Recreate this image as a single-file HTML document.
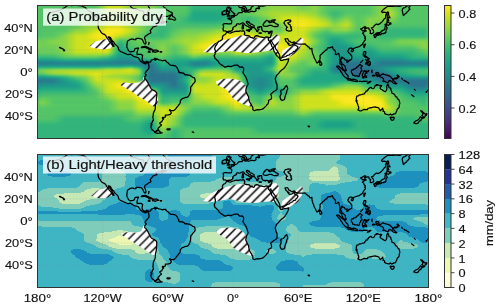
<!DOCTYPE html><html><head><meta charset="utf-8"><style>html,body{margin:0;padding:0;background:#fff;}svg{display:block;}text{font-family:"Liberation Sans",sans-serif;fill:#111;stroke:#111;stroke-width:0.15px;}svg{will-change:transform;}</style></head><body><svg width="500" height="307" viewBox="0 0 500 307"><defs><filter id="fv" filterUnits="userSpaceOnUse" x="20" y="-20" width="430" height="180" color-interpolation-filters="sRGB"><feGaussianBlur stdDeviation="0.8 2.2"/><feComponentTransfer><feFuncR type="table" tableValues="0.27 0.28 0.28 0.28 0.28 0.27 0.26 0.24 0.23 0.21 0.2 0.19 0.17 0.16 0.15 0.14 0.13 0.12 0.12 0.13 0.16 0.2 0.25 0.3 0.37 0.44 0.52 0.6 0.68 0.76 0.85 0.93 0.99"/><feFuncG type="table" tableValues="0 0.05 0.09 0.14 0.18 0.21 0.25 0.29 0.32 0.36 0.39 0.42 0.45 0.48 0.51 0.54 0.57 0.6 0.63 0.66 0.68 0.71 0.74 0.76 0.79 0.81 0.83 0.85 0.86 0.88 0.89 0.9 0.91"/><feFuncB type="table" tableValues="0.33 0.38 0.42 0.45 0.48 0.51 0.52 0.54 0.55 0.55 0.55 0.56 0.56 0.56 0.56 0.55 0.55 0.54 0.53 0.52 0.5 0.48 0.45 0.42 0.38 0.34 0.29 0.24 0.19 0.14 0.1 0.1 0.14"/><feFuncA type="discrete" tableValues="1"/></feComponentTransfer></filter><filter id="fb" filterUnits="userSpaceOnUse" x="20" y="130" width="430" height="180" color-interpolation-filters="sRGB"><feGaussianBlur stdDeviation="1 1.6"/><feComponentTransfer><feFuncR type="discrete" tableValues="1 0.93 0.78 0.5 0.25 0.11 0.13 0.15 0.03"/><feFuncG type="discrete" tableValues="1 0.97 0.91 0.8 0.71 0.57 0.37 0.2 0.11"/><feFuncB type="discrete" tableValues="0.85 0.69 0.71 0.73 0.77 0.75 0.66 0.58 0.35"/><feFuncA type="discrete" tableValues="1"/></feComponentTransfer></filter><pattern id="hp0" patternUnits="userSpaceOnUse" width="8.84" height="8.84"><path d="M-4.11,-2L-2,-4.11M4.73,-2L-2,4.73M13.57,-2L-2,13.57M22.41,-2L-2,22.41" stroke="#000" stroke-width="1.45" fill="none"/></pattern><pattern id="hp1" patternUnits="userSpaceOnUse" width="8.84" height="8.84"><path d="M-4.14,-2L-2,-4.14M4.7,-2L-2,4.7M13.54,-2L-2,13.54M22.38,-2L-2,22.38" stroke="#000" stroke-width="1.45" fill="none"/></pattern><pattern id="hp2" patternUnits="userSpaceOnUse" width="8.84" height="8.84"><path d="M-4.04,-2L-2,-4.04M4.8,-2L-2,4.8M13.64,-2L-2,13.64M22.48,-2L-2,22.48" stroke="#000" stroke-width="1.45" fill="none"/></pattern><pattern id="hp3" patternUnits="userSpaceOnUse" width="8.84" height="8.84"><path d="M-3.38,-2L-2,-3.38M5.46,-2L-2,5.46M14.3,-2L-2,14.3M23.14,-2L-2,23.14" stroke="#000" stroke-width="1.45" fill="none"/></pattern><pattern id="hp4" patternUnits="userSpaceOnUse" width="8.84" height="8.84"><path d="M-3.97,-2L-2,-3.97M4.87,-2L-2,4.87M13.71,-2L-2,13.71M22.55,-2L-2,22.55" stroke="#000" stroke-width="1.45" fill="none"/></pattern><pattern id="hp5" patternUnits="userSpaceOnUse" width="8.84" height="8.84"><path d="M-2.34,-2L-2,-2.34M6.5,-2L-2,6.5M15.34,-2L-2,15.34M24.18,-2L-2,24.18" stroke="#000" stroke-width="1.45" fill="none"/></pattern><pattern id="hp6" patternUnits="userSpaceOnUse" width="8.84" height="8.84"><path d="M-2.77,-2L-2,-2.77M6.07,-2L-2,6.07M14.91,-2L-2,14.91M23.75,-2L-2,23.75" stroke="#000" stroke-width="1.45" fill="none"/></pattern><pattern id="hp7" patternUnits="userSpaceOnUse" width="8.84" height="8.84"><path d="M-2.54,-2L-2,-2.54M6.3,-2L-2,6.3M15.14,-2L-2,15.14M23.98,-2L-2,23.98" stroke="#000" stroke-width="1.45" fill="none"/></pattern><pattern id="hp8" patternUnits="userSpaceOnUse" width="8.84" height="8.84"><path d="M-1.63,-2L-2,-1.63M7.21,-2L-2,7.21M16.05,-2L-2,16.05M24.89,-2L-2,24.89" stroke="#000" stroke-width="1.45" fill="none"/></pattern><clipPath id="c0"><rect x="38" y="6" width="390" height="132"/></clipPath><clipPath id="c1"><rect x="38" y="155" width="390" height="132"/></clipPath><linearGradient id="t0" gradientUnits="userSpaceOnUse" x1="37.5" y1="0" x2="428.5" y2="0"><stop offset="0" stop-color="rgb(187,187,187)"/><stop offset="0.01" stop-color="rgb(187,187,187)"/><stop offset="0.04" stop-color="rgb(187,187,187)"/><stop offset="0.07" stop-color="rgb(187,187,187)"/><stop offset="0.1" stop-color="rgb(187,187,187)"/><stop offset="0.12" stop-color="rgb(187,187,187)"/><stop offset="0.15" stop-color="rgb(187,187,187)"/><stop offset="0.18" stop-color="rgb(235,235,235)"/><stop offset="0.21" stop-color="rgb(235,235,235)"/><stop offset="0.24" stop-color="rgb(210,210,210)"/><stop offset="0.26" stop-color="rgb(210,210,210)"/><stop offset="0.29" stop-color="rgb(210,210,210)"/><stop offset="0.32" stop-color="rgb(187,187,187)"/><stop offset="0.35" stop-color="rgb(187,187,187)"/><stop offset="0.38" stop-color="rgb(187,187,187)"/><stop offset="0.4" stop-color="rgb(167,167,167)"/><stop offset="0.43" stop-color="rgb(167,167,167)"/><stop offset="0.46" stop-color="rgb(167,167,167)"/><stop offset="0.49" stop-color="rgb(167,167,167)"/><stop offset="0.51" stop-color="rgb(177,177,177)"/><stop offset="0.54" stop-color="rgb(187,187,187)"/><stop offset="0.57" stop-color="rgb(198,198,198)"/><stop offset="0.6" stop-color="rgb(210,210,210)"/><stop offset="0.62" stop-color="rgb(210,210,210)"/><stop offset="0.65" stop-color="rgb(210,210,210)"/><stop offset="0.68" stop-color="rgb(198,198,198)"/><stop offset="0.71" stop-color="rgb(210,210,210)"/><stop offset="0.74" stop-color="rgb(187,187,187)"/><stop offset="0.76" stop-color="rgb(187,187,187)"/><stop offset="0.79" stop-color="rgb(187,187,187)"/><stop offset="0.82" stop-color="rgb(187,187,187)"/><stop offset="0.85" stop-color="rgb(187,187,187)"/><stop offset="0.88" stop-color="rgb(210,210,210)"/><stop offset="0.9" stop-color="rgb(210,210,210)"/><stop offset="0.93" stop-color="rgb(187,187,187)"/><stop offset="0.96" stop-color="rgb(187,187,187)"/><stop offset="0.99" stop-color="rgb(187,187,187)"/><stop offset="1" stop-color="rgb(187,187,187)"/></linearGradient><linearGradient id="t1" gradientUnits="userSpaceOnUse" x1="37.5" y1="0" x2="428.5" y2="0"><stop offset="0" stop-color="rgb(187,187,187)"/><stop offset="0.01" stop-color="rgb(187,187,187)"/><stop offset="0.04" stop-color="rgb(187,187,187)"/><stop offset="0.07" stop-color="rgb(187,187,187)"/><stop offset="0.1" stop-color="rgb(187,187,187)"/><stop offset="0.12" stop-color="rgb(187,187,187)"/><stop offset="0.15" stop-color="rgb(187,187,187)"/><stop offset="0.18" stop-color="rgb(210,210,210)"/><stop offset="0.21" stop-color="rgb(210,210,210)"/><stop offset="0.24" stop-color="rgb(210,210,210)"/><stop offset="0.26" stop-color="rgb(210,210,210)"/><stop offset="0.29" stop-color="rgb(187,187,187)"/><stop offset="0.32" stop-color="rgb(187,187,187)"/><stop offset="0.35" stop-color="rgb(187,187,187)"/><stop offset="0.38" stop-color="rgb(187,187,187)"/><stop offset="0.4" stop-color="rgb(152,152,152)"/><stop offset="0.43" stop-color="rgb(152,152,152)"/><stop offset="0.46" stop-color="rgb(152,152,152)"/><stop offset="0.49" stop-color="rgb(167,167,167)"/><stop offset="0.51" stop-color="rgb(187,187,187)"/><stop offset="0.54" stop-color="rgb(198,198,198)"/><stop offset="0.57" stop-color="rgb(210,210,210)"/><stop offset="0.6" stop-color="rgb(222,222,222)"/><stop offset="0.62" stop-color="rgb(222,222,222)"/><stop offset="0.65" stop-color="rgb(222,222,222)"/><stop offset="0.68" stop-color="rgb(222,222,222)"/><stop offset="0.71" stop-color="rgb(210,210,210)"/><stop offset="0.74" stop-color="rgb(187,187,187)"/><stop offset="0.76" stop-color="rgb(167,167,167)"/><stop offset="0.79" stop-color="rgb(187,187,187)"/><stop offset="0.82" stop-color="rgb(187,187,187)"/><stop offset="0.85" stop-color="rgb(187,187,187)"/><stop offset="0.88" stop-color="rgb(210,210,210)"/><stop offset="0.9" stop-color="rgb(235,235,235)"/><stop offset="0.93" stop-color="rgb(187,187,187)"/><stop offset="0.96" stop-color="rgb(187,187,187)"/><stop offset="0.99" stop-color="rgb(187,187,187)"/><stop offset="1" stop-color="rgb(187,187,187)"/></linearGradient><linearGradient id="t2" gradientUnits="userSpaceOnUse" x1="37.5" y1="0" x2="428.5" y2="0"><stop offset="0" stop-color="rgb(187,187,187)"/><stop offset="0.01" stop-color="rgb(187,187,187)"/><stop offset="0.04" stop-color="rgb(187,187,187)"/><stop offset="0.07" stop-color="rgb(187,187,187)"/><stop offset="0.1" stop-color="rgb(187,187,187)"/><stop offset="0.12" stop-color="rgb(187,187,187)"/><stop offset="0.15" stop-color="rgb(187,187,187)"/><stop offset="0.18" stop-color="rgb(210,210,210)"/><stop offset="0.21" stop-color="rgb(210,210,210)"/><stop offset="0.24" stop-color="rgb(210,210,210)"/><stop offset="0.26" stop-color="rgb(210,210,210)"/><stop offset="0.29" stop-color="rgb(187,187,187)"/><stop offset="0.32" stop-color="rgb(187,187,187)"/><stop offset="0.35" stop-color="rgb(187,187,187)"/><stop offset="0.38" stop-color="rgb(167,167,167)"/><stop offset="0.4" stop-color="rgb(152,152,152)"/><stop offset="0.43" stop-color="rgb(152,152,152)"/><stop offset="0.46" stop-color="rgb(152,152,152)"/><stop offset="0.49" stop-color="rgb(167,167,167)"/><stop offset="0.51" stop-color="rgb(187,187,187)"/><stop offset="0.54" stop-color="rgb(167,167,167)"/><stop offset="0.57" stop-color="rgb(187,187,187)"/><stop offset="0.6" stop-color="rgb(210,210,210)"/><stop offset="0.62" stop-color="rgb(235,235,235)"/><stop offset="0.65" stop-color="rgb(245,245,245)"/><stop offset="0.68" stop-color="rgb(245,245,245)"/><stop offset="0.71" stop-color="rgb(235,235,235)"/><stop offset="0.74" stop-color="rgb(210,210,210)"/><stop offset="0.76" stop-color="rgb(187,187,187)"/><stop offset="0.79" stop-color="rgb(210,210,210)"/><stop offset="0.82" stop-color="rgb(187,187,187)"/><stop offset="0.85" stop-color="rgb(210,210,210)"/><stop offset="0.88" stop-color="rgb(210,210,210)"/><stop offset="0.9" stop-color="rgb(210,210,210)"/><stop offset="0.93" stop-color="rgb(187,187,187)"/><stop offset="0.96" stop-color="rgb(187,187,187)"/><stop offset="0.99" stop-color="rgb(187,187,187)"/><stop offset="1" stop-color="rgb(187,187,187)"/></linearGradient><linearGradient id="t3" gradientUnits="userSpaceOnUse" x1="37.5" y1="0" x2="428.5" y2="0"><stop offset="0" stop-color="rgb(187,187,187)"/><stop offset="0.01" stop-color="rgb(187,187,187)"/><stop offset="0.04" stop-color="rgb(187,187,187)"/><stop offset="0.07" stop-color="rgb(187,187,187)"/><stop offset="0.1" stop-color="rgb(187,187,187)"/><stop offset="0.12" stop-color="rgb(210,210,210)"/><stop offset="0.15" stop-color="rgb(210,210,210)"/><stop offset="0.18" stop-color="rgb(235,235,235)"/><stop offset="0.21" stop-color="rgb(235,235,235)"/><stop offset="0.24" stop-color="rgb(210,210,210)"/><stop offset="0.26" stop-color="rgb(210,210,210)"/><stop offset="0.29" stop-color="rgb(187,187,187)"/><stop offset="0.32" stop-color="rgb(167,167,167)"/><stop offset="0.35" stop-color="rgb(177,177,177)"/><stop offset="0.38" stop-color="rgb(177,177,177)"/><stop offset="0.4" stop-color="rgb(177,177,177)"/><stop offset="0.43" stop-color="rgb(177,177,177)"/><stop offset="0.46" stop-color="rgb(177,177,177)"/><stop offset="0.49" stop-color="rgb(187,187,187)"/><stop offset="0.51" stop-color="rgb(198,198,198)"/><stop offset="0.54" stop-color="rgb(187,187,187)"/><stop offset="0.57" stop-color="rgb(187,187,187)"/><stop offset="0.6" stop-color="rgb(198,198,198)"/><stop offset="0.62" stop-color="rgb(198,198,198)"/><stop offset="0.65" stop-color="rgb(245,245,245)"/><stop offset="0.68" stop-color="rgb(255,255,255)"/><stop offset="0.71" stop-color="rgb(245,245,245)"/><stop offset="0.74" stop-color="rgb(235,235,235)"/><stop offset="0.76" stop-color="rgb(210,210,210)"/><stop offset="0.79" stop-color="rgb(235,235,235)"/><stop offset="0.82" stop-color="rgb(187,187,187)"/><stop offset="0.85" stop-color="rgb(210,210,210)"/><stop offset="0.88" stop-color="rgb(187,187,187)"/><stop offset="0.9" stop-color="rgb(187,187,187)"/><stop offset="0.93" stop-color="rgb(187,187,187)"/><stop offset="0.96" stop-color="rgb(187,187,187)"/><stop offset="0.99" stop-color="rgb(187,187,187)"/><stop offset="1" stop-color="rgb(187,187,187)"/></linearGradient><linearGradient id="t4" gradientUnits="userSpaceOnUse" x1="37.5" y1="0" x2="428.5" y2="0"><stop offset="0" stop-color="rgb(177,177,177)"/><stop offset="0.01" stop-color="rgb(187,187,187)"/><stop offset="0.04" stop-color="rgb(187,187,187)"/><stop offset="0.07" stop-color="rgb(187,187,187)"/><stop offset="0.1" stop-color="rgb(210,210,210)"/><stop offset="0.12" stop-color="rgb(210,210,210)"/><stop offset="0.15" stop-color="rgb(235,235,235)"/><stop offset="0.18" stop-color="rgb(255,255,255)"/><stop offset="0.21" stop-color="rgb(255,255,255)"/><stop offset="0.24" stop-color="rgb(235,235,235)"/><stop offset="0.26" stop-color="rgb(210,210,210)"/><stop offset="0.29" stop-color="rgb(187,187,187)"/><stop offset="0.32" stop-color="rgb(167,167,167)"/><stop offset="0.35" stop-color="rgb(187,187,187)"/><stop offset="0.38" stop-color="rgb(198,198,198)"/><stop offset="0.4" stop-color="rgb(198,198,198)"/><stop offset="0.43" stop-color="rgb(198,198,198)"/><stop offset="0.46" stop-color="rgb(210,210,210)"/><stop offset="0.49" stop-color="rgb(222,222,222)"/><stop offset="0.51" stop-color="rgb(222,222,222)"/><stop offset="0.54" stop-color="rgb(210,210,210)"/><stop offset="0.57" stop-color="rgb(198,198,198)"/><stop offset="0.6" stop-color="rgb(198,198,198)"/><stop offset="0.62" stop-color="rgb(187,187,187)"/><stop offset="0.65" stop-color="rgb(235,235,235)"/><stop offset="0.68" stop-color="rgb(235,235,235)"/><stop offset="0.71" stop-color="rgb(210,210,210)"/><stop offset="0.74" stop-color="rgb(187,187,187)"/><stop offset="0.76" stop-color="rgb(210,210,210)"/><stop offset="0.79" stop-color="rgb(210,210,210)"/><stop offset="0.82" stop-color="rgb(187,187,187)"/><stop offset="0.85" stop-color="rgb(210,210,210)"/><stop offset="0.88" stop-color="rgb(187,187,187)"/><stop offset="0.9" stop-color="rgb(167,167,167)"/><stop offset="0.93" stop-color="rgb(167,167,167)"/><stop offset="0.96" stop-color="rgb(167,167,167)"/><stop offset="0.99" stop-color="rgb(167,167,167)"/><stop offset="1" stop-color="rgb(177,177,177)"/></linearGradient><linearGradient id="t5" gradientUnits="userSpaceOnUse" x1="37.5" y1="0" x2="428.5" y2="0"><stop offset="0" stop-color="rgb(177,177,177)"/><stop offset="0.01" stop-color="rgb(187,187,187)"/><stop offset="0.04" stop-color="rgb(187,187,187)"/><stop offset="0.07" stop-color="rgb(210,210,210)"/><stop offset="0.1" stop-color="rgb(235,235,235)"/><stop offset="0.12" stop-color="rgb(235,235,235)"/><stop offset="0.15" stop-color="rgb(255,255,255)"/><stop offset="0.18" stop-color="rgb(255,255,255)"/><stop offset="0.21" stop-color="rgb(235,235,235)"/><stop offset="0.24" stop-color="rgb(210,210,210)"/><stop offset="0.26" stop-color="rgb(198,198,198)"/><stop offset="0.29" stop-color="rgb(167,167,167)"/><stop offset="0.32" stop-color="rgb(167,167,167)"/><stop offset="0.35" stop-color="rgb(198,198,198)"/><stop offset="0.38" stop-color="rgb(210,210,210)"/><stop offset="0.4" stop-color="rgb(210,210,210)"/><stop offset="0.43" stop-color="rgb(222,222,222)"/><stop offset="0.46" stop-color="rgb(235,235,235)"/><stop offset="0.49" stop-color="rgb(255,255,255)"/><stop offset="0.51" stop-color="rgb(255,255,255)"/><stop offset="0.54" stop-color="rgb(255,255,255)"/><stop offset="0.57" stop-color="rgb(235,235,235)"/><stop offset="0.6" stop-color="rgb(210,210,210)"/><stop offset="0.62" stop-color="rgb(235,235,235)"/><stop offset="0.65" stop-color="rgb(235,235,235)"/><stop offset="0.68" stop-color="rgb(235,235,235)"/><stop offset="0.71" stop-color="rgb(187,187,187)"/><stop offset="0.74" stop-color="rgb(167,167,167)"/><stop offset="0.76" stop-color="rgb(167,167,167)"/><stop offset="0.79" stop-color="rgb(167,167,167)"/><stop offset="0.82" stop-color="rgb(167,167,167)"/><stop offset="0.85" stop-color="rgb(187,187,187)"/><stop offset="0.88" stop-color="rgb(167,167,167)"/><stop offset="0.9" stop-color="rgb(167,167,167)"/><stop offset="0.93" stop-color="rgb(167,167,167)"/><stop offset="0.96" stop-color="rgb(167,167,167)"/><stop offset="0.99" stop-color="rgb(167,167,167)"/><stop offset="1" stop-color="rgb(177,177,177)"/></linearGradient><linearGradient id="t6" gradientUnits="userSpaceOnUse" x1="37.5" y1="0" x2="428.5" y2="0"><stop offset="0" stop-color="rgb(204,204,204)"/><stop offset="0.01" stop-color="rgb(198,198,198)"/><stop offset="0.04" stop-color="rgb(210,210,210)"/><stop offset="0.07" stop-color="rgb(210,210,210)"/><stop offset="0.1" stop-color="rgb(235,235,235)"/><stop offset="0.12" stop-color="rgb(235,235,235)"/><stop offset="0.15" stop-color="rgb(235,235,235)"/><stop offset="0.18" stop-color="rgb(255,255,255)"/><stop offset="0.21" stop-color="rgb(167,167,167)"/><stop offset="0.24" stop-color="rgb(187,187,187)"/><stop offset="0.26" stop-color="rgb(198,198,198)"/><stop offset="0.29" stop-color="rgb(198,198,198)"/><stop offset="0.32" stop-color="rgb(198,198,198)"/><stop offset="0.35" stop-color="rgb(210,210,210)"/><stop offset="0.38" stop-color="rgb(222,222,222)"/><stop offset="0.4" stop-color="rgb(222,222,222)"/><stop offset="0.43" stop-color="rgb(235,235,235)"/><stop offset="0.46" stop-color="rgb(255,255,255)"/><stop offset="0.49" stop-color="rgb(255,255,255)"/><stop offset="0.51" stop-color="rgb(255,255,255)"/><stop offset="0.54" stop-color="rgb(255,255,255)"/><stop offset="0.57" stop-color="rgb(255,255,255)"/><stop offset="0.6" stop-color="rgb(235,235,235)"/><stop offset="0.62" stop-color="rgb(235,235,235)"/><stop offset="0.65" stop-color="rgb(235,235,235)"/><stop offset="0.68" stop-color="rgb(255,255,255)"/><stop offset="0.71" stop-color="rgb(210,210,210)"/><stop offset="0.74" stop-color="rgb(167,167,167)"/><stop offset="0.76" stop-color="rgb(136,136,136)"/><stop offset="0.79" stop-color="rgb(167,167,167)"/><stop offset="0.82" stop-color="rgb(187,187,187)"/><stop offset="0.85" stop-color="rgb(187,187,187)"/><stop offset="0.88" stop-color="rgb(187,187,187)"/><stop offset="0.9" stop-color="rgb(187,187,187)"/><stop offset="0.93" stop-color="rgb(210,210,210)"/><stop offset="0.96" stop-color="rgb(210,210,210)"/><stop offset="0.99" stop-color="rgb(210,210,210)"/><stop offset="1" stop-color="rgb(204,204,204)"/></linearGradient><linearGradient id="t7" gradientUnits="userSpaceOnUse" x1="37.5" y1="0" x2="428.5" y2="0"><stop offset="0" stop-color="rgb(204,204,204)"/><stop offset="0.01" stop-color="rgb(198,198,198)"/><stop offset="0.04" stop-color="rgb(198,198,198)"/><stop offset="0.07" stop-color="rgb(210,210,210)"/><stop offset="0.1" stop-color="rgb(235,235,235)"/><stop offset="0.12" stop-color="rgb(235,235,235)"/><stop offset="0.15" stop-color="rgb(255,255,255)"/><stop offset="0.18" stop-color="rgb(255,255,255)"/><stop offset="0.21" stop-color="rgb(152,152,152)"/><stop offset="0.24" stop-color="rgb(187,187,187)"/><stop offset="0.26" stop-color="rgb(187,187,187)"/><stop offset="0.29" stop-color="rgb(187,187,187)"/><stop offset="0.32" stop-color="rgb(210,210,210)"/><stop offset="0.35" stop-color="rgb(187,187,187)"/><stop offset="0.38" stop-color="rgb(210,210,210)"/><stop offset="0.4" stop-color="rgb(235,235,235)"/><stop offset="0.43" stop-color="rgb(255,255,255)"/><stop offset="0.46" stop-color="rgb(255,255,255)"/><stop offset="0.49" stop-color="rgb(255,255,255)"/><stop offset="0.51" stop-color="rgb(255,255,255)"/><stop offset="0.54" stop-color="rgb(255,255,255)"/><stop offset="0.57" stop-color="rgb(255,255,255)"/><stop offset="0.6" stop-color="rgb(255,255,255)"/><stop offset="0.62" stop-color="rgb(255,255,255)"/><stop offset="0.65" stop-color="rgb(235,235,235)"/><stop offset="0.68" stop-color="rgb(235,235,235)"/><stop offset="0.71" stop-color="rgb(187,187,187)"/><stop offset="0.74" stop-color="rgb(167,167,167)"/><stop offset="0.76" stop-color="rgb(136,136,136)"/><stop offset="0.79" stop-color="rgb(136,136,136)"/><stop offset="0.82" stop-color="rgb(167,167,167)"/><stop offset="0.85" stop-color="rgb(167,167,167)"/><stop offset="0.88" stop-color="rgb(187,187,187)"/><stop offset="0.9" stop-color="rgb(187,187,187)"/><stop offset="0.93" stop-color="rgb(187,187,187)"/><stop offset="0.96" stop-color="rgb(187,187,187)"/><stop offset="0.99" stop-color="rgb(210,210,210)"/><stop offset="1" stop-color="rgb(204,204,204)"/></linearGradient><linearGradient id="t8" gradientUnits="userSpaceOnUse" x1="37.5" y1="0" x2="428.5" y2="0"><stop offset="0" stop-color="rgb(193,193,193)"/><stop offset="0.01" stop-color="rgb(198,198,198)"/><stop offset="0.04" stop-color="rgb(198,198,198)"/><stop offset="0.07" stop-color="rgb(210,210,210)"/><stop offset="0.1" stop-color="rgb(235,235,235)"/><stop offset="0.12" stop-color="rgb(235,235,235)"/><stop offset="0.15" stop-color="rgb(235,235,235)"/><stop offset="0.18" stop-color="rgb(235,235,235)"/><stop offset="0.21" stop-color="rgb(152,152,152)"/><stop offset="0.24" stop-color="rgb(152,152,152)"/><stop offset="0.26" stop-color="rgb(187,187,187)"/><stop offset="0.29" stop-color="rgb(187,187,187)"/><stop offset="0.32" stop-color="rgb(210,210,210)"/><stop offset="0.35" stop-color="rgb(187,187,187)"/><stop offset="0.38" stop-color="rgb(210,210,210)"/><stop offset="0.4" stop-color="rgb(235,235,235)"/><stop offset="0.43" stop-color="rgb(235,235,235)"/><stop offset="0.46" stop-color="rgb(210,210,210)"/><stop offset="0.49" stop-color="rgb(210,210,210)"/><stop offset="0.51" stop-color="rgb(235,235,235)"/><stop offset="0.54" stop-color="rgb(235,235,235)"/><stop offset="0.57" stop-color="rgb(210,210,210)"/><stop offset="0.6" stop-color="rgb(187,187,187)"/><stop offset="0.62" stop-color="rgb(255,255,255)"/><stop offset="0.65" stop-color="rgb(255,255,255)"/><stop offset="0.68" stop-color="rgb(222,222,222)"/><stop offset="0.71" stop-color="rgb(198,198,198)"/><stop offset="0.74" stop-color="rgb(167,167,167)"/><stop offset="0.76" stop-color="rgb(136,136,136)"/><stop offset="0.79" stop-color="rgb(136,136,136)"/><stop offset="0.82" stop-color="rgb(167,167,167)"/><stop offset="0.85" stop-color="rgb(136,136,136)"/><stop offset="0.88" stop-color="rgb(167,167,167)"/><stop offset="0.9" stop-color="rgb(167,167,167)"/><stop offset="0.93" stop-color="rgb(167,167,167)"/><stop offset="0.96" stop-color="rgb(167,167,167)"/><stop offset="0.99" stop-color="rgb(187,187,187)"/><stop offset="1" stop-color="rgb(193,193,193)"/></linearGradient><linearGradient id="t9" gradientUnits="userSpaceOnUse" x1="37.5" y1="0" x2="428.5" y2="0"><stop offset="0" stop-color="rgb(167,167,167)"/><stop offset="0.01" stop-color="rgb(167,167,167)"/><stop offset="0.04" stop-color="rgb(167,167,167)"/><stop offset="0.07" stop-color="rgb(187,187,187)"/><stop offset="0.1" stop-color="rgb(187,187,187)"/><stop offset="0.12" stop-color="rgb(187,187,187)"/><stop offset="0.15" stop-color="rgb(187,187,187)"/><stop offset="0.18" stop-color="rgb(167,167,167)"/><stop offset="0.21" stop-color="rgb(136,136,136)"/><stop offset="0.24" stop-color="rgb(136,136,136)"/><stop offset="0.26" stop-color="rgb(167,167,167)"/><stop offset="0.29" stop-color="rgb(187,187,187)"/><stop offset="0.32" stop-color="rgb(187,187,187)"/><stop offset="0.35" stop-color="rgb(167,167,167)"/><stop offset="0.38" stop-color="rgb(167,167,167)"/><stop offset="0.4" stop-color="rgb(187,187,187)"/><stop offset="0.43" stop-color="rgb(167,167,167)"/><stop offset="0.46" stop-color="rgb(167,167,167)"/><stop offset="0.49" stop-color="rgb(167,167,167)"/><stop offset="0.51" stop-color="rgb(167,167,167)"/><stop offset="0.54" stop-color="rgb(167,167,167)"/><stop offset="0.57" stop-color="rgb(167,167,167)"/><stop offset="0.6" stop-color="rgb(136,136,136)"/><stop offset="0.62" stop-color="rgb(235,235,235)"/><stop offset="0.65" stop-color="rgb(235,235,235)"/><stop offset="0.68" stop-color="rgb(210,210,210)"/><stop offset="0.71" stop-color="rgb(198,198,198)"/><stop offset="0.74" stop-color="rgb(167,167,167)"/><stop offset="0.76" stop-color="rgb(136,136,136)"/><stop offset="0.79" stop-color="rgb(136,136,136)"/><stop offset="0.82" stop-color="rgb(136,136,136)"/><stop offset="0.85" stop-color="rgb(136,136,136)"/><stop offset="0.88" stop-color="rgb(136,136,136)"/><stop offset="0.9" stop-color="rgb(136,136,136)"/><stop offset="0.93" stop-color="rgb(136,136,136)"/><stop offset="0.96" stop-color="rgb(167,167,167)"/><stop offset="0.99" stop-color="rgb(167,167,167)"/><stop offset="1" stop-color="rgb(167,167,167)"/></linearGradient><linearGradient id="t10" gradientUnits="userSpaceOnUse" x1="37.5" y1="0" x2="428.5" y2="0"><stop offset="0" stop-color="rgb(96,96,96)"/><stop offset="0.01" stop-color="rgb(96,96,96)"/><stop offset="0.04" stop-color="rgb(96,96,96)"/><stop offset="0.07" stop-color="rgb(96,96,96)"/><stop offset="0.1" stop-color="rgb(96,96,96)"/><stop offset="0.12" stop-color="rgb(96,96,96)"/><stop offset="0.15" stop-color="rgb(96,96,96)"/><stop offset="0.18" stop-color="rgb(96,96,96)"/><stop offset="0.21" stop-color="rgb(96,96,96)"/><stop offset="0.24" stop-color="rgb(96,96,96)"/><stop offset="0.26" stop-color="rgb(96,96,96)"/><stop offset="0.29" stop-color="rgb(96,96,96)"/><stop offset="0.32" stop-color="rgb(167,167,167)"/><stop offset="0.35" stop-color="rgb(136,136,136)"/><stop offset="0.38" stop-color="rgb(136,136,136)"/><stop offset="0.4" stop-color="rgb(96,96,96)"/><stop offset="0.43" stop-color="rgb(96,96,96)"/><stop offset="0.46" stop-color="rgb(136,136,136)"/><stop offset="0.49" stop-color="rgb(136,136,136)"/><stop offset="0.51" stop-color="rgb(136,136,136)"/><stop offset="0.54" stop-color="rgb(136,136,136)"/><stop offset="0.57" stop-color="rgb(136,136,136)"/><stop offset="0.6" stop-color="rgb(136,136,136)"/><stop offset="0.62" stop-color="rgb(235,235,235)"/><stop offset="0.65" stop-color="rgb(210,210,210)"/><stop offset="0.68" stop-color="rgb(187,187,187)"/><stop offset="0.71" stop-color="rgb(210,210,210)"/><stop offset="0.74" stop-color="rgb(167,167,167)"/><stop offset="0.76" stop-color="rgb(136,136,136)"/><stop offset="0.79" stop-color="rgb(96,96,96)"/><stop offset="0.82" stop-color="rgb(96,96,96)"/><stop offset="0.85" stop-color="rgb(136,136,136)"/><stop offset="0.88" stop-color="rgb(96,96,96)"/><stop offset="0.9" stop-color="rgb(96,96,96)"/><stop offset="0.93" stop-color="rgb(96,96,96)"/><stop offset="0.96" stop-color="rgb(96,96,96)"/><stop offset="0.99" stop-color="rgb(96,96,96)"/><stop offset="1" stop-color="rgb(96,96,96)"/></linearGradient><linearGradient id="t11" gradientUnits="userSpaceOnUse" x1="37.5" y1="0" x2="428.5" y2="0"><stop offset="0" stop-color="rgb(182,182,182)"/><stop offset="0.01" stop-color="rgb(187,187,187)"/><stop offset="0.04" stop-color="rgb(187,187,187)"/><stop offset="0.07" stop-color="rgb(187,187,187)"/><stop offset="0.1" stop-color="rgb(187,187,187)"/><stop offset="0.12" stop-color="rgb(187,187,187)"/><stop offset="0.15" stop-color="rgb(187,187,187)"/><stop offset="0.18" stop-color="rgb(210,210,210)"/><stop offset="0.21" stop-color="rgb(210,210,210)"/><stop offset="0.24" stop-color="rgb(235,235,235)"/><stop offset="0.26" stop-color="rgb(187,187,187)"/><stop offset="0.29" stop-color="rgb(96,96,96)"/><stop offset="0.32" stop-color="rgb(136,136,136)"/><stop offset="0.35" stop-color="rgb(136,136,136)"/><stop offset="0.38" stop-color="rgb(167,167,167)"/><stop offset="0.4" stop-color="rgb(167,167,167)"/><stop offset="0.43" stop-color="rgb(187,187,187)"/><stop offset="0.46" stop-color="rgb(187,187,187)"/><stop offset="0.49" stop-color="rgb(187,187,187)"/><stop offset="0.51" stop-color="rgb(136,136,136)"/><stop offset="0.54" stop-color="rgb(136,136,136)"/><stop offset="0.57" stop-color="rgb(136,136,136)"/><stop offset="0.6" stop-color="rgb(187,187,187)"/><stop offset="0.62" stop-color="rgb(235,235,235)"/><stop offset="0.65" stop-color="rgb(187,187,187)"/><stop offset="0.68" stop-color="rgb(187,187,187)"/><stop offset="0.71" stop-color="rgb(167,167,167)"/><stop offset="0.74" stop-color="rgb(167,167,167)"/><stop offset="0.76" stop-color="rgb(96,96,96)"/><stop offset="0.79" stop-color="rgb(96,96,96)"/><stop offset="0.82" stop-color="rgb(96,96,96)"/><stop offset="0.85" stop-color="rgb(96,96,96)"/><stop offset="0.88" stop-color="rgb(136,136,136)"/><stop offset="0.9" stop-color="rgb(152,152,152)"/><stop offset="0.93" stop-color="rgb(167,167,167)"/><stop offset="0.96" stop-color="rgb(177,177,177)"/><stop offset="0.99" stop-color="rgb(177,177,177)"/><stop offset="1" stop-color="rgb(182,182,182)"/></linearGradient><linearGradient id="t12" gradientUnits="userSpaceOnUse" x1="37.5" y1="0" x2="428.5" y2="0"><stop offset="0" stop-color="rgb(172,172,172)"/><stop offset="0.01" stop-color="rgb(167,167,167)"/><stop offset="0.04" stop-color="rgb(187,187,187)"/><stop offset="0.07" stop-color="rgb(187,187,187)"/><stop offset="0.1" stop-color="rgb(210,210,210)"/><stop offset="0.12" stop-color="rgb(210,210,210)"/><stop offset="0.15" stop-color="rgb(235,235,235)"/><stop offset="0.18" stop-color="rgb(210,210,210)"/><stop offset="0.21" stop-color="rgb(198,198,198)"/><stop offset="0.24" stop-color="rgb(198,198,198)"/><stop offset="0.26" stop-color="rgb(187,187,187)"/><stop offset="0.29" stop-color="rgb(96,96,96)"/><stop offset="0.32" stop-color="rgb(96,96,96)"/><stop offset="0.35" stop-color="rgb(96,96,96)"/><stop offset="0.38" stop-color="rgb(136,136,136)"/><stop offset="0.4" stop-color="rgb(187,187,187)"/><stop offset="0.43" stop-color="rgb(187,187,187)"/><stop offset="0.46" stop-color="rgb(187,187,187)"/><stop offset="0.49" stop-color="rgb(210,210,210)"/><stop offset="0.51" stop-color="rgb(210,210,210)"/><stop offset="0.54" stop-color="rgb(136,136,136)"/><stop offset="0.57" stop-color="rgb(136,136,136)"/><stop offset="0.6" stop-color="rgb(136,136,136)"/><stop offset="0.62" stop-color="rgb(210,210,210)"/><stop offset="0.65" stop-color="rgb(210,210,210)"/><stop offset="0.68" stop-color="rgb(177,177,177)"/><stop offset="0.71" stop-color="rgb(152,152,152)"/><stop offset="0.74" stop-color="rgb(152,152,152)"/><stop offset="0.76" stop-color="rgb(152,152,152)"/><stop offset="0.79" stop-color="rgb(136,136,136)"/><stop offset="0.82" stop-color="rgb(96,96,96)"/><stop offset="0.85" stop-color="rgb(96,96,96)"/><stop offset="0.88" stop-color="rgb(84,84,84)"/><stop offset="0.9" stop-color="rgb(116,116,116)"/><stop offset="0.93" stop-color="rgb(152,152,152)"/><stop offset="0.96" stop-color="rgb(167,167,167)"/><stop offset="0.99" stop-color="rgb(177,177,177)"/><stop offset="1" stop-color="rgb(172,172,172)"/></linearGradient><linearGradient id="t13" gradientUnits="userSpaceOnUse" x1="37.5" y1="0" x2="428.5" y2="0"><stop offset="0" stop-color="rgb(96,96,96)"/><stop offset="0.01" stop-color="rgb(96,96,96)"/><stop offset="0.04" stop-color="rgb(96,96,96)"/><stop offset="0.07" stop-color="rgb(136,136,136)"/><stop offset="0.1" stop-color="rgb(167,167,167)"/><stop offset="0.12" stop-color="rgb(187,187,187)"/><stop offset="0.15" stop-color="rgb(235,235,235)"/><stop offset="0.18" stop-color="rgb(235,235,235)"/><stop offset="0.21" stop-color="rgb(235,235,235)"/><stop offset="0.24" stop-color="rgb(210,210,210)"/><stop offset="0.26" stop-color="rgb(187,187,187)"/><stop offset="0.29" stop-color="rgb(96,96,96)"/><stop offset="0.32" stop-color="rgb(96,96,96)"/><stop offset="0.35" stop-color="rgb(96,96,96)"/><stop offset="0.38" stop-color="rgb(167,167,167)"/><stop offset="0.4" stop-color="rgb(210,210,210)"/><stop offset="0.43" stop-color="rgb(210,210,210)"/><stop offset="0.46" stop-color="rgb(235,235,235)"/><stop offset="0.49" stop-color="rgb(235,235,235)"/><stop offset="0.51" stop-color="rgb(235,235,235)"/><stop offset="0.54" stop-color="rgb(136,136,136)"/><stop offset="0.57" stop-color="rgb(116,116,116)"/><stop offset="0.6" stop-color="rgb(136,136,136)"/><stop offset="0.62" stop-color="rgb(187,187,187)"/><stop offset="0.65" stop-color="rgb(187,187,187)"/><stop offset="0.68" stop-color="rgb(152,152,152)"/><stop offset="0.71" stop-color="rgb(152,152,152)"/><stop offset="0.74" stop-color="rgb(152,152,152)"/><stop offset="0.76" stop-color="rgb(152,152,152)"/><stop offset="0.79" stop-color="rgb(152,152,152)"/><stop offset="0.82" stop-color="rgb(136,136,136)"/><stop offset="0.85" stop-color="rgb(136,136,136)"/><stop offset="0.88" stop-color="rgb(96,96,96)"/><stop offset="0.9" stop-color="rgb(96,96,96)"/><stop offset="0.93" stop-color="rgb(96,96,96)"/><stop offset="0.96" stop-color="rgb(96,96,96)"/><stop offset="0.99" stop-color="rgb(96,96,96)"/><stop offset="1" stop-color="rgb(96,96,96)"/></linearGradient><linearGradient id="t14" gradientUnits="userSpaceOnUse" x1="37.5" y1="0" x2="428.5" y2="0"><stop offset="0" stop-color="rgb(116,116,116)"/><stop offset="0.01" stop-color="rgb(136,136,136)"/><stop offset="0.04" stop-color="rgb(136,136,136)"/><stop offset="0.07" stop-color="rgb(136,136,136)"/><stop offset="0.1" stop-color="rgb(136,136,136)"/><stop offset="0.12" stop-color="rgb(167,167,167)"/><stop offset="0.15" stop-color="rgb(210,210,210)"/><stop offset="0.18" stop-color="rgb(235,235,235)"/><stop offset="0.21" stop-color="rgb(255,255,255)"/><stop offset="0.24" stop-color="rgb(255,255,255)"/><stop offset="0.26" stop-color="rgb(255,255,255)"/><stop offset="0.29" stop-color="rgb(136,136,136)"/><stop offset="0.32" stop-color="rgb(136,136,136)"/><stop offset="0.35" stop-color="rgb(96,96,96)"/><stop offset="0.38" stop-color="rgb(136,136,136)"/><stop offset="0.4" stop-color="rgb(235,235,235)"/><stop offset="0.43" stop-color="rgb(235,235,235)"/><stop offset="0.46" stop-color="rgb(235,235,235)"/><stop offset="0.49" stop-color="rgb(255,255,255)"/><stop offset="0.51" stop-color="rgb(255,255,255)"/><stop offset="0.54" stop-color="rgb(136,136,136)"/><stop offset="0.57" stop-color="rgb(116,116,116)"/><stop offset="0.6" stop-color="rgb(136,136,136)"/><stop offset="0.62" stop-color="rgb(187,187,187)"/><stop offset="0.65" stop-color="rgb(187,187,187)"/><stop offset="0.68" stop-color="rgb(167,167,167)"/><stop offset="0.71" stop-color="rgb(167,167,167)"/><stop offset="0.74" stop-color="rgb(167,167,167)"/><stop offset="0.76" stop-color="rgb(187,187,187)"/><stop offset="0.79" stop-color="rgb(210,210,210)"/><stop offset="0.82" stop-color="rgb(210,210,210)"/><stop offset="0.85" stop-color="rgb(167,167,167)"/><stop offset="0.88" stop-color="rgb(167,167,167)"/><stop offset="0.9" stop-color="rgb(136,136,136)"/><stop offset="0.93" stop-color="rgb(136,136,136)"/><stop offset="0.96" stop-color="rgb(96,96,96)"/><stop offset="0.99" stop-color="rgb(96,96,96)"/><stop offset="1" stop-color="rgb(116,116,116)"/></linearGradient><linearGradient id="t15" gradientUnits="userSpaceOnUse" x1="37.5" y1="0" x2="428.5" y2="0"><stop offset="0" stop-color="rgb(152,152,152)"/><stop offset="0.01" stop-color="rgb(167,167,167)"/><stop offset="0.04" stop-color="rgb(167,167,167)"/><stop offset="0.07" stop-color="rgb(167,167,167)"/><stop offset="0.1" stop-color="rgb(167,167,167)"/><stop offset="0.12" stop-color="rgb(167,167,167)"/><stop offset="0.15" stop-color="rgb(187,187,187)"/><stop offset="0.18" stop-color="rgb(235,235,235)"/><stop offset="0.21" stop-color="rgb(235,235,235)"/><stop offset="0.24" stop-color="rgb(255,255,255)"/><stop offset="0.26" stop-color="rgb(255,255,255)"/><stop offset="0.29" stop-color="rgb(255,255,255)"/><stop offset="0.32" stop-color="rgb(136,136,136)"/><stop offset="0.35" stop-color="rgb(136,136,136)"/><stop offset="0.38" stop-color="rgb(136,136,136)"/><stop offset="0.4" stop-color="rgb(235,235,235)"/><stop offset="0.43" stop-color="rgb(235,235,235)"/><stop offset="0.46" stop-color="rgb(235,235,235)"/><stop offset="0.49" stop-color="rgb(255,255,255)"/><stop offset="0.51" stop-color="rgb(255,255,255)"/><stop offset="0.54" stop-color="rgb(167,167,167)"/><stop offset="0.57" stop-color="rgb(136,136,136)"/><stop offset="0.6" stop-color="rgb(167,167,167)"/><stop offset="0.62" stop-color="rgb(136,136,136)"/><stop offset="0.65" stop-color="rgb(187,187,187)"/><stop offset="0.68" stop-color="rgb(210,210,210)"/><stop offset="0.71" stop-color="rgb(210,210,210)"/><stop offset="0.74" stop-color="rgb(235,235,235)"/><stop offset="0.76" stop-color="rgb(235,235,235)"/><stop offset="0.79" stop-color="rgb(235,235,235)"/><stop offset="0.82" stop-color="rgb(235,235,235)"/><stop offset="0.85" stop-color="rgb(210,210,210)"/><stop offset="0.88" stop-color="rgb(210,210,210)"/><stop offset="0.9" stop-color="rgb(187,187,187)"/><stop offset="0.93" stop-color="rgb(167,167,167)"/><stop offset="0.96" stop-color="rgb(136,136,136)"/><stop offset="0.99" stop-color="rgb(136,136,136)"/><stop offset="1" stop-color="rgb(152,152,152)"/></linearGradient><linearGradient id="t16" gradientUnits="userSpaceOnUse" x1="37.5" y1="0" x2="428.5" y2="0"><stop offset="0" stop-color="rgb(177,177,177)"/><stop offset="0.01" stop-color="rgb(187,187,187)"/><stop offset="0.04" stop-color="rgb(187,187,187)"/><stop offset="0.07" stop-color="rgb(187,187,187)"/><stop offset="0.1" stop-color="rgb(187,187,187)"/><stop offset="0.12" stop-color="rgb(187,187,187)"/><stop offset="0.15" stop-color="rgb(187,187,187)"/><stop offset="0.18" stop-color="rgb(210,210,210)"/><stop offset="0.21" stop-color="rgb(235,235,235)"/><stop offset="0.24" stop-color="rgb(235,235,235)"/><stop offset="0.26" stop-color="rgb(255,255,255)"/><stop offset="0.29" stop-color="rgb(255,255,255)"/><stop offset="0.32" stop-color="rgb(167,167,167)"/><stop offset="0.35" stop-color="rgb(167,167,167)"/><stop offset="0.38" stop-color="rgb(167,167,167)"/><stop offset="0.4" stop-color="rgb(210,210,210)"/><stop offset="0.43" stop-color="rgb(235,235,235)"/><stop offset="0.46" stop-color="rgb(235,235,235)"/><stop offset="0.49" stop-color="rgb(255,255,255)"/><stop offset="0.51" stop-color="rgb(255,255,255)"/><stop offset="0.54" stop-color="rgb(187,187,187)"/><stop offset="0.57" stop-color="rgb(177,177,177)"/><stop offset="0.6" stop-color="rgb(210,210,210)"/><stop offset="0.62" stop-color="rgb(187,187,187)"/><stop offset="0.65" stop-color="rgb(210,210,210)"/><stop offset="0.68" stop-color="rgb(235,235,235)"/><stop offset="0.71" stop-color="rgb(235,235,235)"/><stop offset="0.74" stop-color="rgb(235,235,235)"/><stop offset="0.76" stop-color="rgb(255,255,255)"/><stop offset="0.79" stop-color="rgb(255,255,255)"/><stop offset="0.82" stop-color="rgb(255,255,255)"/><stop offset="0.85" stop-color="rgb(255,255,255)"/><stop offset="0.88" stop-color="rgb(235,235,235)"/><stop offset="0.9" stop-color="rgb(210,210,210)"/><stop offset="0.93" stop-color="rgb(187,187,187)"/><stop offset="0.96" stop-color="rgb(167,167,167)"/><stop offset="0.99" stop-color="rgb(167,167,167)"/><stop offset="1" stop-color="rgb(177,177,177)"/></linearGradient><linearGradient id="t17" gradientUnits="userSpaceOnUse" x1="37.5" y1="0" x2="428.5" y2="0"><stop offset="0" stop-color="rgb(188,188,188)"/><stop offset="0.01" stop-color="rgb(210,210,210)"/><stop offset="0.04" stop-color="rgb(187,187,187)"/><stop offset="0.07" stop-color="rgb(187,187,187)"/><stop offset="0.1" stop-color="rgb(187,187,187)"/><stop offset="0.12" stop-color="rgb(187,187,187)"/><stop offset="0.15" stop-color="rgb(187,187,187)"/><stop offset="0.18" stop-color="rgb(187,187,187)"/><stop offset="0.21" stop-color="rgb(210,210,210)"/><stop offset="0.24" stop-color="rgb(210,210,210)"/><stop offset="0.26" stop-color="rgb(235,235,235)"/><stop offset="0.29" stop-color="rgb(255,255,255)"/><stop offset="0.32" stop-color="rgb(167,167,167)"/><stop offset="0.35" stop-color="rgb(187,187,187)"/><stop offset="0.38" stop-color="rgb(187,187,187)"/><stop offset="0.4" stop-color="rgb(210,210,210)"/><stop offset="0.43" stop-color="rgb(210,210,210)"/><stop offset="0.46" stop-color="rgb(235,235,235)"/><stop offset="0.49" stop-color="rgb(235,235,235)"/><stop offset="0.51" stop-color="rgb(255,255,255)"/><stop offset="0.54" stop-color="rgb(198,198,198)"/><stop offset="0.57" stop-color="rgb(177,177,177)"/><stop offset="0.6" stop-color="rgb(235,235,235)"/><stop offset="0.62" stop-color="rgb(210,210,210)"/><stop offset="0.65" stop-color="rgb(210,210,210)"/><stop offset="0.68" stop-color="rgb(235,235,235)"/><stop offset="0.71" stop-color="rgb(235,235,235)"/><stop offset="0.74" stop-color="rgb(235,235,235)"/><stop offset="0.76" stop-color="rgb(235,235,235)"/><stop offset="0.79" stop-color="rgb(255,255,255)"/><stop offset="0.82" stop-color="rgb(255,255,255)"/><stop offset="0.85" stop-color="rgb(255,255,255)"/><stop offset="0.88" stop-color="rgb(255,255,255)"/><stop offset="0.9" stop-color="rgb(210,210,210)"/><stop offset="0.93" stop-color="rgb(187,187,187)"/><stop offset="0.96" stop-color="rgb(187,187,187)"/><stop offset="0.99" stop-color="rgb(167,167,167)"/><stop offset="1" stop-color="rgb(188,188,188)"/></linearGradient><linearGradient id="t18" gradientUnits="userSpaceOnUse" x1="37.5" y1="0" x2="428.5" y2="0"><stop offset="0" stop-color="rgb(187,187,187)"/><stop offset="0.01" stop-color="rgb(187,187,187)"/><stop offset="0.04" stop-color="rgb(187,187,187)"/><stop offset="0.07" stop-color="rgb(187,187,187)"/><stop offset="0.1" stop-color="rgb(187,187,187)"/><stop offset="0.12" stop-color="rgb(187,187,187)"/><stop offset="0.15" stop-color="rgb(187,187,187)"/><stop offset="0.18" stop-color="rgb(187,187,187)"/><stop offset="0.21" stop-color="rgb(210,210,210)"/><stop offset="0.24" stop-color="rgb(210,210,210)"/><stop offset="0.26" stop-color="rgb(235,235,235)"/><stop offset="0.29" stop-color="rgb(235,235,235)"/><stop offset="0.32" stop-color="rgb(235,235,235)"/><stop offset="0.35" stop-color="rgb(235,235,235)"/><stop offset="0.38" stop-color="rgb(210,210,210)"/><stop offset="0.4" stop-color="rgb(187,187,187)"/><stop offset="0.43" stop-color="rgb(187,187,187)"/><stop offset="0.46" stop-color="rgb(187,187,187)"/><stop offset="0.49" stop-color="rgb(210,210,210)"/><stop offset="0.51" stop-color="rgb(235,235,235)"/><stop offset="0.54" stop-color="rgb(235,235,235)"/><stop offset="0.57" stop-color="rgb(210,210,210)"/><stop offset="0.6" stop-color="rgb(210,210,210)"/><stop offset="0.62" stop-color="rgb(210,210,210)"/><stop offset="0.65" stop-color="rgb(210,210,210)"/><stop offset="0.68" stop-color="rgb(235,235,235)"/><stop offset="0.71" stop-color="rgb(235,235,235)"/><stop offset="0.74" stop-color="rgb(235,235,235)"/><stop offset="0.76" stop-color="rgb(235,235,235)"/><stop offset="0.79" stop-color="rgb(235,235,235)"/><stop offset="0.82" stop-color="rgb(235,235,235)"/><stop offset="0.85" stop-color="rgb(255,255,255)"/><stop offset="0.88" stop-color="rgb(255,255,255)"/><stop offset="0.9" stop-color="rgb(235,235,235)"/><stop offset="0.93" stop-color="rgb(187,187,187)"/><stop offset="0.96" stop-color="rgb(187,187,187)"/><stop offset="0.99" stop-color="rgb(187,187,187)"/><stop offset="1" stop-color="rgb(187,187,187)"/></linearGradient><linearGradient id="t19" gradientUnits="userSpaceOnUse" x1="37.5" y1="0" x2="428.5" y2="0"><stop offset="0" stop-color="rgb(187,187,187)"/><stop offset="0.01" stop-color="rgb(187,187,187)"/><stop offset="0.04" stop-color="rgb(187,187,187)"/><stop offset="0.07" stop-color="rgb(187,187,187)"/><stop offset="0.1" stop-color="rgb(187,187,187)"/><stop offset="0.12" stop-color="rgb(187,187,187)"/><stop offset="0.15" stop-color="rgb(187,187,187)"/><stop offset="0.18" stop-color="rgb(187,187,187)"/><stop offset="0.21" stop-color="rgb(187,187,187)"/><stop offset="0.24" stop-color="rgb(187,187,187)"/><stop offset="0.26" stop-color="rgb(210,210,210)"/><stop offset="0.29" stop-color="rgb(210,210,210)"/><stop offset="0.32" stop-color="rgb(235,235,235)"/><stop offset="0.35" stop-color="rgb(235,235,235)"/><stop offset="0.38" stop-color="rgb(187,187,187)"/><stop offset="0.4" stop-color="rgb(167,167,167)"/><stop offset="0.43" stop-color="rgb(167,167,167)"/><stop offset="0.46" stop-color="rgb(167,167,167)"/><stop offset="0.49" stop-color="rgb(187,187,187)"/><stop offset="0.51" stop-color="rgb(187,187,187)"/><stop offset="0.54" stop-color="rgb(187,187,187)"/><stop offset="0.57" stop-color="rgb(187,187,187)"/><stop offset="0.6" stop-color="rgb(187,187,187)"/><stop offset="0.62" stop-color="rgb(187,187,187)"/><stop offset="0.65" stop-color="rgb(187,187,187)"/><stop offset="0.68" stop-color="rgb(210,210,210)"/><stop offset="0.71" stop-color="rgb(187,187,187)"/><stop offset="0.74" stop-color="rgb(187,187,187)"/><stop offset="0.76" stop-color="rgb(187,187,187)"/><stop offset="0.79" stop-color="rgb(187,187,187)"/><stop offset="0.82" stop-color="rgb(187,187,187)"/><stop offset="0.85" stop-color="rgb(187,187,187)"/><stop offset="0.88" stop-color="rgb(187,187,187)"/><stop offset="0.9" stop-color="rgb(210,210,210)"/><stop offset="0.93" stop-color="rgb(187,187,187)"/><stop offset="0.96" stop-color="rgb(187,187,187)"/><stop offset="0.99" stop-color="rgb(187,187,187)"/><stop offset="1" stop-color="rgb(187,187,187)"/></linearGradient><linearGradient id="t20" gradientUnits="userSpaceOnUse" x1="37.5" y1="0" x2="428.5" y2="0"><stop offset="0" stop-color="rgb(187,187,187)"/><stop offset="0.01" stop-color="rgb(187,187,187)"/><stop offset="0.04" stop-color="rgb(187,187,187)"/><stop offset="0.07" stop-color="rgb(167,167,167)"/><stop offset="0.1" stop-color="rgb(167,167,167)"/><stop offset="0.12" stop-color="rgb(167,167,167)"/><stop offset="0.15" stop-color="rgb(167,167,167)"/><stop offset="0.18" stop-color="rgb(167,167,167)"/><stop offset="0.21" stop-color="rgb(167,167,167)"/><stop offset="0.24" stop-color="rgb(187,187,187)"/><stop offset="0.26" stop-color="rgb(187,187,187)"/><stop offset="0.29" stop-color="rgb(167,167,167)"/><stop offset="0.32" stop-color="rgb(235,235,235)"/><stop offset="0.35" stop-color="rgb(210,210,210)"/><stop offset="0.38" stop-color="rgb(167,167,167)"/><stop offset="0.4" stop-color="rgb(167,167,167)"/><stop offset="0.43" stop-color="rgb(167,167,167)"/><stop offset="0.46" stop-color="rgb(167,167,167)"/><stop offset="0.49" stop-color="rgb(167,167,167)"/><stop offset="0.51" stop-color="rgb(167,167,167)"/><stop offset="0.54" stop-color="rgb(167,167,167)"/><stop offset="0.57" stop-color="rgb(167,167,167)"/><stop offset="0.6" stop-color="rgb(167,167,167)"/><stop offset="0.62" stop-color="rgb(167,167,167)"/><stop offset="0.65" stop-color="rgb(167,167,167)"/><stop offset="0.68" stop-color="rgb(167,167,167)"/><stop offset="0.71" stop-color="rgb(167,167,167)"/><stop offset="0.74" stop-color="rgb(167,167,167)"/><stop offset="0.76" stop-color="rgb(167,167,167)"/><stop offset="0.79" stop-color="rgb(167,167,167)"/><stop offset="0.82" stop-color="rgb(167,167,167)"/><stop offset="0.85" stop-color="rgb(167,167,167)"/><stop offset="0.88" stop-color="rgb(167,167,167)"/><stop offset="0.9" stop-color="rgb(167,167,167)"/><stop offset="0.93" stop-color="rgb(167,167,167)"/><stop offset="0.96" stop-color="rgb(167,167,167)"/><stop offset="0.99" stop-color="rgb(187,187,187)"/><stop offset="1" stop-color="rgb(187,187,187)"/></linearGradient><linearGradient id="t21" gradientUnits="userSpaceOnUse" x1="37.5" y1="0" x2="428.5" y2="0"><stop offset="0" stop-color="rgb(167,167,167)"/><stop offset="0.01" stop-color="rgb(167,167,167)"/><stop offset="0.04" stop-color="rgb(167,167,167)"/><stop offset="0.07" stop-color="rgb(167,167,167)"/><stop offset="0.1" stop-color="rgb(167,167,167)"/><stop offset="0.12" stop-color="rgb(167,167,167)"/><stop offset="0.15" stop-color="rgb(167,167,167)"/><stop offset="0.18" stop-color="rgb(167,167,167)"/><stop offset="0.21" stop-color="rgb(167,167,167)"/><stop offset="0.24" stop-color="rgb(167,167,167)"/><stop offset="0.26" stop-color="rgb(167,167,167)"/><stop offset="0.29" stop-color="rgb(136,136,136)"/><stop offset="0.32" stop-color="rgb(235,235,235)"/><stop offset="0.35" stop-color="rgb(210,210,210)"/><stop offset="0.38" stop-color="rgb(167,167,167)"/><stop offset="0.4" stop-color="rgb(167,167,167)"/><stop offset="0.43" stop-color="rgb(167,167,167)"/><stop offset="0.46" stop-color="rgb(167,167,167)"/><stop offset="0.49" stop-color="rgb(167,167,167)"/><stop offset="0.51" stop-color="rgb(167,167,167)"/><stop offset="0.54" stop-color="rgb(167,167,167)"/><stop offset="0.57" stop-color="rgb(167,167,167)"/><stop offset="0.6" stop-color="rgb(167,167,167)"/><stop offset="0.62" stop-color="rgb(167,167,167)"/><stop offset="0.65" stop-color="rgb(167,167,167)"/><stop offset="0.68" stop-color="rgb(167,167,167)"/><stop offset="0.71" stop-color="rgb(167,167,167)"/><stop offset="0.74" stop-color="rgb(136,136,136)"/><stop offset="0.76" stop-color="rgb(136,136,136)"/><stop offset="0.79" stop-color="rgb(136,136,136)"/><stop offset="0.82" stop-color="rgb(167,167,167)"/><stop offset="0.85" stop-color="rgb(167,167,167)"/><stop offset="0.88" stop-color="rgb(167,167,167)"/><stop offset="0.9" stop-color="rgb(167,167,167)"/><stop offset="0.93" stop-color="rgb(167,167,167)"/><stop offset="0.96" stop-color="rgb(167,167,167)"/><stop offset="0.99" stop-color="rgb(167,167,167)"/><stop offset="1" stop-color="rgb(167,167,167)"/></linearGradient><linearGradient id="t22" gradientUnits="userSpaceOnUse" x1="37.5" y1="0" x2="428.5" y2="0"><stop offset="0" stop-color="rgb(167,167,167)"/><stop offset="0.01" stop-color="rgb(167,167,167)"/><stop offset="0.04" stop-color="rgb(167,167,167)"/><stop offset="0.07" stop-color="rgb(167,167,167)"/><stop offset="0.1" stop-color="rgb(167,167,167)"/><stop offset="0.12" stop-color="rgb(167,167,167)"/><stop offset="0.15" stop-color="rgb(167,167,167)"/><stop offset="0.18" stop-color="rgb(167,167,167)"/><stop offset="0.21" stop-color="rgb(167,167,167)"/><stop offset="0.24" stop-color="rgb(167,167,167)"/><stop offset="0.26" stop-color="rgb(167,167,167)"/><stop offset="0.29" stop-color="rgb(136,136,136)"/><stop offset="0.32" stop-color="rgb(210,210,210)"/><stop offset="0.35" stop-color="rgb(167,167,167)"/><stop offset="0.38" stop-color="rgb(187,187,187)"/><stop offset="0.4" stop-color="rgb(187,187,187)"/><stop offset="0.43" stop-color="rgb(187,187,187)"/><stop offset="0.46" stop-color="rgb(187,187,187)"/><stop offset="0.49" stop-color="rgb(187,187,187)"/><stop offset="0.51" stop-color="rgb(187,187,187)"/><stop offset="0.54" stop-color="rgb(187,187,187)"/><stop offset="0.57" stop-color="rgb(167,167,167)"/><stop offset="0.6" stop-color="rgb(167,167,167)"/><stop offset="0.62" stop-color="rgb(167,167,167)"/><stop offset="0.65" stop-color="rgb(167,167,167)"/><stop offset="0.68" stop-color="rgb(167,167,167)"/><stop offset="0.71" stop-color="rgb(167,167,167)"/><stop offset="0.74" stop-color="rgb(167,167,167)"/><stop offset="0.76" stop-color="rgb(167,167,167)"/><stop offset="0.79" stop-color="rgb(167,167,167)"/><stop offset="0.82" stop-color="rgb(167,167,167)"/><stop offset="0.85" stop-color="rgb(167,167,167)"/><stop offset="0.88" stop-color="rgb(167,167,167)"/><stop offset="0.9" stop-color="rgb(167,167,167)"/><stop offset="0.93" stop-color="rgb(167,167,167)"/><stop offset="0.96" stop-color="rgb(167,167,167)"/><stop offset="0.99" stop-color="rgb(167,167,167)"/><stop offset="1" stop-color="rgb(167,167,167)"/></linearGradient><linearGradient id="t23" gradientUnits="userSpaceOnUse" x1="37.5" y1="0" x2="428.5" y2="0"><stop offset="0" stop-color="rgb(167,167,167)"/><stop offset="0.01" stop-color="rgb(167,167,167)"/><stop offset="0.04" stop-color="rgb(167,167,167)"/><stop offset="0.07" stop-color="rgb(167,167,167)"/><stop offset="0.1" stop-color="rgb(167,167,167)"/><stop offset="0.12" stop-color="rgb(167,167,167)"/><stop offset="0.15" stop-color="rgb(167,167,167)"/><stop offset="0.18" stop-color="rgb(167,167,167)"/><stop offset="0.21" stop-color="rgb(167,167,167)"/><stop offset="0.24" stop-color="rgb(167,167,167)"/><stop offset="0.26" stop-color="rgb(167,167,167)"/><stop offset="0.29" stop-color="rgb(167,167,167)"/><stop offset="0.32" stop-color="rgb(187,187,187)"/><stop offset="0.35" stop-color="rgb(167,167,167)"/><stop offset="0.38" stop-color="rgb(187,187,187)"/><stop offset="0.4" stop-color="rgb(187,187,187)"/><stop offset="0.43" stop-color="rgb(187,187,187)"/><stop offset="0.46" stop-color="rgb(187,187,187)"/><stop offset="0.49" stop-color="rgb(187,187,187)"/><stop offset="0.51" stop-color="rgb(187,187,187)"/><stop offset="0.54" stop-color="rgb(187,187,187)"/><stop offset="0.57" stop-color="rgb(187,187,187)"/><stop offset="0.6" stop-color="rgb(187,187,187)"/><stop offset="0.62" stop-color="rgb(187,187,187)"/><stop offset="0.65" stop-color="rgb(187,187,187)"/><stop offset="0.68" stop-color="rgb(187,187,187)"/><stop offset="0.71" stop-color="rgb(187,187,187)"/><stop offset="0.74" stop-color="rgb(187,187,187)"/><stop offset="0.76" stop-color="rgb(187,187,187)"/><stop offset="0.79" stop-color="rgb(187,187,187)"/><stop offset="0.82" stop-color="rgb(187,187,187)"/><stop offset="0.85" stop-color="rgb(167,167,167)"/><stop offset="0.88" stop-color="rgb(167,167,167)"/><stop offset="0.9" stop-color="rgb(167,167,167)"/><stop offset="0.93" stop-color="rgb(167,167,167)"/><stop offset="0.96" stop-color="rgb(167,167,167)"/><stop offset="0.99" stop-color="rgb(167,167,167)"/><stop offset="1" stop-color="rgb(167,167,167)"/></linearGradient><linearGradient id="b0" gradientUnits="userSpaceOnUse" x1="37.5" y1="0" x2="428.5" y2="0"><stop offset="0" stop-color="rgb(128,128,128)"/><stop offset="0.01" stop-color="rgb(128,128,128)"/><stop offset="0.04" stop-color="rgb(128,128,128)"/><stop offset="0.07" stop-color="rgb(128,128,128)"/><stop offset="0.1" stop-color="rgb(128,128,128)"/><stop offset="0.12" stop-color="rgb(128,128,128)"/><stop offset="0.15" stop-color="rgb(128,128,128)"/><stop offset="0.18" stop-color="rgb(128,128,128)"/><stop offset="0.21" stop-color="rgb(128,128,128)"/><stop offset="0.24" stop-color="rgb(128,128,128)"/><stop offset="0.26" stop-color="rgb(128,128,128)"/><stop offset="0.29" stop-color="rgb(128,128,128)"/><stop offset="0.32" stop-color="rgb(128,128,128)"/><stop offset="0.35" stop-color="rgb(156,156,156)"/><stop offset="0.38" stop-color="rgb(156,156,156)"/><stop offset="0.4" stop-color="rgb(156,156,156)"/><stop offset="0.43" stop-color="rgb(156,156,156)"/><stop offset="0.46" stop-color="rgb(128,128,128)"/><stop offset="0.49" stop-color="rgb(128,128,128)"/><stop offset="0.51" stop-color="rgb(128,128,128)"/><stop offset="0.54" stop-color="rgb(128,128,128)"/><stop offset="0.57" stop-color="rgb(128,128,128)"/><stop offset="0.6" stop-color="rgb(128,128,128)"/><stop offset="0.62" stop-color="rgb(113,113,113)"/><stop offset="0.65" stop-color="rgb(99,99,99)"/><stop offset="0.68" stop-color="rgb(99,99,99)"/><stop offset="0.71" stop-color="rgb(99,99,99)"/><stop offset="0.74" stop-color="rgb(99,99,99)"/><stop offset="0.76" stop-color="rgb(99,99,99)"/><stop offset="0.79" stop-color="rgb(128,128,128)"/><stop offset="0.82" stop-color="rgb(128,128,128)"/><stop offset="0.85" stop-color="rgb(113,113,113)"/><stop offset="0.88" stop-color="rgb(128,128,128)"/><stop offset="0.9" stop-color="rgb(128,128,128)"/><stop offset="0.93" stop-color="rgb(128,128,128)"/><stop offset="0.96" stop-color="rgb(128,128,128)"/><stop offset="0.99" stop-color="rgb(128,128,128)"/><stop offset="1" stop-color="rgb(128,128,128)"/></linearGradient><linearGradient id="b1" gradientUnits="userSpaceOnUse" x1="37.5" y1="0" x2="428.5" y2="0"><stop offset="0" stop-color="rgb(142,142,142)"/><stop offset="0.01" stop-color="rgb(156,156,156)"/><stop offset="0.04" stop-color="rgb(128,128,128)"/><stop offset="0.07" stop-color="rgb(128,128,128)"/><stop offset="0.1" stop-color="rgb(128,128,128)"/><stop offset="0.12" stop-color="rgb(128,128,128)"/><stop offset="0.15" stop-color="rgb(128,128,128)"/><stop offset="0.18" stop-color="rgb(128,128,128)"/><stop offset="0.21" stop-color="rgb(128,128,128)"/><stop offset="0.24" stop-color="rgb(128,128,128)"/><stop offset="0.26" stop-color="rgb(128,128,128)"/><stop offset="0.29" stop-color="rgb(128,128,128)"/><stop offset="0.32" stop-color="rgb(128,128,128)"/><stop offset="0.35" stop-color="rgb(156,156,156)"/><stop offset="0.38" stop-color="rgb(156,156,156)"/><stop offset="0.4" stop-color="rgb(128,128,128)"/><stop offset="0.43" stop-color="rgb(128,128,128)"/><stop offset="0.46" stop-color="rgb(128,128,128)"/><stop offset="0.49" stop-color="rgb(128,128,128)"/><stop offset="0.51" stop-color="rgb(128,128,128)"/><stop offset="0.54" stop-color="rgb(128,128,128)"/><stop offset="0.57" stop-color="rgb(128,128,128)"/><stop offset="0.6" stop-color="rgb(128,128,128)"/><stop offset="0.62" stop-color="rgb(99,99,99)"/><stop offset="0.65" stop-color="rgb(99,99,99)"/><stop offset="0.68" stop-color="rgb(99,99,99)"/><stop offset="0.71" stop-color="rgb(99,99,99)"/><stop offset="0.74" stop-color="rgb(99,99,99)"/><stop offset="0.76" stop-color="rgb(113,113,113)"/><stop offset="0.79" stop-color="rgb(128,128,128)"/><stop offset="0.82" stop-color="rgb(128,128,128)"/><stop offset="0.85" stop-color="rgb(128,128,128)"/><stop offset="0.88" stop-color="rgb(128,128,128)"/><stop offset="0.9" stop-color="rgb(128,128,128)"/><stop offset="0.93" stop-color="rgb(128,128,128)"/><stop offset="0.96" stop-color="rgb(128,128,128)"/><stop offset="0.99" stop-color="rgb(128,128,128)"/><stop offset="1" stop-color="rgb(142,142,142)"/></linearGradient><linearGradient id="b2" gradientUnits="userSpaceOnUse" x1="37.5" y1="0" x2="428.5" y2="0"><stop offset="0" stop-color="rgb(128,128,128)"/><stop offset="0.01" stop-color="rgb(128,128,128)"/><stop offset="0.04" stop-color="rgb(128,128,128)"/><stop offset="0.07" stop-color="rgb(128,128,128)"/><stop offset="0.1" stop-color="rgb(128,128,128)"/><stop offset="0.12" stop-color="rgb(128,128,128)"/><stop offset="0.15" stop-color="rgb(128,128,128)"/><stop offset="0.18" stop-color="rgb(113,113,113)"/><stop offset="0.21" stop-color="rgb(113,113,113)"/><stop offset="0.24" stop-color="rgb(128,128,128)"/><stop offset="0.26" stop-color="rgb(128,128,128)"/><stop offset="0.29" stop-color="rgb(128,128,128)"/><stop offset="0.32" stop-color="rgb(128,128,128)"/><stop offset="0.35" stop-color="rgb(156,156,156)"/><stop offset="0.38" stop-color="rgb(156,156,156)"/><stop offset="0.4" stop-color="rgb(128,128,128)"/><stop offset="0.43" stop-color="rgb(128,128,128)"/><stop offset="0.46" stop-color="rgb(128,128,128)"/><stop offset="0.49" stop-color="rgb(128,128,128)"/><stop offset="0.51" stop-color="rgb(128,128,128)"/><stop offset="0.54" stop-color="rgb(128,128,128)"/><stop offset="0.57" stop-color="rgb(128,128,128)"/><stop offset="0.6" stop-color="rgb(128,128,128)"/><stop offset="0.62" stop-color="rgb(99,99,99)"/><stop offset="0.65" stop-color="rgb(99,99,99)"/><stop offset="0.68" stop-color="rgb(99,99,99)"/><stop offset="0.71" stop-color="rgb(99,99,99)"/><stop offset="0.74" stop-color="rgb(99,99,99)"/><stop offset="0.76" stop-color="rgb(71,71,71)"/><stop offset="0.79" stop-color="rgb(113,113,113)"/><stop offset="0.82" stop-color="rgb(128,128,128)"/><stop offset="0.85" stop-color="rgb(128,128,128)"/><stop offset="0.88" stop-color="rgb(128,128,128)"/><stop offset="0.9" stop-color="rgb(128,128,128)"/><stop offset="0.93" stop-color="rgb(128,128,128)"/><stop offset="0.96" stop-color="rgb(128,128,128)"/><stop offset="0.99" stop-color="rgb(128,128,128)"/><stop offset="1" stop-color="rgb(128,128,128)"/></linearGradient><linearGradient id="b3" gradientUnits="userSpaceOnUse" x1="37.5" y1="0" x2="428.5" y2="0"><stop offset="0" stop-color="rgb(142,142,142)"/><stop offset="0.01" stop-color="rgb(128,128,128)"/><stop offset="0.04" stop-color="rgb(156,156,156)"/><stop offset="0.07" stop-color="rgb(156,156,156)"/><stop offset="0.1" stop-color="rgb(128,128,128)"/><stop offset="0.12" stop-color="rgb(128,128,128)"/><stop offset="0.15" stop-color="rgb(128,128,128)"/><stop offset="0.18" stop-color="rgb(99,99,99)"/><stop offset="0.21" stop-color="rgb(99,99,99)"/><stop offset="0.24" stop-color="rgb(128,128,128)"/><stop offset="0.26" stop-color="rgb(128,128,128)"/><stop offset="0.29" stop-color="rgb(156,156,156)"/><stop offset="0.32" stop-color="rgb(156,156,156)"/><stop offset="0.35" stop-color="rgb(156,156,156)"/><stop offset="0.38" stop-color="rgb(156,156,156)"/><stop offset="0.4" stop-color="rgb(128,128,128)"/><stop offset="0.43" stop-color="rgb(128,128,128)"/><stop offset="0.46" stop-color="rgb(128,128,128)"/><stop offset="0.49" stop-color="rgb(128,128,128)"/><stop offset="0.51" stop-color="rgb(128,128,128)"/><stop offset="0.54" stop-color="rgb(128,128,128)"/><stop offset="0.57" stop-color="rgb(128,128,128)"/><stop offset="0.6" stop-color="rgb(128,128,128)"/><stop offset="0.62" stop-color="rgb(128,128,128)"/><stop offset="0.65" stop-color="rgb(99,99,99)"/><stop offset="0.68" stop-color="rgb(99,99,99)"/><stop offset="0.71" stop-color="rgb(71,71,71)"/><stop offset="0.74" stop-color="rgb(71,71,71)"/><stop offset="0.76" stop-color="rgb(71,71,71)"/><stop offset="0.79" stop-color="rgb(113,113,113)"/><stop offset="0.82" stop-color="rgb(128,128,128)"/><stop offset="0.85" stop-color="rgb(128,128,128)"/><stop offset="0.88" stop-color="rgb(128,128,128)"/><stop offset="0.9" stop-color="rgb(128,128,128)"/><stop offset="0.93" stop-color="rgb(156,156,156)"/><stop offset="0.96" stop-color="rgb(156,156,156)"/><stop offset="0.99" stop-color="rgb(156,156,156)"/><stop offset="1" stop-color="rgb(142,142,142)"/></linearGradient><linearGradient id="b4" gradientUnits="userSpaceOnUse" x1="37.5" y1="0" x2="428.5" y2="0"><stop offset="0" stop-color="rgb(142,142,142)"/><stop offset="0.01" stop-color="rgb(128,128,128)"/><stop offset="0.04" stop-color="rgb(128,128,128)"/><stop offset="0.07" stop-color="rgb(128,128,128)"/><stop offset="0.1" stop-color="rgb(128,128,128)"/><stop offset="0.12" stop-color="rgb(128,128,128)"/><stop offset="0.15" stop-color="rgb(128,128,128)"/><stop offset="0.18" stop-color="rgb(99,99,99)"/><stop offset="0.21" stop-color="rgb(99,99,99)"/><stop offset="0.24" stop-color="rgb(128,128,128)"/><stop offset="0.26" stop-color="rgb(156,156,156)"/><stop offset="0.29" stop-color="rgb(156,156,156)"/><stop offset="0.32" stop-color="rgb(156,156,156)"/><stop offset="0.35" stop-color="rgb(128,128,128)"/><stop offset="0.38" stop-color="rgb(128,128,128)"/><stop offset="0.4" stop-color="rgb(128,128,128)"/><stop offset="0.43" stop-color="rgb(128,128,128)"/><stop offset="0.46" stop-color="rgb(113,113,113)"/><stop offset="0.49" stop-color="rgb(99,99,99)"/><stop offset="0.51" stop-color="rgb(128,128,128)"/><stop offset="0.54" stop-color="rgb(128,128,128)"/><stop offset="0.57" stop-color="rgb(128,128,128)"/><stop offset="0.6" stop-color="rgb(128,128,128)"/><stop offset="0.62" stop-color="rgb(99,99,99)"/><stop offset="0.65" stop-color="rgb(99,99,99)"/><stop offset="0.68" stop-color="rgb(99,99,99)"/><stop offset="0.71" stop-color="rgb(71,71,71)"/><stop offset="0.74" stop-color="rgb(71,71,71)"/><stop offset="0.76" stop-color="rgb(71,71,71)"/><stop offset="0.79" stop-color="rgb(99,99,99)"/><stop offset="0.82" stop-color="rgb(113,113,113)"/><stop offset="0.85" stop-color="rgb(128,128,128)"/><stop offset="0.88" stop-color="rgb(128,128,128)"/><stop offset="0.9" stop-color="rgb(156,156,156)"/><stop offset="0.93" stop-color="rgb(156,156,156)"/><stop offset="0.96" stop-color="rgb(156,156,156)"/><stop offset="0.99" stop-color="rgb(156,156,156)"/><stop offset="1" stop-color="rgb(142,142,142)"/></linearGradient><linearGradient id="b5" gradientUnits="userSpaceOnUse" x1="37.5" y1="0" x2="428.5" y2="0"><stop offset="0" stop-color="rgb(128,128,128)"/><stop offset="0.01" stop-color="rgb(128,128,128)"/><stop offset="0.04" stop-color="rgb(128,128,128)"/><stop offset="0.07" stop-color="rgb(128,128,128)"/><stop offset="0.1" stop-color="rgb(128,128,128)"/><stop offset="0.12" stop-color="rgb(99,99,99)"/><stop offset="0.15" stop-color="rgb(99,99,99)"/><stop offset="0.18" stop-color="rgb(99,99,99)"/><stop offset="0.21" stop-color="rgb(99,99,99)"/><stop offset="0.24" stop-color="rgb(128,128,128)"/><stop offset="0.26" stop-color="rgb(156,156,156)"/><stop offset="0.29" stop-color="rgb(156,156,156)"/><stop offset="0.32" stop-color="rgb(156,156,156)"/><stop offset="0.35" stop-color="rgb(128,128,128)"/><stop offset="0.38" stop-color="rgb(128,128,128)"/><stop offset="0.4" stop-color="rgb(99,99,99)"/><stop offset="0.43" stop-color="rgb(99,99,99)"/><stop offset="0.46" stop-color="rgb(99,99,99)"/><stop offset="0.49" stop-color="rgb(99,99,99)"/><stop offset="0.51" stop-color="rgb(85,85,85)"/><stop offset="0.54" stop-color="rgb(99,99,99)"/><stop offset="0.57" stop-color="rgb(99,99,99)"/><stop offset="0.6" stop-color="rgb(99,99,99)"/><stop offset="0.62" stop-color="rgb(99,99,99)"/><stop offset="0.65" stop-color="rgb(99,99,99)"/><stop offset="0.68" stop-color="rgb(99,99,99)"/><stop offset="0.71" stop-color="rgb(128,128,128)"/><stop offset="0.74" stop-color="rgb(113,113,113)"/><stop offset="0.76" stop-color="rgb(113,113,113)"/><stop offset="0.79" stop-color="rgb(128,128,128)"/><stop offset="0.82" stop-color="rgb(128,128,128)"/><stop offset="0.85" stop-color="rgb(128,128,128)"/><stop offset="0.88" stop-color="rgb(156,156,156)"/><stop offset="0.9" stop-color="rgb(156,156,156)"/><stop offset="0.93" stop-color="rgb(156,156,156)"/><stop offset="0.96" stop-color="rgb(156,156,156)"/><stop offset="0.99" stop-color="rgb(128,128,128)"/><stop offset="1" stop-color="rgb(128,128,128)"/></linearGradient><linearGradient id="b6" gradientUnits="userSpaceOnUse" x1="37.5" y1="0" x2="428.5" y2="0"><stop offset="0" stop-color="rgb(120,120,120)"/><stop offset="0.01" stop-color="rgb(113,113,113)"/><stop offset="0.04" stop-color="rgb(99,99,99)"/><stop offset="0.07" stop-color="rgb(99,99,99)"/><stop offset="0.1" stop-color="rgb(99,99,99)"/><stop offset="0.12" stop-color="rgb(85,85,85)"/><stop offset="0.15" stop-color="rgb(71,71,71)"/><stop offset="0.18" stop-color="rgb(99,99,99)"/><stop offset="0.21" stop-color="rgb(128,128,128)"/><stop offset="0.24" stop-color="rgb(128,128,128)"/><stop offset="0.26" stop-color="rgb(128,128,128)"/><stop offset="0.29" stop-color="rgb(128,128,128)"/><stop offset="0.32" stop-color="rgb(128,128,128)"/><stop offset="0.35" stop-color="rgb(128,128,128)"/><stop offset="0.38" stop-color="rgb(99,99,99)"/><stop offset="0.4" stop-color="rgb(99,99,99)"/><stop offset="0.43" stop-color="rgb(99,99,99)"/><stop offset="0.46" stop-color="rgb(85,85,85)"/><stop offset="0.49" stop-color="rgb(71,71,71)"/><stop offset="0.51" stop-color="rgb(71,71,71)"/><stop offset="0.54" stop-color="rgb(71,71,71)"/><stop offset="0.57" stop-color="rgb(71,71,71)"/><stop offset="0.6" stop-color="rgb(71,71,71)"/><stop offset="0.62" stop-color="rgb(99,99,99)"/><stop offset="0.65" stop-color="rgb(99,99,99)"/><stop offset="0.68" stop-color="rgb(99,99,99)"/><stop offset="0.71" stop-color="rgb(128,128,128)"/><stop offset="0.74" stop-color="rgb(128,128,128)"/><stop offset="0.76" stop-color="rgb(142,142,142)"/><stop offset="0.79" stop-color="rgb(128,128,128)"/><stop offset="0.82" stop-color="rgb(128,128,128)"/><stop offset="0.85" stop-color="rgb(142,142,142)"/><stop offset="0.88" stop-color="rgb(128,128,128)"/><stop offset="0.9" stop-color="rgb(128,128,128)"/><stop offset="0.93" stop-color="rgb(128,128,128)"/><stop offset="0.96" stop-color="rgb(128,128,128)"/><stop offset="0.99" stop-color="rgb(128,128,128)"/><stop offset="1" stop-color="rgb(120,120,120)"/></linearGradient><linearGradient id="b7" gradientUnits="userSpaceOnUse" x1="37.5" y1="0" x2="428.5" y2="0"><stop offset="0" stop-color="rgb(99,99,99)"/><stop offset="0.01" stop-color="rgb(99,99,99)"/><stop offset="0.04" stop-color="rgb(85,85,85)"/><stop offset="0.07" stop-color="rgb(71,71,71)"/><stop offset="0.1" stop-color="rgb(71,71,71)"/><stop offset="0.12" stop-color="rgb(71,71,71)"/><stop offset="0.15" stop-color="rgb(71,71,71)"/><stop offset="0.18" stop-color="rgb(113,113,113)"/><stop offset="0.21" stop-color="rgb(128,128,128)"/><stop offset="0.24" stop-color="rgb(128,128,128)"/><stop offset="0.26" stop-color="rgb(128,128,128)"/><stop offset="0.29" stop-color="rgb(128,128,128)"/><stop offset="0.32" stop-color="rgb(113,113,113)"/><stop offset="0.35" stop-color="rgb(128,128,128)"/><stop offset="0.38" stop-color="rgb(99,99,99)"/><stop offset="0.4" stop-color="rgb(99,99,99)"/><stop offset="0.43" stop-color="rgb(71,71,71)"/><stop offset="0.46" stop-color="rgb(71,71,71)"/><stop offset="0.49" stop-color="rgb(71,71,71)"/><stop offset="0.51" stop-color="rgb(71,71,71)"/><stop offset="0.54" stop-color="rgb(71,71,71)"/><stop offset="0.57" stop-color="rgb(71,71,71)"/><stop offset="0.6" stop-color="rgb(71,71,71)"/><stop offset="0.62" stop-color="rgb(85,85,85)"/><stop offset="0.65" stop-color="rgb(85,85,85)"/><stop offset="0.68" stop-color="rgb(128,128,128)"/><stop offset="0.71" stop-color="rgb(128,128,128)"/><stop offset="0.74" stop-color="rgb(156,156,156)"/><stop offset="0.76" stop-color="rgb(156,156,156)"/><stop offset="0.79" stop-color="rgb(128,128,128)"/><stop offset="0.82" stop-color="rgb(128,128,128)"/><stop offset="0.85" stop-color="rgb(128,128,128)"/><stop offset="0.88" stop-color="rgb(128,128,128)"/><stop offset="0.9" stop-color="rgb(128,128,128)"/><stop offset="0.93" stop-color="rgb(99,99,99)"/><stop offset="0.96" stop-color="rgb(99,99,99)"/><stop offset="0.99" stop-color="rgb(99,99,99)"/><stop offset="1" stop-color="rgb(99,99,99)"/></linearGradient><linearGradient id="b8" gradientUnits="userSpaceOnUse" x1="37.5" y1="0" x2="428.5" y2="0"><stop offset="0" stop-color="rgb(99,99,99)"/><stop offset="0.01" stop-color="rgb(99,99,99)"/><stop offset="0.04" stop-color="rgb(99,99,99)"/><stop offset="0.07" stop-color="rgb(71,71,71)"/><stop offset="0.1" stop-color="rgb(71,71,71)"/><stop offset="0.12" stop-color="rgb(85,85,85)"/><stop offset="0.15" stop-color="rgb(99,99,99)"/><stop offset="0.18" stop-color="rgb(128,128,128)"/><stop offset="0.21" stop-color="rgb(142,142,142)"/><stop offset="0.24" stop-color="rgb(128,128,128)"/><stop offset="0.26" stop-color="rgb(128,128,128)"/><stop offset="0.29" stop-color="rgb(113,113,113)"/><stop offset="0.32" stop-color="rgb(113,113,113)"/><stop offset="0.35" stop-color="rgb(128,128,128)"/><stop offset="0.38" stop-color="rgb(99,99,99)"/><stop offset="0.4" stop-color="rgb(99,99,99)"/><stop offset="0.43" stop-color="rgb(99,99,99)"/><stop offset="0.46" stop-color="rgb(128,128,128)"/><stop offset="0.49" stop-color="rgb(156,156,156)"/><stop offset="0.51" stop-color="rgb(99,99,99)"/><stop offset="0.54" stop-color="rgb(99,99,99)"/><stop offset="0.57" stop-color="rgb(113,113,113)"/><stop offset="0.6" stop-color="rgb(128,128,128)"/><stop offset="0.62" stop-color="rgb(99,99,99)"/><stop offset="0.65" stop-color="rgb(99,99,99)"/><stop offset="0.68" stop-color="rgb(128,128,128)"/><stop offset="0.71" stop-color="rgb(128,128,128)"/><stop offset="0.74" stop-color="rgb(156,156,156)"/><stop offset="0.76" stop-color="rgb(170,170,170)"/><stop offset="0.79" stop-color="rgb(128,128,128)"/><stop offset="0.82" stop-color="rgb(128,128,128)"/><stop offset="0.85" stop-color="rgb(128,128,128)"/><stop offset="0.88" stop-color="rgb(128,128,128)"/><stop offset="0.9" stop-color="rgb(113,113,113)"/><stop offset="0.93" stop-color="rgb(99,99,99)"/><stop offset="0.96" stop-color="rgb(99,99,99)"/><stop offset="0.99" stop-color="rgb(99,99,99)"/><stop offset="1" stop-color="rgb(99,99,99)"/></linearGradient><linearGradient id="b9" gradientUnits="userSpaceOnUse" x1="37.5" y1="0" x2="428.5" y2="0"><stop offset="0" stop-color="rgb(120,120,120)"/><stop offset="0.01" stop-color="rgb(113,113,113)"/><stop offset="0.04" stop-color="rgb(113,113,113)"/><stop offset="0.07" stop-color="rgb(99,99,99)"/><stop offset="0.1" stop-color="rgb(99,99,99)"/><stop offset="0.12" stop-color="rgb(113,113,113)"/><stop offset="0.15" stop-color="rgb(128,128,128)"/><stop offset="0.18" stop-color="rgb(142,142,142)"/><stop offset="0.21" stop-color="rgb(156,156,156)"/><stop offset="0.24" stop-color="rgb(156,156,156)"/><stop offset="0.26" stop-color="rgb(128,128,128)"/><stop offset="0.29" stop-color="rgb(128,128,128)"/><stop offset="0.32" stop-color="rgb(128,128,128)"/><stop offset="0.35" stop-color="rgb(128,128,128)"/><stop offset="0.38" stop-color="rgb(128,128,128)"/><stop offset="0.4" stop-color="rgb(128,128,128)"/><stop offset="0.43" stop-color="rgb(128,128,128)"/><stop offset="0.46" stop-color="rgb(128,128,128)"/><stop offset="0.49" stop-color="rgb(156,156,156)"/><stop offset="0.51" stop-color="rgb(156,156,156)"/><stop offset="0.54" stop-color="rgb(156,156,156)"/><stop offset="0.57" stop-color="rgb(142,142,142)"/><stop offset="0.6" stop-color="rgb(156,156,156)"/><stop offset="0.62" stop-color="rgb(99,99,99)"/><stop offset="0.65" stop-color="rgb(128,128,128)"/><stop offset="0.68" stop-color="rgb(128,128,128)"/><stop offset="0.71" stop-color="rgb(113,113,113)"/><stop offset="0.74" stop-color="rgb(156,156,156)"/><stop offset="0.76" stop-color="rgb(156,156,156)"/><stop offset="0.79" stop-color="rgb(156,156,156)"/><stop offset="0.82" stop-color="rgb(128,128,128)"/><stop offset="0.85" stop-color="rgb(156,156,156)"/><stop offset="0.88" stop-color="rgb(128,128,128)"/><stop offset="0.9" stop-color="rgb(128,128,128)"/><stop offset="0.93" stop-color="rgb(128,128,128)"/><stop offset="0.96" stop-color="rgb(128,128,128)"/><stop offset="0.99" stop-color="rgb(128,128,128)"/><stop offset="1" stop-color="rgb(120,120,120)"/></linearGradient><linearGradient id="b10" gradientUnits="userSpaceOnUse" x1="37.5" y1="0" x2="428.5" y2="0"><stop offset="0" stop-color="rgb(152,152,152)"/><stop offset="0.01" stop-color="rgb(147,147,147)"/><stop offset="0.04" stop-color="rgb(147,147,147)"/><stop offset="0.07" stop-color="rgb(147,147,147)"/><stop offset="0.1" stop-color="rgb(147,147,147)"/><stop offset="0.12" stop-color="rgb(147,147,147)"/><stop offset="0.15" stop-color="rgb(147,147,147)"/><stop offset="0.18" stop-color="rgb(150,150,150)"/><stop offset="0.21" stop-color="rgb(150,150,150)"/><stop offset="0.24" stop-color="rgb(150,150,150)"/><stop offset="0.26" stop-color="rgb(150,150,150)"/><stop offset="0.29" stop-color="rgb(170,170,170)"/><stop offset="0.32" stop-color="rgb(128,128,128)"/><stop offset="0.35" stop-color="rgb(156,156,156)"/><stop offset="0.38" stop-color="rgb(128,128,128)"/><stop offset="0.4" stop-color="rgb(156,156,156)"/><stop offset="0.43" stop-color="rgb(156,156,156)"/><stop offset="0.46" stop-color="rgb(156,156,156)"/><stop offset="0.49" stop-color="rgb(156,156,156)"/><stop offset="0.51" stop-color="rgb(156,156,156)"/><stop offset="0.54" stop-color="rgb(156,156,156)"/><stop offset="0.57" stop-color="rgb(156,156,156)"/><stop offset="0.6" stop-color="rgb(142,142,142)"/><stop offset="0.62" stop-color="rgb(113,113,113)"/><stop offset="0.65" stop-color="rgb(128,128,128)"/><stop offset="0.68" stop-color="rgb(128,128,128)"/><stop offset="0.71" stop-color="rgb(128,128,128)"/><stop offset="0.74" stop-color="rgb(156,156,156)"/><stop offset="0.76" stop-color="rgb(156,156,156)"/><stop offset="0.79" stop-color="rgb(156,156,156)"/><stop offset="0.82" stop-color="rgb(156,156,156)"/><stop offset="0.85" stop-color="rgb(156,156,156)"/><stop offset="0.88" stop-color="rgb(156,156,156)"/><stop offset="0.9" stop-color="rgb(156,156,156)"/><stop offset="0.93" stop-color="rgb(156,156,156)"/><stop offset="0.96" stop-color="rgb(156,156,156)"/><stop offset="0.99" stop-color="rgb(156,156,156)"/><stop offset="1" stop-color="rgb(152,152,152)"/></linearGradient><linearGradient id="b11" gradientUnits="userSpaceOnUse" x1="37.5" y1="0" x2="428.5" y2="0"><stop offset="0" stop-color="rgb(113,113,113)"/><stop offset="0.01" stop-color="rgb(128,128,128)"/><stop offset="0.04" stop-color="rgb(128,128,128)"/><stop offset="0.07" stop-color="rgb(128,128,128)"/><stop offset="0.1" stop-color="rgb(128,128,128)"/><stop offset="0.12" stop-color="rgb(128,128,128)"/><stop offset="0.15" stop-color="rgb(128,128,128)"/><stop offset="0.18" stop-color="rgb(128,128,128)"/><stop offset="0.21" stop-color="rgb(128,128,128)"/><stop offset="0.24" stop-color="rgb(113,113,113)"/><stop offset="0.26" stop-color="rgb(128,128,128)"/><stop offset="0.29" stop-color="rgb(170,170,170)"/><stop offset="0.32" stop-color="rgb(128,128,128)"/><stop offset="0.35" stop-color="rgb(156,156,156)"/><stop offset="0.38" stop-color="rgb(144,144,144)"/><stop offset="0.4" stop-color="rgb(144,144,144)"/><stop offset="0.43" stop-color="rgb(144,144,144)"/><stop offset="0.46" stop-color="rgb(144,144,144)"/><stop offset="0.49" stop-color="rgb(136,136,136)"/><stop offset="0.51" stop-color="rgb(156,156,156)"/><stop offset="0.54" stop-color="rgb(156,156,156)"/><stop offset="0.57" stop-color="rgb(156,156,156)"/><stop offset="0.6" stop-color="rgb(142,142,142)"/><stop offset="0.62" stop-color="rgb(99,99,99)"/><stop offset="0.65" stop-color="rgb(128,128,128)"/><stop offset="0.68" stop-color="rgb(128,128,128)"/><stop offset="0.71" stop-color="rgb(128,128,128)"/><stop offset="0.74" stop-color="rgb(156,156,156)"/><stop offset="0.76" stop-color="rgb(156,156,156)"/><stop offset="0.79" stop-color="rgb(156,156,156)"/><stop offset="0.82" stop-color="rgb(156,156,156)"/><stop offset="0.85" stop-color="rgb(156,156,156)"/><stop offset="0.88" stop-color="rgb(128,128,128)"/><stop offset="0.9" stop-color="rgb(128,128,128)"/><stop offset="0.93" stop-color="rgb(128,128,128)"/><stop offset="0.96" stop-color="rgb(113,113,113)"/><stop offset="0.99" stop-color="rgb(99,99,99)"/><stop offset="1" stop-color="rgb(113,113,113)"/></linearGradient><linearGradient id="b12" gradientUnits="userSpaceOnUse" x1="37.5" y1="0" x2="428.5" y2="0"><stop offset="0" stop-color="rgb(106,106,106)"/><stop offset="0.01" stop-color="rgb(99,99,99)"/><stop offset="0.04" stop-color="rgb(99,99,99)"/><stop offset="0.07" stop-color="rgb(99,99,99)"/><stop offset="0.1" stop-color="rgb(99,99,99)"/><stop offset="0.12" stop-color="rgb(99,99,99)"/><stop offset="0.15" stop-color="rgb(99,99,99)"/><stop offset="0.18" stop-color="rgb(99,99,99)"/><stop offset="0.21" stop-color="rgb(99,99,99)"/><stop offset="0.24" stop-color="rgb(113,113,113)"/><stop offset="0.26" stop-color="rgb(128,128,128)"/><stop offset="0.29" stop-color="rgb(156,156,156)"/><stop offset="0.32" stop-color="rgb(156,156,156)"/><stop offset="0.35" stop-color="rgb(156,156,156)"/><stop offset="0.38" stop-color="rgb(156,156,156)"/><stop offset="0.4" stop-color="rgb(128,128,128)"/><stop offset="0.43" stop-color="rgb(128,128,128)"/><stop offset="0.46" stop-color="rgb(128,128,128)"/><stop offset="0.49" stop-color="rgb(128,128,128)"/><stop offset="0.51" stop-color="rgb(142,142,142)"/><stop offset="0.54" stop-color="rgb(156,156,156)"/><stop offset="0.57" stop-color="rgb(156,156,156)"/><stop offset="0.6" stop-color="rgb(156,156,156)"/><stop offset="0.62" stop-color="rgb(128,128,128)"/><stop offset="0.65" stop-color="rgb(113,113,113)"/><stop offset="0.68" stop-color="rgb(128,128,128)"/><stop offset="0.71" stop-color="rgb(156,156,156)"/><stop offset="0.74" stop-color="rgb(156,156,156)"/><stop offset="0.76" stop-color="rgb(156,156,156)"/><stop offset="0.79" stop-color="rgb(156,156,156)"/><stop offset="0.82" stop-color="rgb(156,156,156)"/><stop offset="0.85" stop-color="rgb(156,156,156)"/><stop offset="0.88" stop-color="rgb(156,156,156)"/><stop offset="0.9" stop-color="rgb(156,156,156)"/><stop offset="0.93" stop-color="rgb(156,156,156)"/><stop offset="0.96" stop-color="rgb(128,128,128)"/><stop offset="0.99" stop-color="rgb(113,113,113)"/><stop offset="1" stop-color="rgb(106,106,106)"/></linearGradient><linearGradient id="b13" gradientUnits="userSpaceOnUse" x1="37.5" y1="0" x2="428.5" y2="0"><stop offset="0" stop-color="rgb(142,142,142)"/><stop offset="0.01" stop-color="rgb(128,128,128)"/><stop offset="0.04" stop-color="rgb(128,128,128)"/><stop offset="0.07" stop-color="rgb(128,128,128)"/><stop offset="0.1" stop-color="rgb(113,113,113)"/><stop offset="0.12" stop-color="rgb(99,99,99)"/><stop offset="0.15" stop-color="rgb(99,99,99)"/><stop offset="0.18" stop-color="rgb(99,99,99)"/><stop offset="0.21" stop-color="rgb(85,85,85)"/><stop offset="0.24" stop-color="rgb(99,99,99)"/><stop offset="0.26" stop-color="rgb(99,99,99)"/><stop offset="0.29" stop-color="rgb(128,128,128)"/><stop offset="0.32" stop-color="rgb(156,156,156)"/><stop offset="0.35" stop-color="rgb(156,156,156)"/><stop offset="0.38" stop-color="rgb(156,156,156)"/><stop offset="0.4" stop-color="rgb(113,113,113)"/><stop offset="0.43" stop-color="rgb(99,99,99)"/><stop offset="0.46" stop-color="rgb(99,99,99)"/><stop offset="0.49" stop-color="rgb(99,99,99)"/><stop offset="0.51" stop-color="rgb(99,99,99)"/><stop offset="0.54" stop-color="rgb(156,156,156)"/><stop offset="0.57" stop-color="rgb(156,156,156)"/><stop offset="0.6" stop-color="rgb(156,156,156)"/><stop offset="0.62" stop-color="rgb(128,128,128)"/><stop offset="0.65" stop-color="rgb(99,99,99)"/><stop offset="0.68" stop-color="rgb(128,128,128)"/><stop offset="0.71" stop-color="rgb(128,128,128)"/><stop offset="0.74" stop-color="rgb(128,128,128)"/><stop offset="0.76" stop-color="rgb(128,128,128)"/><stop offset="0.79" stop-color="rgb(142,142,142)"/><stop offset="0.82" stop-color="rgb(156,156,156)"/><stop offset="0.85" stop-color="rgb(128,128,128)"/><stop offset="0.88" stop-color="rgb(156,156,156)"/><stop offset="0.9" stop-color="rgb(156,156,156)"/><stop offset="0.93" stop-color="rgb(156,156,156)"/><stop offset="0.96" stop-color="rgb(156,156,156)"/><stop offset="0.99" stop-color="rgb(156,156,156)"/><stop offset="1" stop-color="rgb(142,142,142)"/></linearGradient><linearGradient id="b14" gradientUnits="userSpaceOnUse" x1="37.5" y1="0" x2="428.5" y2="0"><stop offset="0" stop-color="rgb(142,142,142)"/><stop offset="0.01" stop-color="rgb(128,128,128)"/><stop offset="0.04" stop-color="rgb(128,128,128)"/><stop offset="0.07" stop-color="rgb(128,128,128)"/><stop offset="0.1" stop-color="rgb(128,128,128)"/><stop offset="0.12" stop-color="rgb(113,113,113)"/><stop offset="0.15" stop-color="rgb(85,85,85)"/><stop offset="0.18" stop-color="rgb(71,71,71)"/><stop offset="0.21" stop-color="rgb(57,57,57)"/><stop offset="0.24" stop-color="rgb(71,71,71)"/><stop offset="0.26" stop-color="rgb(71,71,71)"/><stop offset="0.29" stop-color="rgb(142,142,142)"/><stop offset="0.32" stop-color="rgb(156,156,156)"/><stop offset="0.35" stop-color="rgb(156,156,156)"/><stop offset="0.38" stop-color="rgb(156,156,156)"/><stop offset="0.4" stop-color="rgb(99,99,99)"/><stop offset="0.43" stop-color="rgb(71,71,71)"/><stop offset="0.46" stop-color="rgb(71,71,71)"/><stop offset="0.49" stop-color="rgb(71,71,71)"/><stop offset="0.51" stop-color="rgb(71,71,71)"/><stop offset="0.54" stop-color="rgb(142,142,142)"/><stop offset="0.57" stop-color="rgb(156,156,156)"/><stop offset="0.6" stop-color="rgb(156,156,156)"/><stop offset="0.62" stop-color="rgb(128,128,128)"/><stop offset="0.65" stop-color="rgb(113,113,113)"/><stop offset="0.68" stop-color="rgb(99,99,99)"/><stop offset="0.71" stop-color="rgb(99,99,99)"/><stop offset="0.74" stop-color="rgb(99,99,99)"/><stop offset="0.76" stop-color="rgb(113,113,113)"/><stop offset="0.79" stop-color="rgb(128,128,128)"/><stop offset="0.82" stop-color="rgb(128,128,128)"/><stop offset="0.85" stop-color="rgb(142,142,142)"/><stop offset="0.88" stop-color="rgb(128,128,128)"/><stop offset="0.9" stop-color="rgb(128,128,128)"/><stop offset="0.93" stop-color="rgb(128,128,128)"/><stop offset="0.96" stop-color="rgb(156,156,156)"/><stop offset="0.99" stop-color="rgb(156,156,156)"/><stop offset="1" stop-color="rgb(142,142,142)"/></linearGradient><linearGradient id="b15" gradientUnits="userSpaceOnUse" x1="37.5" y1="0" x2="428.5" y2="0"><stop offset="0" stop-color="rgb(142,142,142)"/><stop offset="0.01" stop-color="rgb(128,128,128)"/><stop offset="0.04" stop-color="rgb(128,128,128)"/><stop offset="0.07" stop-color="rgb(128,128,128)"/><stop offset="0.1" stop-color="rgb(128,128,128)"/><stop offset="0.12" stop-color="rgb(113,113,113)"/><stop offset="0.15" stop-color="rgb(85,85,85)"/><stop offset="0.18" stop-color="rgb(57,57,57)"/><stop offset="0.21" stop-color="rgb(42,42,42)"/><stop offset="0.24" stop-color="rgb(42,42,42)"/><stop offset="0.26" stop-color="rgb(71,71,71)"/><stop offset="0.29" stop-color="rgb(99,99,99)"/><stop offset="0.32" stop-color="rgb(156,156,156)"/><stop offset="0.35" stop-color="rgb(156,156,156)"/><stop offset="0.38" stop-color="rgb(142,142,142)"/><stop offset="0.4" stop-color="rgb(99,99,99)"/><stop offset="0.43" stop-color="rgb(71,71,71)"/><stop offset="0.46" stop-color="rgb(71,71,71)"/><stop offset="0.49" stop-color="rgb(71,71,71)"/><stop offset="0.51" stop-color="rgb(71,71,71)"/><stop offset="0.54" stop-color="rgb(128,128,128)"/><stop offset="0.57" stop-color="rgb(142,142,142)"/><stop offset="0.6" stop-color="rgb(156,156,156)"/><stop offset="0.62" stop-color="rgb(156,156,156)"/><stop offset="0.65" stop-color="rgb(99,99,99)"/><stop offset="0.68" stop-color="rgb(99,99,99)"/><stop offset="0.71" stop-color="rgb(99,99,99)"/><stop offset="0.74" stop-color="rgb(99,99,99)"/><stop offset="0.76" stop-color="rgb(99,99,99)"/><stop offset="0.79" stop-color="rgb(128,128,128)"/><stop offset="0.82" stop-color="rgb(128,128,128)"/><stop offset="0.85" stop-color="rgb(128,128,128)"/><stop offset="0.88" stop-color="rgb(128,128,128)"/><stop offset="0.9" stop-color="rgb(128,128,128)"/><stop offset="0.93" stop-color="rgb(113,113,113)"/><stop offset="0.96" stop-color="rgb(128,128,128)"/><stop offset="0.99" stop-color="rgb(156,156,156)"/><stop offset="1" stop-color="rgb(142,142,142)"/></linearGradient><linearGradient id="b16" gradientUnits="userSpaceOnUse" x1="37.5" y1="0" x2="428.5" y2="0"><stop offset="0" stop-color="rgb(128,128,128)"/><stop offset="0.01" stop-color="rgb(128,128,128)"/><stop offset="0.04" stop-color="rgb(128,128,128)"/><stop offset="0.07" stop-color="rgb(128,128,128)"/><stop offset="0.1" stop-color="rgb(128,128,128)"/><stop offset="0.12" stop-color="rgb(128,128,128)"/><stop offset="0.15" stop-color="rgb(113,113,113)"/><stop offset="0.18" stop-color="rgb(85,85,85)"/><stop offset="0.21" stop-color="rgb(57,57,57)"/><stop offset="0.24" stop-color="rgb(57,57,57)"/><stop offset="0.26" stop-color="rgb(71,71,71)"/><stop offset="0.29" stop-color="rgb(99,99,99)"/><stop offset="0.32" stop-color="rgb(142,142,142)"/><stop offset="0.35" stop-color="rgb(156,156,156)"/><stop offset="0.38" stop-color="rgb(128,128,128)"/><stop offset="0.4" stop-color="rgb(128,128,128)"/><stop offset="0.43" stop-color="rgb(99,99,99)"/><stop offset="0.46" stop-color="rgb(71,71,71)"/><stop offset="0.49" stop-color="rgb(71,71,71)"/><stop offset="0.51" stop-color="rgb(71,71,71)"/><stop offset="0.54" stop-color="rgb(128,128,128)"/><stop offset="0.57" stop-color="rgb(128,128,128)"/><stop offset="0.6" stop-color="rgb(128,128,128)"/><stop offset="0.62" stop-color="rgb(128,128,128)"/><stop offset="0.65" stop-color="rgb(99,99,99)"/><stop offset="0.68" stop-color="rgb(99,99,99)"/><stop offset="0.71" stop-color="rgb(71,71,71)"/><stop offset="0.74" stop-color="rgb(71,71,71)"/><stop offset="0.76" stop-color="rgb(71,71,71)"/><stop offset="0.79" stop-color="rgb(99,99,99)"/><stop offset="0.82" stop-color="rgb(128,128,128)"/><stop offset="0.85" stop-color="rgb(128,128,128)"/><stop offset="0.88" stop-color="rgb(128,128,128)"/><stop offset="0.9" stop-color="rgb(128,128,128)"/><stop offset="0.93" stop-color="rgb(99,99,99)"/><stop offset="0.96" stop-color="rgb(99,99,99)"/><stop offset="0.99" stop-color="rgb(128,128,128)"/><stop offset="1" stop-color="rgb(128,128,128)"/></linearGradient><linearGradient id="b17" gradientUnits="userSpaceOnUse" x1="37.5" y1="0" x2="428.5" y2="0"><stop offset="0" stop-color="rgb(128,128,128)"/><stop offset="0.01" stop-color="rgb(128,128,128)"/><stop offset="0.04" stop-color="rgb(128,128,128)"/><stop offset="0.07" stop-color="rgb(128,128,128)"/><stop offset="0.1" stop-color="rgb(156,156,156)"/><stop offset="0.12" stop-color="rgb(142,142,142)"/><stop offset="0.15" stop-color="rgb(128,128,128)"/><stop offset="0.18" stop-color="rgb(128,128,128)"/><stop offset="0.21" stop-color="rgb(99,99,99)"/><stop offset="0.24" stop-color="rgb(99,99,99)"/><stop offset="0.26" stop-color="rgb(71,71,71)"/><stop offset="0.29" stop-color="rgb(85,85,85)"/><stop offset="0.32" stop-color="rgb(128,128,128)"/><stop offset="0.35" stop-color="rgb(156,156,156)"/><stop offset="0.38" stop-color="rgb(128,128,128)"/><stop offset="0.4" stop-color="rgb(128,128,128)"/><stop offset="0.43" stop-color="rgb(128,128,128)"/><stop offset="0.46" stop-color="rgb(99,99,99)"/><stop offset="0.49" stop-color="rgb(99,99,99)"/><stop offset="0.51" stop-color="rgb(99,99,99)"/><stop offset="0.54" stop-color="rgb(99,99,99)"/><stop offset="0.57" stop-color="rgb(128,128,128)"/><stop offset="0.6" stop-color="rgb(99,99,99)"/><stop offset="0.62" stop-color="rgb(128,128,128)"/><stop offset="0.65" stop-color="rgb(99,99,99)"/><stop offset="0.68" stop-color="rgb(99,99,99)"/><stop offset="0.71" stop-color="rgb(99,99,99)"/><stop offset="0.74" stop-color="rgb(99,99,99)"/><stop offset="0.76" stop-color="rgb(99,99,99)"/><stop offset="0.79" stop-color="rgb(99,99,99)"/><stop offset="0.82" stop-color="rgb(128,128,128)"/><stop offset="0.85" stop-color="rgb(99,99,99)"/><stop offset="0.88" stop-color="rgb(113,113,113)"/><stop offset="0.9" stop-color="rgb(128,128,128)"/><stop offset="0.93" stop-color="rgb(128,128,128)"/><stop offset="0.96" stop-color="rgb(128,128,128)"/><stop offset="0.99" stop-color="rgb(128,128,128)"/><stop offset="1" stop-color="rgb(128,128,128)"/></linearGradient><linearGradient id="b18" gradientUnits="userSpaceOnUse" x1="37.5" y1="0" x2="428.5" y2="0"><stop offset="0" stop-color="rgb(128,128,128)"/><stop offset="0.01" stop-color="rgb(128,128,128)"/><stop offset="0.04" stop-color="rgb(128,128,128)"/><stop offset="0.07" stop-color="rgb(128,128,128)"/><stop offset="0.1" stop-color="rgb(142,142,142)"/><stop offset="0.12" stop-color="rgb(156,156,156)"/><stop offset="0.15" stop-color="rgb(156,156,156)"/><stop offset="0.18" stop-color="rgb(156,156,156)"/><stop offset="0.21" stop-color="rgb(128,128,128)"/><stop offset="0.24" stop-color="rgb(113,113,113)"/><stop offset="0.26" stop-color="rgb(99,99,99)"/><stop offset="0.29" stop-color="rgb(99,99,99)"/><stop offset="0.32" stop-color="rgb(113,113,113)"/><stop offset="0.35" stop-color="rgb(156,156,156)"/><stop offset="0.38" stop-color="rgb(156,156,156)"/><stop offset="0.4" stop-color="rgb(156,156,156)"/><stop offset="0.43" stop-color="rgb(128,128,128)"/><stop offset="0.46" stop-color="rgb(128,128,128)"/><stop offset="0.49" stop-color="rgb(113,113,113)"/><stop offset="0.51" stop-color="rgb(99,99,99)"/><stop offset="0.54" stop-color="rgb(99,99,99)"/><stop offset="0.57" stop-color="rgb(128,128,128)"/><stop offset="0.6" stop-color="rgb(128,128,128)"/><stop offset="0.62" stop-color="rgb(128,128,128)"/><stop offset="0.65" stop-color="rgb(128,128,128)"/><stop offset="0.68" stop-color="rgb(113,113,113)"/><stop offset="0.71" stop-color="rgb(128,128,128)"/><stop offset="0.74" stop-color="rgb(128,128,128)"/><stop offset="0.76" stop-color="rgb(128,128,128)"/><stop offset="0.79" stop-color="rgb(113,113,113)"/><stop offset="0.82" stop-color="rgb(99,99,99)"/><stop offset="0.85" stop-color="rgb(113,113,113)"/><stop offset="0.88" stop-color="rgb(99,99,99)"/><stop offset="0.9" stop-color="rgb(128,128,128)"/><stop offset="0.93" stop-color="rgb(128,128,128)"/><stop offset="0.96" stop-color="rgb(128,128,128)"/><stop offset="0.99" stop-color="rgb(128,128,128)"/><stop offset="1" stop-color="rgb(128,128,128)"/></linearGradient><linearGradient id="b19" gradientUnits="userSpaceOnUse" x1="37.5" y1="0" x2="428.5" y2="0"><stop offset="0" stop-color="rgb(128,128,128)"/><stop offset="0.01" stop-color="rgb(128,128,128)"/><stop offset="0.04" stop-color="rgb(128,128,128)"/><stop offset="0.07" stop-color="rgb(128,128,128)"/><stop offset="0.1" stop-color="rgb(128,128,128)"/><stop offset="0.12" stop-color="rgb(142,142,142)"/><stop offset="0.15" stop-color="rgb(156,156,156)"/><stop offset="0.18" stop-color="rgb(142,142,142)"/><stop offset="0.21" stop-color="rgb(128,128,128)"/><stop offset="0.24" stop-color="rgb(128,128,128)"/><stop offset="0.26" stop-color="rgb(128,128,128)"/><stop offset="0.29" stop-color="rgb(128,128,128)"/><stop offset="0.32" stop-color="rgb(99,99,99)"/><stop offset="0.35" stop-color="rgb(142,142,142)"/><stop offset="0.38" stop-color="rgb(156,156,156)"/><stop offset="0.4" stop-color="rgb(156,156,156)"/><stop offset="0.43" stop-color="rgb(156,156,156)"/><stop offset="0.46" stop-color="rgb(156,156,156)"/><stop offset="0.49" stop-color="rgb(128,128,128)"/><stop offset="0.51" stop-color="rgb(128,128,128)"/><stop offset="0.54" stop-color="rgb(128,128,128)"/><stop offset="0.57" stop-color="rgb(128,128,128)"/><stop offset="0.6" stop-color="rgb(128,128,128)"/><stop offset="0.62" stop-color="rgb(142,142,142)"/><stop offset="0.65" stop-color="rgb(156,156,156)"/><stop offset="0.68" stop-color="rgb(128,128,128)"/><stop offset="0.71" stop-color="rgb(128,128,128)"/><stop offset="0.74" stop-color="rgb(128,128,128)"/><stop offset="0.76" stop-color="rgb(128,128,128)"/><stop offset="0.79" stop-color="rgb(128,128,128)"/><stop offset="0.82" stop-color="rgb(128,128,128)"/><stop offset="0.85" stop-color="rgb(128,128,128)"/><stop offset="0.88" stop-color="rgb(128,128,128)"/><stop offset="0.9" stop-color="rgb(128,128,128)"/><stop offset="0.93" stop-color="rgb(128,128,128)"/><stop offset="0.96" stop-color="rgb(128,128,128)"/><stop offset="0.99" stop-color="rgb(128,128,128)"/><stop offset="1" stop-color="rgb(128,128,128)"/></linearGradient><linearGradient id="b20" gradientUnits="userSpaceOnUse" x1="37.5" y1="0" x2="428.5" y2="0"><stop offset="0" stop-color="rgb(128,128,128)"/><stop offset="0.01" stop-color="rgb(128,128,128)"/><stop offset="0.04" stop-color="rgb(128,128,128)"/><stop offset="0.07" stop-color="rgb(128,128,128)"/><stop offset="0.1" stop-color="rgb(128,128,128)"/><stop offset="0.12" stop-color="rgb(128,128,128)"/><stop offset="0.15" stop-color="rgb(128,128,128)"/><stop offset="0.18" stop-color="rgb(128,128,128)"/><stop offset="0.21" stop-color="rgb(128,128,128)"/><stop offset="0.24" stop-color="rgb(128,128,128)"/><stop offset="0.26" stop-color="rgb(128,128,128)"/><stop offset="0.29" stop-color="rgb(142,142,142)"/><stop offset="0.32" stop-color="rgb(99,99,99)"/><stop offset="0.35" stop-color="rgb(128,128,128)"/><stop offset="0.38" stop-color="rgb(128,128,128)"/><stop offset="0.4" stop-color="rgb(128,128,128)"/><stop offset="0.43" stop-color="rgb(156,156,156)"/><stop offset="0.46" stop-color="rgb(156,156,156)"/><stop offset="0.49" stop-color="rgb(156,156,156)"/><stop offset="0.51" stop-color="rgb(128,128,128)"/><stop offset="0.54" stop-color="rgb(128,128,128)"/><stop offset="0.57" stop-color="rgb(128,128,128)"/><stop offset="0.6" stop-color="rgb(128,128,128)"/><stop offset="0.62" stop-color="rgb(156,156,156)"/><stop offset="0.65" stop-color="rgb(156,156,156)"/><stop offset="0.68" stop-color="rgb(142,142,142)"/><stop offset="0.71" stop-color="rgb(128,128,128)"/><stop offset="0.74" stop-color="rgb(128,128,128)"/><stop offset="0.76" stop-color="rgb(128,128,128)"/><stop offset="0.79" stop-color="rgb(128,128,128)"/><stop offset="0.82" stop-color="rgb(128,128,128)"/><stop offset="0.85" stop-color="rgb(128,128,128)"/><stop offset="0.88" stop-color="rgb(128,128,128)"/><stop offset="0.9" stop-color="rgb(128,128,128)"/><stop offset="0.93" stop-color="rgb(128,128,128)"/><stop offset="0.96" stop-color="rgb(128,128,128)"/><stop offset="0.99" stop-color="rgb(128,128,128)"/><stop offset="1" stop-color="rgb(128,128,128)"/></linearGradient><linearGradient id="b21" gradientUnits="userSpaceOnUse" x1="37.5" y1="0" x2="428.5" y2="0"><stop offset="0" stop-color="rgb(128,128,128)"/><stop offset="0.01" stop-color="rgb(128,128,128)"/><stop offset="0.04" stop-color="rgb(128,128,128)"/><stop offset="0.07" stop-color="rgb(128,128,128)"/><stop offset="0.1" stop-color="rgb(128,128,128)"/><stop offset="0.12" stop-color="rgb(128,128,128)"/><stop offset="0.15" stop-color="rgb(128,128,128)"/><stop offset="0.18" stop-color="rgb(128,128,128)"/><stop offset="0.21" stop-color="rgb(128,128,128)"/><stop offset="0.24" stop-color="rgb(128,128,128)"/><stop offset="0.26" stop-color="rgb(128,128,128)"/><stop offset="0.29" stop-color="rgb(156,156,156)"/><stop offset="0.32" stop-color="rgb(99,99,99)"/><stop offset="0.35" stop-color="rgb(99,99,99)"/><stop offset="0.38" stop-color="rgb(128,128,128)"/><stop offset="0.4" stop-color="rgb(128,128,128)"/><stop offset="0.43" stop-color="rgb(128,128,128)"/><stop offset="0.46" stop-color="rgb(128,128,128)"/><stop offset="0.49" stop-color="rgb(128,128,128)"/><stop offset="0.51" stop-color="rgb(128,128,128)"/><stop offset="0.54" stop-color="rgb(128,128,128)"/><stop offset="0.57" stop-color="rgb(128,128,128)"/><stop offset="0.6" stop-color="rgb(128,128,128)"/><stop offset="0.62" stop-color="rgb(128,128,128)"/><stop offset="0.65" stop-color="rgb(128,128,128)"/><stop offset="0.68" stop-color="rgb(142,142,142)"/><stop offset="0.71" stop-color="rgb(128,128,128)"/><stop offset="0.74" stop-color="rgb(128,128,128)"/><stop offset="0.76" stop-color="rgb(128,128,128)"/><stop offset="0.79" stop-color="rgb(128,128,128)"/><stop offset="0.82" stop-color="rgb(128,128,128)"/><stop offset="0.85" stop-color="rgb(128,128,128)"/><stop offset="0.88" stop-color="rgb(128,128,128)"/><stop offset="0.9" stop-color="rgb(128,128,128)"/><stop offset="0.93" stop-color="rgb(128,128,128)"/><stop offset="0.96" stop-color="rgb(128,128,128)"/><stop offset="0.99" stop-color="rgb(128,128,128)"/><stop offset="1" stop-color="rgb(128,128,128)"/></linearGradient><linearGradient id="b22" gradientUnits="userSpaceOnUse" x1="37.5" y1="0" x2="428.5" y2="0"><stop offset="0" stop-color="rgb(128,128,128)"/><stop offset="0.01" stop-color="rgb(128,128,128)"/><stop offset="0.04" stop-color="rgb(128,128,128)"/><stop offset="0.07" stop-color="rgb(128,128,128)"/><stop offset="0.1" stop-color="rgb(128,128,128)"/><stop offset="0.12" stop-color="rgb(128,128,128)"/><stop offset="0.15" stop-color="rgb(128,128,128)"/><stop offset="0.18" stop-color="rgb(128,128,128)"/><stop offset="0.21" stop-color="rgb(128,128,128)"/><stop offset="0.24" stop-color="rgb(128,128,128)"/><stop offset="0.26" stop-color="rgb(128,128,128)"/><stop offset="0.29" stop-color="rgb(156,156,156)"/><stop offset="0.32" stop-color="rgb(99,99,99)"/><stop offset="0.35" stop-color="rgb(99,99,99)"/><stop offset="0.38" stop-color="rgb(128,128,128)"/><stop offset="0.4" stop-color="rgb(128,128,128)"/><stop offset="0.43" stop-color="rgb(128,128,128)"/><stop offset="0.46" stop-color="rgb(128,128,128)"/><stop offset="0.49" stop-color="rgb(128,128,128)"/><stop offset="0.51" stop-color="rgb(128,128,128)"/><stop offset="0.54" stop-color="rgb(128,128,128)"/><stop offset="0.57" stop-color="rgb(128,128,128)"/><stop offset="0.6" stop-color="rgb(128,128,128)"/><stop offset="0.62" stop-color="rgb(128,128,128)"/><stop offset="0.65" stop-color="rgb(128,128,128)"/><stop offset="0.68" stop-color="rgb(128,128,128)"/><stop offset="0.71" stop-color="rgb(128,128,128)"/><stop offset="0.74" stop-color="rgb(128,128,128)"/><stop offset="0.76" stop-color="rgb(128,128,128)"/><stop offset="0.79" stop-color="rgb(128,128,128)"/><stop offset="0.82" stop-color="rgb(128,128,128)"/><stop offset="0.85" stop-color="rgb(128,128,128)"/><stop offset="0.88" stop-color="rgb(128,128,128)"/><stop offset="0.9" stop-color="rgb(128,128,128)"/><stop offset="0.93" stop-color="rgb(128,128,128)"/><stop offset="0.96" stop-color="rgb(128,128,128)"/><stop offset="0.99" stop-color="rgb(128,128,128)"/><stop offset="1" stop-color="rgb(128,128,128)"/></linearGradient><linearGradient id="b23" gradientUnits="userSpaceOnUse" x1="37.5" y1="0" x2="428.5" y2="0"><stop offset="0" stop-color="rgb(128,128,128)"/><stop offset="0.01" stop-color="rgb(128,128,128)"/><stop offset="0.04" stop-color="rgb(128,128,128)"/><stop offset="0.07" stop-color="rgb(128,128,128)"/><stop offset="0.1" stop-color="rgb(128,128,128)"/><stop offset="0.12" stop-color="rgb(128,128,128)"/><stop offset="0.15" stop-color="rgb(128,128,128)"/><stop offset="0.18" stop-color="rgb(128,128,128)"/><stop offset="0.21" stop-color="rgb(128,128,128)"/><stop offset="0.24" stop-color="rgb(128,128,128)"/><stop offset="0.26" stop-color="rgb(128,128,128)"/><stop offset="0.29" stop-color="rgb(128,128,128)"/><stop offset="0.32" stop-color="rgb(128,128,128)"/><stop offset="0.35" stop-color="rgb(113,113,113)"/><stop offset="0.38" stop-color="rgb(128,128,128)"/><stop offset="0.4" stop-color="rgb(128,128,128)"/><stop offset="0.43" stop-color="rgb(128,128,128)"/><stop offset="0.46" stop-color="rgb(99,99,99)"/><stop offset="0.49" stop-color="rgb(99,99,99)"/><stop offset="0.51" stop-color="rgb(99,99,99)"/><stop offset="0.54" stop-color="rgb(99,99,99)"/><stop offset="0.57" stop-color="rgb(99,99,99)"/><stop offset="0.6" stop-color="rgb(99,99,99)"/><stop offset="0.62" stop-color="rgb(113,113,113)"/><stop offset="0.65" stop-color="rgb(128,128,128)"/><stop offset="0.68" stop-color="rgb(113,113,113)"/><stop offset="0.71" stop-color="rgb(113,113,113)"/><stop offset="0.74" stop-color="rgb(113,113,113)"/><stop offset="0.76" stop-color="rgb(99,99,99)"/><stop offset="0.79" stop-color="rgb(99,99,99)"/><stop offset="0.82" stop-color="rgb(99,99,99)"/><stop offset="0.85" stop-color="rgb(128,128,128)"/><stop offset="0.88" stop-color="rgb(128,128,128)"/><stop offset="0.9" stop-color="rgb(128,128,128)"/><stop offset="0.93" stop-color="rgb(128,128,128)"/><stop offset="0.96" stop-color="rgb(128,128,128)"/><stop offset="0.99" stop-color="rgb(128,128,128)"/><stop offset="1" stop-color="rgb(128,128,128)"/></linearGradient><linearGradient id="to0" gradientUnits="userSpaceOnUse" x1="37.5" y1="0" x2="143.94" y2="0"><stop offset="0" stop-color="rgb(235,235,235)" stop-opacity="0.6"/><stop offset="0.15" stop-color="rgb(245,245,245)" stop-opacity="1"/><stop offset="0.31" stop-color="rgb(255,255,255)" stop-opacity="1"/><stop offset="0.87" stop-color="rgb(255,255,255)" stop-opacity="1"/><stop offset="0.96" stop-color="rgb(235,235,235)" stop-opacity="1"/><stop offset="1" stop-color="rgb(210,210,210)" stop-opacity="0"/></linearGradient><linearGradient id="to1" gradientUnits="userSpaceOnUse" x1="191.73" y1="0" x2="238.43" y2="0"><stop offset="0" stop-color="rgb(210,210,210)" stop-opacity="0"/><stop offset="0.19" stop-color="rgb(245,245,245)" stop-opacity="1"/><stop offset="0.65" stop-color="rgb(245,245,245)" stop-opacity="1"/><stop offset="1" stop-color="rgb(235,235,235)" stop-opacity="0"/></linearGradient></defs><g clip-path="url(#c0)"><g filter="url(#fv)"><rect x="25" y="-6.5" width="416" height="17.84" fill="url(#t0)"/><rect x="25" y="11.04" width="416" height="5.84" fill="url(#t1)"/><rect x="25" y="16.58" width="416" height="5.84" fill="url(#t2)"/><rect x="25" y="22.12" width="416" height="5.84" fill="url(#t3)"/><rect x="25" y="27.67" width="416" height="5.84" fill="url(#t4)"/><rect x="25" y="33.21" width="416" height="5.84" fill="url(#t5)"/><rect x="25" y="38.75" width="416" height="5.84" fill="url(#t6)"/><rect x="25" y="44.29" width="416" height="5.84" fill="url(#t7)"/><rect x="25" y="49.83" width="416" height="5.84" fill="url(#t8)"/><rect x="25" y="55.38" width="416" height="5.84" fill="url(#t9)"/><rect x="25" y="60.92" width="416" height="5.84" fill="url(#t10)"/><rect x="25" y="66.46" width="416" height="5.84" fill="url(#t11)"/><rect x="25" y="72" width="416" height="5.84" fill="url(#t12)"/><rect x="25" y="77.54" width="416" height="5.84" fill="url(#t13)"/><rect x="25" y="83.08" width="416" height="5.84" fill="url(#t14)"/><rect x="25" y="88.62" width="416" height="5.84" fill="url(#t15)"/><rect x="25" y="94.17" width="416" height="5.84" fill="url(#t16)"/><rect x="25" y="99.71" width="416" height="5.84" fill="url(#t17)"/><rect x="25" y="105.25" width="416" height="5.84" fill="url(#t18)"/><rect x="25" y="110.79" width="416" height="5.84" fill="url(#t19)"/><rect x="25" y="116.33" width="416" height="5.84" fill="url(#t20)"/><rect x="25" y="121.88" width="416" height="5.84" fill="url(#t21)"/><rect x="25" y="127.42" width="416" height="5.84" fill="url(#t22)"/><rect x="25" y="132.96" width="416" height="17.84" fill="url(#t23)"/><rect x="37.5" y="70.01" width="106.44" height="3.77" fill="url(#to0)"/><rect x="191.73" y="71.45" width="46.7" height="4.99" fill="url(#to1)"/><path d="M351.39,70.34L352.15,69.78L352.91,70.12L353.78,69.01L355.73,68.56L356.6,67.23L357.9,66.57L358.45,66.02L359.21,65.24L359.75,64.35L360.73,64.91L361.81,65.68L362.46,66.02L361.6,66.57L361.16,67.23L361.05,68.56L361.38,69.45L362.14,70.89L361.16,71.11L360.62,72L360.62,72.89L359.64,73.66L359.53,74.77L359.1,76.32L357.9,76.43L357.36,75.88L356.6,75.77L354.75,75.88L353.78,75.33L352.69,75.21L352.58,73.77L352.04,73.44L351.49,72.55L351.39,71.56L351.39,70.34Z" fill="rgb(78,78,78)" fill-opacity="0.85"/><path d="M375.28,73.33L376.26,72.78L376.8,72.44L378.43,72.78L378.86,73.55L378.97,74.88L380.17,75.77L381.8,74.44L383.21,73.88L384.19,74.33L385.92,74.88L387.12,75.21L388.42,75.66L389.94,76.21L391.35,77.43L391.46,78.1L393.2,78.76L393.64,79.31L392.55,79.43L392.98,80.76L393.96,80.98L395.16,82.09L395.81,83.08L396.89,83.42L395.92,83.86L394.72,83.42L393.31,83.19L392.12,81.86L390.16,80.42L388.64,81.09L388.75,81.98L387.88,82.31L386.14,82.09L384.08,80.98L382.88,81.31L383.64,80.09L383.32,78.87L382.77,77.99L380.6,76.99L378.21,75.88L377.45,76.54L376.37,75.1L377.56,74.77L376.69,74.44L375.71,73.66L375.28,73.33Z" fill="rgb(78,78,78)" fill-opacity="0.85"/><path d="M336.51,65.9L337.59,66.13L338.9,66.24L339.87,67.23L341.29,68.45L342.26,69.67L343.13,70.12L344.33,70.89L344.98,71.89L345.74,73.11L346.93,74.55L347.91,75.44L348.13,76.43L347.91,78.43L346.72,78.54L345.85,77.54L344.44,76.66L343.13,75.1L342.59,74.22L341.72,72.67L340.85,71.78L340.09,70.01L339.11,69.23L338.14,67.9L337.16,67.12L336.51,65.9Z" fill="rgb(96,96,96)" fill-opacity="0.7"/><path d="M362.68,78.1L363.77,78.1L363.77,76.77L364.31,75.99L365.07,77.1L366.27,77.54L366.81,77.21L365.94,75.77L365.4,75.21L364.85,74.11L366.05,73L366.92,73.11L366.48,72.33L364.96,71.45L364.2,70.56L365.07,70.89L366.81,71L368.11,71.56L368.98,70.45L368.11,71.45L366.27,71.56L364.31,71.45L363.55,71.78L363.33,72.55L363.12,73.44L362.57,74.33L362.25,75.77L362.79,76.43L362.68,78.1Z" fill="rgb(91,91,91)" fill-opacity="0.7"/></g></g><g clip-path="url(#c0)"><path d="M89.5,46L95,41.5L106,39L109,38L111,41L113,45L110,48.5L103,49.5L91,47.5ZM203,52L212,44L224,40L236,37L240,35.2L254,37.4L270,38.5L276.6,34.1L280,36.9L278.8,41.3L277,49L279,54.6L276,54L273,50.2L262,51.8L251,53L244,53L240,52L230,51L214,53ZM281.4,55.2L282.5,50.6L287.1,47.8L292.8,44.4L297.3,40.4L300.8,37.5L303.6,38.7L302.5,42.7L299.6,48.4L295.1,53.5L289.4,56.9L283.7,59.5L281.4,59.2ZM120.9,83.7L124.4,82.6L132.6,83.2L138.5,82.6L142.6,80.2L143.8,76.7L144.9,76.7L146.7,80.2L150.2,87.3L154.9,92L157.3,95.5L158.4,100.2L156.7,104.9L155.5,107.2L152.6,106L146.7,101.3L138.5,96.6L130.3,90.8L124.4,87.3L120.9,85.5ZM215.9,81.4L221.7,79L231.1,78.5L239.3,80.2L244,83.7L245.8,86.7L246.4,92L248.7,97.8L251.1,103.7L252.3,107.2L248.7,106L241.7,103.7L233.5,99L230,94.3L226.4,89.6L221.7,87.3L217,84.9Z" fill="#fff"/><path d="M89.5,46L95,41.5L106,39L109,38L111,41L113,45L110,48.5L103,49.5L91,47.5Z" fill="url(#hp0)"/><path d="M203,52L212,44L224,40L236,37L240,35.2L254,37.4L270,38.5L276.6,34.1L280,36.9L278.8,41.3L277,49L279,54.6L276,54L273,50.2L262,51.8L251,53L244,53L240,52L230,51L214,53Z" fill="url(#hp1)"/><path d="M281.4,55.2L282.5,50.6L287.1,47.8L292.8,44.4L297.3,40.4L300.8,37.5L303.6,38.7L302.5,42.7L299.6,48.4L295.1,53.5L289.4,56.9L283.7,59.5L281.4,59.2Z" fill="url(#hp2)"/><path d="M120.9,83.7L124.4,82.6L132.6,83.2L138.5,82.6L142.6,80.2L143.8,76.7L144.9,76.7L146.7,80.2L150.2,87.3L154.9,92L157.3,95.5L158.4,100.2L156.7,104.9L155.5,107.2L152.6,106L146.7,101.3L138.5,96.6L130.3,90.8L124.4,87.3L120.9,85.5Z" fill="url(#hp3)"/><path d="M215.9,81.4L221.7,79L231.1,78.5L239.3,80.2L244,83.7L245.8,86.7L246.4,92L248.7,97.8L251.1,103.7L252.3,107.2L248.7,106L241.7,103.7L233.5,99L230,94.3L226.4,89.6L221.7,87.3L217,84.9Z" fill="url(#hp4)"/><path d="M102.67,5.5V138.5M167.83,5.5V138.5M233,5.5V138.5M298.17,5.5V138.5M363.33,5.5V138.5M37.5,116.33H428.5M37.5,94.17H428.5M37.5,72H428.5M37.5,49.83H428.5M37.5,27.67H428.5" stroke="#888" stroke-opacity="0.45" stroke-width="0.5" stroke-dasharray="1.6,1.6" fill="none"/><path d="M50.53,12.93L53.79,11.93L56.51,11.04L59.22,10.38L61.94,9.27L63.57,8.27L65.2,7.38L66.28,6.39L67.91,5.28M70.08,5.28L71.71,5.61L73.88,5.06L76.6,5.5L79.86,5.61L81.49,5.94L83.66,6.83L85.29,7.49L86.38,8.82L87.46,9.71L88.55,10.71L90.18,11.6L91.26,12.37L91.81,13.81L93.43,15.25L94.52,16.03L96.69,17.36L97.56,18.36L98,19.91L98.32,21.57L98.1,23.79L98,25.45L98.32,27.11L98.54,28.44L99.41,29.88L99.95,30.44L100.49,31.21L101.04,32.1L101.91,33.21L103.21,33.87L104.3,34.32L105.38,35.2L105.92,35.98L106.47,37.09L107.23,38.2L108.1,39.3L108.97,40.41L109.18,41.19L110.49,42.3L111.36,43.74L111.9,44.73L113.2,46.51L114.07,46.29L113.53,45.07L112.77,43.74L112.12,42.52L111.14,40.75L110.05,39.3L108.64,37.31L108.31,36.76L109.4,37.09L110.49,37.64L111.36,39.3L112.44,40.97L113.74,42.08L114.61,43.74L115.7,44.73L116.79,45.62L117.87,46.95L118.42,48.17L118.63,49.61L119.5,50.61L120.59,51.5L122.22,52.16L123.85,52.94L125.47,53.6L127.1,54.27L128.73,54.6L130.15,54.05L131.45,54.71L132.86,55.82L134.16,56.59L135.25,56.82L136.34,57.15L137.42,57.48L138.07,57.7L138.83,58.59L139.59,59.59L139.92,60.14L140.14,60.92L140.9,61.36L141.77,62.03L142.42,62.58L143.18,62.91L144.48,63.36L145.46,63.91L146.11,63.58L146.65,62.36L147.41,62.58L147.85,63.13L148.28,63.69L148.83,64.24M149.04,62.47L148.07,61.8L146.65,61.36L145.57,62.14L144.48,62.03L143.72,61.8L142.85,60.92L142.2,60.03L142.09,58.7L142.31,57.59L142.53,55.93L142.64,55.38L141.22,54.49L139.81,54.38L138.51,54.49L137.2,54.6L136.99,53.16L137.2,51.61L137.64,50.39L137.97,49.28L138.51,48.17L137.42,48.17L135.79,48.39L134.82,48.73L134.71,49.83L134.16,50.94L133.08,51.38L131.45,51.61L130.36,51.83L129.28,51.27L128.41,50.61L127.86,49.28L127.32,48.17L126.78,46.84L126.89,45.4L127.1,43.74L127.32,42.63L127.32,41.41L128.19,40.63L129.28,40.08L130.36,39.3L131.45,39.08L133.08,39.19L134.16,39.64L135.25,39.75L136.01,39.53L135.9,38.64L136.88,38.31L137.97,38.42L139.05,38.31L140.14,38.75L141.22,38.86L141.98,39.3L142.85,40.3L143.18,41.52L143.72,42.63L144.26,43.41L145.02,44.07L145.68,43.96L146,42.74L145.57,40.97L145.02,39.3L144.59,38.2L144.7,37.09L145.35,36.2L146.65,35.42L147.74,34.54L149.04,33.76L150.13,33.32L150.89,32.77L150.67,31.55L150.13,30.66L150.56,30.11L151.22,29.55L151.54,28.89L152.08,28.33L152.63,27.56L152.84,27L154.26,26.67L155.02,26.23L156.43,25.89L156.97,25.67L156.32,24.79L156.21,24.23L156.97,23.57L158.06,23.01L159.14,22.79L160.23,22.46L161.32,21.9L162.62,21.79L162.95,21.13L164.03,21.57L165.66,21.35L166.53,21.79L166.2,22.12L164.57,22.57L162.95,23.23L161.53,23.68L161.1,23.01L162.4,22.35L163.27,21.9M162.95,20.79L162.62,19.91L161.86,19.24L162.84,18.36L161.86,17.58L160.23,17.47L158.6,17.8L157.19,18.58L156.43,19.58L157.52,19.02L159.14,17.69L160.77,16.81L162.95,16.36L165.66,16.25L167.83,16.25L169.46,15.48L170.77,14.81L172.18,14.03L172.39,13.04L171.31,12.15L170.01,11.82L168.38,10.82L167.29,10.16L166.2,9.49L165.66,8.6L165.12,7.94L164.03,7.16L163.49,6.39L162.95,5.5M168.59,19.24L170.01,19.24L172.18,19.24L173.26,19.8L174.78,20.24L175.76,19.35L175.22,18.47L174.68,17.47L173.81,17.03L172.72,16.58L172.39,15.14L171.31,14.92L170.55,15.92L169.46,17.47L168.59,18.36L168.59,19.24M130.04,5.5L130.69,6.83L132.53,8.27L134.71,8.71L137.42,9.49L140.14,10.71L142.85,10.82L143.72,11.6L143.61,13.26L144.48,14.14L145.57,15.03L146.87,14.81L147.41,13.81L147.2,12.15L148.5,10.49L149.8,9.38L149.59,8.27L148.83,7.16L148.28,6.05L148.5,5.5M140.79,47.73L141.77,46.95L143.4,46.51L145.02,46.4L146.11,46.62L147.74,47.28L149.15,48.06L150.46,48.61L152.41,49.61L151,49.94L148.83,49.94L148.83,49.17L147.74,48.28L146.11,47.84L144.48,47.28L143.4,47.51L142.31,47.51L140.79,47.73M152.19,51.5L153.71,50.17L155.13,50.06L156.97,50.17L158.17,50.94L158.71,51.5L157.52,51.72L156.21,51.83L155.34,52.38L154.26,51.83L152.63,51.94L152.19,51.5M147.96,51.61L149.37,51.5L150.24,52.05L149.59,52.27L148.07,51.94L147.96,51.61M160.01,51.61L161.75,51.61L161.64,52.05L160.12,52.05L160.01,51.61M148.28,42.41L149.15,42.63L148.5,44.07L148.72,45.18M59.01,47.51L59.98,47.39L61.18,48.06L62.15,48.5L63.02,48.84L63.68,49.61L64.65,50.17L64.11,50.94L63.68,50.5L63.13,49.17L62.48,48.73L61.39,48.39L59.77,47.73L59.01,47.51M149.04,62.47L149.91,62.14L150.89,61.47L151.22,60.14L152.19,59.81L153.39,59.48L154.58,58.81L155.02,58.26L155.56,58.92L154.91,59.59L155.13,60.47L155.67,59.92L156.75,59.25L156.97,58.48L157.41,59.25L158.93,59.92L161.1,60.25L162.4,60.81L163.71,60.36L165.12,60.25L165.88,60.36L165.66,61.03L166.75,61.91L167.62,62.58L168.7,63.58L169.57,64.46L170.77,65.35L172.39,65.46L174.35,65.68L175.65,66.13L176.85,67.34L177.39,68.23L178.04,69.78L178.69,70.67L178.8,72.11L180.22,72.89L181.08,72.67L183.04,73.11L184.34,73.88L184.99,74.77L186.3,74.66L187.93,75.21L189.66,75.21L191.18,76.1L192.6,77.32L194.44,77.76L194.88,79.2L195.2,80.42L194.99,81.75L194.12,82.86L192.81,84.19L191.94,85.74L190.75,86.85L190.64,88.62L190.64,90.84L190.32,91.95L189.77,93.83L188.69,95.83L187.82,96.83L186.84,97.49L185.21,97.49L183.8,98.16L182.39,98.6L181.08,99.71L180.32,100.93L180.22,102.48L179.89,103.59L178.91,104.59L178.15,105.91L176.85,107.25L175.65,108.8L174.89,109.79L173.37,110.68L172.18,110.57L170.87,110.24L169.57,109.68L169.46,110.35L170.55,111.12L171.09,112.12L171.31,112.79L170.22,114.34L168.38,114.89L166.2,115.23L165.34,115L165.44,116.89L164.03,117.55L162.4,117.44L162.4,118.55L163.27,119.22L163.71,118.88L162.84,119.77L162.08,120.88L161.86,121.88L160.77,122.1L159.69,122.98L159.9,123.76L161.1,124.54L161.43,125.2L159.69,126.64L158.93,127.53L158.06,128.3L157.84,129.3L158.49,129.97L156.43,130.63L155.67,131.74L154.26,131.3L152.63,130.08L151.54,129.08L151.11,127.42L150.89,125.86L151.98,124.76L150.89,123.76L152.08,122.76L152.63,120.99L153.5,119.99L153.06,118.44L152.84,116.89L153.28,115.56L153.17,114.12L153.5,113.01L154.15,111.35L155.02,109.68L155.34,107.91L155.34,105.8L155.56,104.14L155.99,102.59L156.32,100.82L156.43,98.6L156.65,96.38L156.75,94.72L156.65,92.39L155.45,91.51L154.26,90.62L152.63,89.73L151.32,88.96L150.46,87.74L150.13,86.74L149.26,85.41L148.61,84.19L147.74,82.31L146.65,80.64L145.57,79.2L144.7,78.65L144.92,77.65L144.7,76.77L145.79,75.77L146.33,74.88L145.46,74.44L145.13,73.22L146,71.89L146.11,71.11L146.98,70.78L147.41,70.12L148.17,69.12L148.83,68.12L149.04,67.34L148.94,65.79L148.83,64.57L148.39,64.02L148.83,64.24M158.49,130.3L159.69,131.52L160.99,132.51L162.19,132.85L160.77,133.07L158.93,133.18L157.52,133.29L155.89,132.96L154.47,132.29L155.89,131.74L156.97,130.96L157.73,130.41L158.49,130.3M166.53,129.41L167.83,128.86L169.46,128.86L170.22,129.19L169.46,129.86L168.05,129.86L166.53,129.41M191.73,131.85L193.36,132.18L194.12,132.63M226.59,32.32L226.16,32.99L225.61,34.09L224.75,34.76L223.66,35.2L222.9,35.98L222.36,37.31L222.57,38.42L222.25,39.19L221.49,39.97L220.29,40.86L218.99,41.19L217.9,42.3L217.25,43.29L216.82,44.51L215.73,45.73L215.08,47.28L214.54,48.5L214.97,49.39L215.3,50.61L215.41,51.72L215.19,53.16L214.97,54.27L214.43,55.38L213.99,55.71L214.64,56.71L214.86,58.26L216.17,59.25L216.93,60.03L218.01,60.92L218.66,62.03L219.42,63.36L220.62,64.35L221.92,65.13L223.22,66.02L224.85,67.12L225.94,66.9L227.57,66.35L228.66,66.24L229.96,66.46L231.04,66.68L232.46,66.02L234.09,65.46L235.72,65.02L237.34,65.02L238.21,65.57L238.97,66.46L239.52,67.23L240.6,67.12L241.91,66.9L242.23,67.01L242.77,67.57L243.43,68.12L243.64,69.23L243.54,70.67L243.21,71.78L242.99,72.67L243.32,73.22L244.3,74.77L245.16,75.88L245.92,77.21L246.36,78.54L246.9,79.65L247.34,80.87L247.55,82.31L248.1,83.64L247.88,84.52L247.01,86.19L246.47,87.3L246.14,88.62L245.82,90.29L245.82,91.17L246.68,93.06L247.55,95.16L248.53,96.61L248.75,98.38L249.07,100.26L249.51,101.81L250.7,103.59L251.25,104.59L252.01,106.14L252.77,107.13L252.88,108.13L252.77,109.02L252.98,109.79L253.64,110.35L254.72,110.57L255.81,110.13L257.55,109.68L259.07,109.79L261.02,109.46L262.32,109.13L263.63,108.35L264.82,107.13L266.02,106.14L267,104.59L267.97,103.92L268.41,102.59L268.73,101.04L268.41,100.48L269.17,100.04L271.01,99.15L271.56,98.27L271.45,96.49L271.34,95.5L270.69,94.39L271.12,93.72L272.43,92.84L273.62,91.51L274.92,90.95L275.9,90.29L277.1,89.07L276.99,88.07L277.1,85.85L276.88,83.86L276.34,83.19L275.79,81.53L275.68,80.2L275.25,79.2L275.58,77.65L276.01,76.77L276.66,75.33L277.42,74.44L278.18,73.88L279.27,72.55L280.35,71.22L281.77,70.01L283.5,68.79L284.81,67.34L285.68,66.02L286.65,64.46L287.41,62.91L288.17,61.14L288.5,59.81L288.72,58.92L287.52,59.14L286.55,59.48L285.57,59.59L284.48,59.59L282.96,60.14L281.88,60.36L280.79,60.47L280.14,59.7L279.92,58.92L279.38,58.15L278.94,57.37L278.18,57.04L277.42,56.37L276.44,55.26L275.68,54.38L275.25,53.27L274.71,52.05L274.06,51.38L273.73,50.39L273.4,48.73L273.08,47.62L272.1,46.62L271.56,45.84L271.34,44.4L270.58,43.07L270.04,42.08L269.38,41.08L268.73,40.19L268.41,38.86L268.19,39.19L268.52,40.3L269.28,40.97L269.93,41.74L269.06,40.75L268.41,38.86L268.08,37.31L266.67,36.98L265.58,37.09L264.5,37.75L262.76,37.31L260.37,36.98L259.07,36.53L257.98,35.87L256.35,35.65L254.83,36.31L254.5,37.64L253.53,38.31L252.01,37.64L250.38,37.42L249.62,36.2L248.1,35.65L246.68,35.65L245.16,35.09L244.19,34.32L244.84,33.1L244.62,32.32L244.19,31.32L243.32,30.66L242.12,31.1L240.82,30.99L239.84,30.88L238.76,31.32L236.58,31.21L234.52,31.55L233,32.21L231.7,32.43L230.61,33.1L229.09,32.88L227.57,32.43L227.13,32.21L226.59,32.32M286.55,85.3L287.2,86.96L287.74,88.85L287.41,89.62L286.87,90.84L286.55,92.5L285.68,94.72L285.02,96.83L284.48,99.49L283.61,99.93L282.31,100.37L281.22,99.93L280.46,98.6L280.03,96.94L280.25,95.61L281.11,94.28L281.11,92.84L280.68,91.29L281.22,90.07L283.29,89.51L284.16,88.51L284.81,87.85L285.13,86.96L286.11,85.85L286.55,85.3M226.59,32.32L226.92,31.99L226.27,31.55L225.94,31.1L224.96,30.77L223.88,30.99L223.33,30.99L223.44,29.66L222.79,29.11L223.12,28.22L223.44,27.33L223.55,26.23L223.33,25.45L223.01,24.45L223.88,23.9L224.85,23.57L226.48,23.68L228.11,23.9L229.74,23.9L231.04,23.9L231.48,23.12L231.7,21.57L231.7,20.79L230.83,19.91L230.28,19.58L229.42,19.13L228.22,18.91L227.9,18.36L229.2,17.91L230.5,18.13L231.48,18.13L231.26,17.47L231.59,16.92L233,17.25L233.33,17.03L234.41,16.47L234.74,15.59L235.72,15.36L236.58,15.03L237.13,14.7L237.67,14.14L238.1,13.37L238.76,12.82L240.06,12.7L241.15,12.59L242.23,12.59L242.56,11.82L242.34,11.04L241.8,10.38L241.8,9.38L242.34,8.71L243.32,8.6L244.4,8.16L244.4,8.82L244.08,9.71L244.73,9.93L244.19,10.38L243.64,10.93L243.86,11.37L244.84,11.82L245.49,12.04L246.58,11.71L247.77,11.82L248.42,12.26L249.83,11.93L251.14,11.48L252.55,11.26L253.2,11.71L254.4,11.6L255.37,11.15L256.03,10.71L255.92,9.82L255.81,8.94L256.46,8.38L257.55,8.05L258.52,8.82L259.5,8.6L259.5,7.49L258.52,7.05L258.41,6.28L259.61,6.05L261.24,5.94L263.09,6.17L264.17,5.83L265.58,5.61L265.8,5.28M238.32,5.28L238.65,6.28L239.08,6.94L240.17,7.61L241.47,7.72L242.56,7.16L243.54,6.61L244.4,6.17L244.84,6.5L245.16,6.72L245.6,7.49L246.25,8.38L246.79,9.27L247.01,10.27L247.77,10.6L248.53,10.38L248.86,9.82L250.27,9.82L250.92,8.94L251.14,7.94L251.25,7.05L252.33,6.72L252.98,6.17L253.53,5.39M246.14,9.93L246.68,10.27L246.36,10.71L245.49,10.82L244.95,10.49L245.49,10.04L246.14,9.93M226.81,16.47L228.11,16.25L229.31,16.14L230.83,15.92L231.91,15.7L233.54,15.7L234.52,15.25L233.98,14.7L234.85,13.81L234.74,13.37L233.43,13.26L233.22,12.7L232.67,12.04L231.7,11.48L231.26,10.71L230.72,10.04L229.74,9.82L230.18,9.6L230.72,8.94L231.04,8.27L230.72,8.05L229.42,8.05L228.66,8.16L229.63,7.05L228.33,7.05L227.57,7.05L227.13,7.61L226.81,8.49L227.03,9.38L226.48,9.6L227.13,10.16L227.68,10.38L227.57,11.15L228.22,11.26L229.2,11.15L229.42,11.71L229.74,12.37L229.63,12.93L228.44,12.93L228,13.48L228.55,14.03L227.35,14.59L228.44,14.81L229.42,15.03L228.44,15.25L227.46,15.48L226.81,16.47M226.37,14.14L226.48,13.26L226.27,12.26L226.92,11.48L226.37,10.82L225.07,10.71L223.99,10.82L223.66,11.48L222.25,11.93L222.36,12.7L222.03,13.04L222.9,13.7L221.92,14.37L222.36,14.81L223.77,14.81L224.75,14.37L226.05,14.14L226.37,14.14M226.92,31.99L227.57,31.55L228.22,31.32L229.74,31.21L230.72,31.32L231.26,30.66L232.24,30.33L232.57,29.44L233.22,29L232.67,28.33L233.11,27.56L233.87,26.89L234.3,26.45L235.39,26.12L236.48,25.56L236.48,24.9L236.37,24.23L237.34,23.79L238.43,23.9L239.52,24.23L240.39,23.9L241.15,23.46L242.01,23.23L242.67,22.79L243.54,23.12L244.19,23.79L244.51,24.45L245.16,25.01L246.03,25.56L246.79,26.12L247.77,26.34L248.75,27L249.29,27.44L249.94,27.67L250.27,28.44L250.49,29L250.05,29.66L250.49,29.88L251.03,29.44L251.68,28.78L251.57,28.33L250.92,27.89L251.36,27.22L252.12,27.33L253.09,27.56L252.98,27.22L252.12,26.78L251.03,26.34L250.38,26L250.27,25.56L249.18,25.34L248.31,24.79L247.77,23.79L246.68,23.12L246.36,22.35L246.47,21.68L247.23,21.35L247.88,21.46L248.1,22.35L249.18,22.01L249.62,22.9L250.38,23.79L251.46,24.12L252.33,24.56L253.09,25.01L254.07,25.56L254.07,26.56L253.96,27.22L254.72,28.11L255.48,29L255.92,29.55L256.46,30.55L256.57,31.21L257.44,31.66L257.98,31.21L257.76,30.44L258.2,29.77L259.07,29.66L258.09,28.89L257.55,28.11L257.76,27.11L258.74,27.22L259.5,27.56L258.96,26.89L260.59,26.67L261.56,26.67L261.89,27.22L261.35,27.89L261.56,28.44L262.11,28.89L261.56,29.66L262.54,30.22L262.65,30.99L263.52,31.32L264.61,31.32L265.26,31.99L266.24,31.32L267.43,31.43L268.3,31.99L269.49,31.88L270.69,31.21L271.56,31.43L272.21,31.1L271.88,31.77L271.99,32.77L271.56,33.65L271.23,34.65L271.01,35.54L270.58,36.42L270.25,37.31L269.71,37.64L268.73,37.53L268.08,37.31M263.41,25.89L264.39,26.23L265.37,26.34L266.89,26.45L268.08,25.78L269.38,25.45L271.23,25.45L273.08,26.23L274.6,26.67L275.9,26.45L276.88,26.56L278.18,26L278.18,24.79L277.42,24.23L276.44,23.9L275.03,22.9L273.73,22.46L272.86,21.9L273.62,21.68L274.49,20.79L273.95,20.35L275.47,19.91L273.62,19.91L271.88,20.35L271.01,20.68L271.01,21.46L272.43,21.9L271.56,22.01L270.14,22.68L269.28,22.57L269.38,22.12L268.3,21.79L269.49,21.13L268.41,20.91L267.43,20.68L266.67,20.35L265.91,20.91L265.15,21.79L265.15,22.35L264.28,22.24L264.06,23.23L263.41,24.01L263.09,24.79L263.41,25.45L263.41,25.89M284.59,21.57L285.68,20.57L286.76,20.35L288.39,19.91L289.48,20.02L290.56,20.13L290.78,20.79L290.56,21.79L289.69,21.79L288.72,22.68L287.63,22.79L288.17,23.23L288.72,24.23L290.02,24.56L290.24,25.45L290.46,26.56L291.54,27L290.78,27.78L290.89,28.78L291.54,28.89L291.65,30.55L290.78,30.99L288.93,31.21L287.52,30.55L286.44,30.33L286.11,29L286.44,28.33L286.65,27.56L287.52,27.22L286.76,26.89L285.78,25.67L284.92,24.56L284.59,23.79L283.83,22.9L284.37,22.35L284.59,21.57M246.47,29.77L247.88,29.77L249.4,29.55L249.94,29.55L249.4,30.66L249.4,31.43L248.64,31.21L247.23,30.44L246.47,30.33L246.47,29.77M242.12,26.56L242.99,26.34L243.54,26.67L243.54,28.55L242.77,28.78L242.12,28.78L242.12,27.22L242.12,26.56M243.21,24.56L243.43,25.34L242.99,26.12L242.34,25.56L242.45,24.79L243.21,24.56M258.52,32.88L259.28,32.77L261.02,32.88L261.56,33.1L259.94,33.32L258.52,32.88M268.08,33.1L269.82,32.88L270.58,32.43L269.82,33.32L268.84,33.65L268.08,33.1M270.91,39.3L270.58,40.86L271.34,40.97L272.32,42.52L273.19,44.18L274.16,45.29L275.14,46.62L275.47,48.39L276.23,49.5L277.31,50.83L278.07,52.27L278.94,53.82L279.49,55.04L279.81,56.37L280.03,57.92L281.01,58.04L281.98,57.7L283.29,57.15L284.48,56.93L285.89,56.48L286.87,55.71L288.17,55.26L289.37,54.82L290.13,53.82L291.11,53.49L292.74,52.72L293.28,51.72L294.37,51.38L295.56,51.05L295.78,50.06L296.65,49.39L297.51,48.28L297.95,47.06L297.3,46.51L296.65,45.84L295.34,45.51L294.37,44.85L294.26,42.96L293.82,43.41L293.28,43.85L292.3,44.73L291,45.18L289.69,45.4L289.04,45.18L288.72,44.73L289.04,43.41L288.5,43.07L288.07,43.85L287.63,43.41L287.41,42.41L286.55,41.74L285.78,40.97L285.57,40.3L285.13,39.53L285.02,38.75L285.68,38.86L286.76,38.75L287.52,38.64L288.17,39.75L288.93,41.08L290.02,41.41L291.11,42.3L292.41,42.63L293.5,42.19L294.26,41.96L295.02,42.52L295.34,43.52L296.54,43.63L297.73,43.85L299.8,44.18L301.32,44.07L303.05,44.07L305.12,43.85L305.88,44.62L306.31,45.51L307.07,45.73L307.72,46.62L309.03,47.06L309.57,48.39L310.33,48.95L311.96,48.28L311.85,49.39L312.07,50.83L312.29,52.16L312.72,53.71L313.37,55.15L313.92,56.48L314.02,57.59L314.57,58.48L315.22,59.48L315.76,60.58L316.2,61.69L316.63,62.58L317.17,63.13L318.04,62.14L319.02,61.8L318.69,61.36L319.24,60.58L319.78,60.47L319.78,59.25L320.21,57.59L320,56.71L320.11,55.38L320.97,54.49L321.74,53.93L322.28,53.6L322.28,53.16L324.12,51.72L325.21,50.61L326.41,49.83L326.95,49.61L327.49,48.17L328.58,47.73L329.56,47.95L330.42,47.62L331.29,47.17L332.27,46.73L332.7,47.17L332.92,48.5L333.36,49.06L334.12,49.94L334.77,50.17L335.42,51.83L335.64,52.83L335.31,54.27L335.75,54.27L336.61,54.6L337.81,53.82L338.57,53.27L339,54.16L339.22,55.38L339.66,56.82L339.87,58.7L340.09,60.36L339.98,61.03L339.76,62.69L339.66,63.24L340.74,64.24L341.72,64.8L341.94,66.13L342.26,67.34L343.02,68.79L343.67,69.56L345.2,70.45L345.41,70.67L346.17,70.56L345.85,69.23L345.3,67.68L345.3,66.57L344.76,65.9L343.89,65.13L343.35,64.57L341.94,63.69L341.61,62.8L341.5,61.8L340.74,61.8L340.74,60.47L341.07,59.59L341.5,58.48L341.61,57.15L342.26,57.04L342.48,58.04L343.46,58.04L344.44,58.48L344.44,59.25L344.98,59.59L345.41,60.25L346.28,60.36L347.26,59.92L347.04,60.92L346.82,62.25L347.26,62.47L348.56,61.47L348.89,60.36L349.54,60.36L350.73,59.81L351.6,59.14L351.6,58.15L351.82,57.15L351.6,55.6L350.73,54.93L350.63,54.16L349.65,53.49L348.56,52.49L347.8,51.38L347.8,50.83L348.56,49.94L348.89,49.06L349.76,48.28L350.41,48.06L351.39,48.17L352.04,48.39L352.91,49.39L353.34,48.73L354.32,48.06L355.4,47.73L356.27,47.28L357.03,47.28L358.23,46.84L359.21,46.62L360.4,45.84L361.38,44.96L361.92,44.85L362.9,43.96L362.9,43.07L363.66,42.19L364.2,41.08L364.96,40.52L365.18,39.86L365.4,38.86L364.75,38.42L365.18,37.86L364.96,37.09L365.4,36.87L364.75,36.2L364.2,35.87L363.99,34.98L363.55,33.98L362.46,33.32L363.12,32.54L363.99,31.99L364.53,31.32L366.05,31.1L365.94,30.44L364.53,30.33L363.44,30.66L362.25,30.77L362.14,29.99L360.73,29.22L360.84,28.55L361.92,28.55L362.9,27.78L364.09,27L365.07,26.67L365.72,27.11L364.85,27.89L365.07,28.55L364.53,28.89L365.4,28.89L366.05,28.22L366.92,28.11L368,27.78L368.87,28.11L369.2,29L368.98,29.66L369.74,29.99L370.61,30.55L370.18,31.43L370.39,32.54L370.18,33.43L370.83,33.54L371.59,33.54L372.57,33.21L373.22,32.99L373.65,32.54L373.54,31.32L373.33,30.22L372.67,29.44L371.81,28.66L371.48,27.89L372.67,27.44L373.87,26.67L373.98,25.89L374.85,25.12L375.5,24.67L376.69,24.01L378,24.56L379.52,23.9L381.25,22.57L382.45,21.35L383.54,19.91L384.08,19.02L385.16,18.36L385.6,16.81L385.71,15.59L385.92,14.7L386.58,13.7L386.58,12.93L385.27,12.37L383.86,12.04L382.34,12.59L381.47,11.48L382.23,10.71L383.1,9.82L384.62,8.6L386.68,6.94L387.88,6.28L389.94,6.17L391.57,6.28L393.2,6.28L395.05,5.83L397.33,6.05L398.96,6.5L400.48,6.17L401.35,5.61L401.89,5.28M410.58,5.28L410.25,5.94L409.06,6.94L408.84,7.94L409.93,9.16L409.17,9.71L408.52,10.71L407.21,11.82L406.56,13.04L405.26,13.37L404.82,14.48L403.3,15.48L402.98,13.81L402.54,11.82L402.11,10.38L402.65,8.94L403.52,7.94L404.93,7.61L406.45,6.39L408.52,5.28M387.23,21.02L387.77,20.24L388.86,20.91L388.53,19.58L387.88,18.91L388.42,17.36L390.05,17.8L389.07,15.92L388.53,14.59L388.64,12.93L387.88,11.71L387.44,12.48L387.01,13.59L387.23,14.92L387.34,16.47L387.23,17.8L387.12,19.02L387.23,21.02M385.06,25.89L385.38,24.79L384.95,24.45L385.6,24.01L386.58,24.01L387.01,22.57L386.9,21.68L387.88,22.12L389.29,23.01L390.81,22.9L391.03,24.01L389.4,24.45L388.53,25.45L387.12,24.79L386.25,25.67L385.06,25.89M386.25,26.34L386.68,27L387.23,28.11L386.79,28.89L386.14,29.55L386.03,30.88L385.71,31.77L385.92,32.32L385.49,32.99L384.95,33.32L384.19,32.88L383.86,33.54L383.1,33.65L382.12,33.65L381.58,33.32L381.58,33.98L380.49,34.87L379.73,34.32L379.73,33.65L378.76,33.65L377.78,33.87L376.58,34.43L375.28,34.43L375.93,33.54L377.02,32.77L379.19,32.54L380.39,32.65L380.71,32.21L381.47,31.1L382.01,31.21L382.34,30.33L383.54,30.11L384.4,29.66L385.06,28.33L384.95,27L385.38,26.34L386.25,26.34M375.28,34.43L375.93,34.87L376.26,35.87L375.71,37.2L374.95,37.64L374.41,37.2L374.63,36.2L373.98,35.76L373.76,35.09L374.74,34.54L375.28,34.43M377.02,34.76L377.67,35.42L379.19,34.65L379.3,34.09L378.43,33.87L377.02,34.09L377.02,34.76M363.44,46.51L364.09,44.85L365.07,43.96L365.51,44.29L364.96,45.4L364.42,47.17L364.09,47.62L363.44,46.51M350.95,50.61L351.93,49.72L353.12,49.72L353.56,50.28L352.58,51.61L351.6,51.61L350.95,50.61M319.67,63.13L319.78,61.36L320.32,61.14L321.19,62.47L321.84,63.69L321.63,64.8L320.54,65.46L319.89,64.8L319.67,63.13M336.51,65.9L337.59,66.13L338.9,66.24L339.87,67.23L341.29,68.45L342.26,69.67L343.13,70.12L344.33,70.89L344.98,71.89L345.74,73.11L346.93,74.55L347.91,75.44L348.13,76.43L347.91,78.43L346.72,78.54L345.85,77.54L344.44,76.66L343.13,75.1L342.59,74.22L341.72,72.67L340.85,71.78L340.09,70.01L339.11,69.23L338.14,67.9L337.16,67.12L336.51,65.9M347.26,79.54L348.24,78.54L349.54,78.54L350.84,79.09L352.25,79.65L353.34,79.2L355.3,79.65L356.27,79.98L357.47,80.53L357.36,81.53L355.3,81.31L354.1,81.2L353.12,80.98L351.28,80.64L349.54,80.2L348.56,80.2L347.48,79.65L347.26,79.54M358.45,81.31L360.62,81.42L362.25,81.64L364.09,81.2L366.37,81.42L367.68,81.2M368.66,81.86L370.5,81.31L370.94,81.53L368.76,82.97L367.24,83.42L368.66,81.86M351.39,70.34L352.15,69.78L352.91,70.12L353.78,69.01L355.73,68.56L356.6,67.23L357.9,66.57L358.45,66.02L359.21,65.24L359.75,64.35L360.73,64.91L361.81,65.68L362.46,66.02L361.6,66.57L361.16,67.23L361.05,68.56L361.38,69.45L362.14,70.89L361.16,71.11L360.62,72L360.62,72.89L359.64,73.66L359.53,74.77L359.1,76.32L357.9,76.43L357.36,75.88L356.6,75.77L354.75,75.88L353.78,75.33L352.69,75.21L352.58,73.77L352.04,73.44L351.49,72.55L351.39,71.56L351.39,70.34M362.68,78.1L363.77,78.1L363.77,76.77L364.31,75.99L365.07,77.1L366.27,77.54L366.81,77.21L365.94,75.77L365.4,75.21L364.85,74.11L366.05,73L366.92,73.11L366.48,72.33L364.96,71.45L364.2,70.56L365.07,70.89L366.81,71L368.11,71.56L368.98,70.45L368.11,71.45L366.27,71.56L364.31,71.45L363.55,71.78L363.33,72.55L363.12,73.44L362.57,74.33L362.25,75.77L362.79,76.43L362.68,78.1M371.91,69.56L372.13,70.89L371.59,72L372.57,72.67M372.02,75.66L373.65,75.1L375.06,75.66L374.09,75.77L372.46,75.99L372.02,75.66M375.28,73.33L376.26,72.78L376.8,72.44L378.43,72.78L378.86,73.55L378.97,74.88L380.17,75.77L381.8,74.44L383.21,73.88L384.19,74.33L385.92,74.88L387.12,75.21L388.42,75.66L389.94,76.21L391.35,77.43L391.46,78.1L393.2,78.76L393.64,79.31L392.55,79.43L392.98,80.76L393.96,80.98L395.16,82.09L395.81,83.08L396.89,83.42L395.92,83.86L394.72,83.42L393.31,83.19L392.12,81.86L390.16,80.42L388.64,81.09L388.75,81.98L387.88,82.31L386.14,82.09L384.08,80.98L382.88,81.31L383.64,80.09L383.32,78.87L382.77,77.99L380.6,76.99L378.21,75.88L377.45,76.54L376.37,75.1L377.56,74.77L376.69,74.44L375.71,73.66L375.28,73.33M394.07,78.21L395.7,78.1L396.79,78.1L397.65,76.66L398.41,76.77L397.98,77.99L396.13,78.98L394.72,78.76L394.07,78.21M396.79,74.88L398.31,75.55L399.17,76.77L398.85,77.1L397.65,76.1L396.79,74.88M401.35,77.76L402.32,79.2L402.98,79.54M403.52,80.09L404.93,80.87L406.02,81.31L407.32,82.31L408.41,82.86L409.28,83.75M414.16,88.96L414.6,89.62L415.68,90.62M411.12,94.39L412.43,95.5L413.95,96.61L414.38,96.72M425.68,91.51L426.87,91.62L426.65,92.17L425.68,92.06M427.2,90.73L428.07,90.18L428.5,89.96M363.99,51.5L364.75,51.5L365.72,51.5L365.83,53.05L365.61,53.93L365.07,54.38L365.18,56.15L365.72,56.26L366.59,56.71L367.68,57.59L367.79,58.15L366.92,57.59L366.16,57.37L365.4,56.93L364.53,56.93L363.99,56.26L364.31,55.82L363.99,55.38L363.22,54.93L363.22,53.82L363.66,53.38L363.77,52.49L363.99,51.5M369.2,61.14L370.07,61.69L370.28,62.69L370.39,64.02L370.07,65.02L369.63,63.91L369.2,64.46L369.2,65.79L367.89,65.13L367.57,64.35L367.89,63.8L367.24,63.36L366.59,63.69L365.83,64.24L365.4,64.02L365.83,63.13L367.13,62.36L368.33,62.58L369.2,61.14M365.51,58.81L366.05,60.14L366.7,61.14L367.24,61.36L366.92,60.58L367.68,59.7L368.33,60.36L368.76,59.59L369.31,58.48L368.33,58.04M360.29,62.69L361.6,61.69L362.79,60.36L362.57,59.81M356.27,96.38L357.03,96.16L357.47,96.05L358.34,95.83L359.75,94.83L360.51,94.94L362.03,94.5L362.79,94.17L364.31,93.83L365.07,92.73L365.72,91.95L365.83,91.17L367.03,91.17L367.46,89.96L368,90.07L368.66,88.74L369.52,88.07L369.96,87.63L371.04,87.3L372.02,88.51L373,88.74L373.76,88.51L374.85,86.52L375.06,85.74L377.02,85.41L377.02,84.86L376.15,84.52L377.45,84.64L378.97,85.3L379.95,85.52L381.04,85.19L381.69,85.74L381.15,86.74L380.6,86.74L380.06,88.29L381.04,89.29L381.91,89.73L383.21,90.62L384.3,91.29L385.27,91.62L386.25,90.62L386.9,88.62L386.68,87.18L386.9,85.74L387.77,83.86L388.1,84.41L388.42,85.19L388.86,86.19L388.97,87.52L390.05,87.74L390.92,88.62L390.81,89.62L391.79,91.73L391.68,92.95L393.2,93.61L394.61,94.61L395.59,96.72L396.68,96.83L397.55,98.71L399.07,100.04L399.28,100.93L399.83,103.26L399.28,105.25L399.17,106.69L398.63,108.13L397.76,108.58L397.22,109.57L396.68,111.01L396.03,112.34L395.81,113.12L395.26,113.89L394.07,113.89L393.09,114.34L392.01,115.11L390.92,114.56L390.38,114.01L389.94,114.23L388.97,115L387.44,114.56L386.79,114.45L385.71,114.12L384.62,113.45L384.62,112.01L383.86,111.46L382.99,111.46L383.32,110.13L382.77,109.24L382.67,108.13L382.23,108.91L381.15,109.79L380.6,110.68L379.84,110.24L379.84,109.57L379.19,108.8L378.86,108.13L377.45,107.47L376.37,107.47L375.61,106.91L373.65,107.02L372.24,107.47L371.04,107.8L369.96,107.69L368.87,108.24L367.89,108.46L367.68,109.13L367.35,109.57L365.72,109.68L364.75,109.46L363.33,109.57L363.22,109.68L362.57,110.24L361.7,110.46L361.16,110.9L360.4,110.79L359.64,110.79L358.55,110.13L357.9,109.91L358.01,109.24L358.66,108.91L358.66,108.46L358.77,107.69L358.66,107.02L358.12,105.91L357.9,104.7L357.47,103.92L357.47,103.59L357.03,102.92L356.82,102.26L356.27,101.37L356.06,100.93L356.6,101.37L356.16,100.37L356.71,100.71L357.03,101.15L357.03,100.59L356.49,99.71L356.38,99.38L356.16,99.04L356.6,97.6L356.49,96.94L356.27,96.38M390.16,117.11L390.92,117.22L392.01,117.55L393.42,117.22L394.07,117.33L394.18,118.66L393.74,118.99L393.64,119.88L393.31,119.66L392.55,120.32L392.33,120.32L391.57,120.21L390.92,119.33L390.81,118.55L390.16,117.66L390.16,117.11M420.46,110.24L420.9,111.01L422.31,111.12L422.63,112.12L423.4,113.23L423.5,112.45L423.94,112.79L424.16,113.67L425.68,114.12L426.33,113.67L426.87,113.78L426.65,114.78L426.22,115.45L425.46,115.34L425.13,115.67L425.24,116.22L424.16,117.77L423.29,118.22L423.18,117.89L422.74,117.77L423.29,116.89L422.96,116.22L421.77,115.78L422.63,115L422.74,114.12L422.74,113.45L422.31,112.45L422.31,112.68L421.77,112.01L421.01,111.01L420.46,110.24M420.9,117.33L421.77,117.77L422.2,117.77L422.2,118.33L421.87,118.77L421.11,119.66L420.57,120.1L421.01,120.66L420.14,120.66L419.27,120.99L418.94,121.76L418.29,122.87L417.42,123.43L416.88,123.65L415.9,123.65L415.25,123.32L414.05,123.21L413.84,122.87L414.38,121.99L415.79,120.88L416.44,120.66L417.31,120.32L418.18,119.66L418.83,119.1L419.38,118.33L419.7,118L419.92,117.33L420.68,116.89L420.9,117.33M307.72,125.86L308.59,126.2L309.57,126.42L309.24,126.97L308.48,126.64L307.72,125.86" stroke="#000" stroke-width="1.25" fill="none" stroke-linejoin="round"/></g><rect x="37.5" y="5.5" width="391" height="133" fill="none" stroke="#333" stroke-width="1"/><g clip-path="url(#c1)"><g filter="url(#fb)"><rect x="25" y="142.5" width="416" height="17.84" fill="url(#b0)"/><rect x="25" y="160.04" width="416" height="5.84" fill="url(#b1)"/><rect x="25" y="165.58" width="416" height="5.84" fill="url(#b2)"/><rect x="25" y="171.12" width="416" height="5.84" fill="url(#b3)"/><rect x="25" y="176.67" width="416" height="5.84" fill="url(#b4)"/><rect x="25" y="182.21" width="416" height="5.84" fill="url(#b5)"/><rect x="25" y="187.75" width="416" height="5.84" fill="url(#b6)"/><rect x="25" y="193.29" width="416" height="5.84" fill="url(#b7)"/><rect x="25" y="198.83" width="416" height="5.84" fill="url(#b8)"/><rect x="25" y="204.38" width="416" height="5.84" fill="url(#b9)"/><rect x="25" y="209.92" width="416" height="5.84" fill="url(#b10)"/><rect x="25" y="215.46" width="416" height="5.84" fill="url(#b11)"/><rect x="25" y="221" width="416" height="5.84" fill="url(#b12)"/><rect x="25" y="226.54" width="416" height="5.84" fill="url(#b13)"/><rect x="25" y="232.08" width="416" height="5.84" fill="url(#b14)"/><rect x="25" y="237.62" width="416" height="5.84" fill="url(#b15)"/><rect x="25" y="243.17" width="416" height="5.84" fill="url(#b16)"/><rect x="25" y="248.71" width="416" height="5.84" fill="url(#b17)"/><rect x="25" y="254.25" width="416" height="5.84" fill="url(#b18)"/><rect x="25" y="259.79" width="416" height="5.84" fill="url(#b19)"/><rect x="25" y="265.33" width="416" height="5.84" fill="url(#b20)"/><rect x="25" y="270.88" width="416" height="5.84" fill="url(#b21)"/><rect x="25" y="276.42" width="416" height="5.84" fill="url(#b22)"/><rect x="25" y="281.96" width="416" height="17.84" fill="url(#b23)"/></g></g><g clip-path="url(#c1)"><path d="M91,196L98,190L105,188.5L108,186L112,191L113,195L107,198L97,198ZM203,201L212,193L222,188L234,185L240,184L254,185.4L265,185.4L272,183.3L276.4,183.3L279.2,186.8L277.8,193.8L276.4,199.4L275,202.2L268,201.5L254,202.9L244,202.2L230,199L212,202ZM281.4,205L282.5,200.8L287.1,197.4L292.8,194L297.3,189.4L300.8,186.5L303,187.7L301.9,195.1L298.5,201.9L292.8,205.3L287.1,208.2L282.5,209.9ZM121.5,233.3L126.7,232.2L136.1,232.7L140.8,231.6L142.6,228L143.2,225.7L144.9,225.1L146.7,229.2L150.2,236.3L154.9,239.8L156.7,243.3L156.1,249.2L155.5,255L152.6,255L145.5,250.3L138.5,245.6L130.3,240.4L125.6,237.4L121.5,235.1ZM216.5,230.4L221.7,228L231.1,227.5L239.3,229.2L244,232.7L245.8,236.3L246.4,241L248.7,246.8L252.3,253.9L253.4,256.2L247.6,255L239.3,251.5L233.5,248L230,243.3L226.4,238.6L221.7,236.3L217,232.7Z" fill="#fff"/><path d="M91,196L98,190L105,188.5L108,186L112,191L113,195L107,198L97,198Z" fill="url(#hp5)"/><path d="M203,201L212,193L222,188L234,185L240,184L254,185.4L265,185.4L272,183.3L276.4,183.3L279.2,186.8L277.8,193.8L276.4,199.4L275,202.2L268,201.5L254,202.9L244,202.2L230,199L212,202Z" fill="url(#hp6)"/><path d="M281.4,205L282.5,200.8L287.1,197.4L292.8,194L297.3,189.4L300.8,186.5L303,187.7L301.9,195.1L298.5,201.9L292.8,205.3L287.1,208.2L282.5,209.9Z" fill="url(#hp7)"/><path d="M121.5,233.3L126.7,232.2L136.1,232.7L140.8,231.6L142.6,228L143.2,225.7L144.9,225.1L146.7,229.2L150.2,236.3L154.9,239.8L156.7,243.3L156.1,249.2L155.5,255L152.6,255L145.5,250.3L138.5,245.6L130.3,240.4L125.6,237.4L121.5,235.1Z" fill="url(#hp8)"/><path d="M216.5,230.4L221.7,228L231.1,227.5L239.3,229.2L244,232.7L245.8,236.3L246.4,241L248.7,246.8L252.3,253.9L253.4,256.2L247.6,255L239.3,251.5L233.5,248L230,243.3L226.4,238.6L221.7,236.3L217,232.7Z" fill="url(#hp5)"/><path d="M102.67,154.5V287.5M167.83,154.5V287.5M233,154.5V287.5M298.17,154.5V287.5M363.33,154.5V287.5M37.5,265.33H428.5M37.5,243.17H428.5M37.5,221H428.5M37.5,198.83H428.5M37.5,176.67H428.5" stroke="#888" stroke-opacity="0.45" stroke-width="0.5" stroke-dasharray="1.6,1.6" fill="none"/><path d="M50.53,161.93L53.79,160.93L56.51,160.04L59.22,159.38L61.94,158.27L63.57,157.27L65.2,156.38L66.28,155.39L67.91,154.28M70.08,154.28L71.71,154.61L73.88,154.06L76.6,154.5L79.86,154.61L81.49,154.94L83.66,155.83L85.29,156.5L86.38,157.82L87.46,158.71L88.55,159.71L90.18,160.6L91.26,161.37L91.81,162.81L93.43,164.25L94.52,165.03L96.69,166.36L97.56,167.36L98,168.91L98.32,170.57L98.1,172.79L98,174.45L98.32,176.11L98.54,177.44L99.41,178.88L99.95,179.44L100.49,180.21L101.04,181.1L101.91,182.21L103.21,182.87L104.3,183.32L105.38,184.2L105.92,184.98L106.47,186.09L107.23,187.2L108.1,188.3L108.97,189.41L109.18,190.19L110.49,191.3L111.36,192.74L111.9,193.74L113.2,195.51L114.07,195.29L113.53,194.07L112.77,192.74L112.12,191.52L111.14,189.75L110.05,188.3L108.64,186.31L108.31,185.75L109.4,186.09L110.49,186.64L111.36,188.3L112.44,189.97L113.74,191.07L114.61,192.74L115.7,193.74L116.79,194.62L117.87,195.95L118.42,197.17L118.63,198.61L119.5,199.61L120.59,200.5L122.22,201.16L123.85,201.94L125.47,202.6L127.1,203.27L128.73,203.6L130.15,203.05L131.45,203.71L132.86,204.82L134.16,205.59L135.25,205.82L136.34,206.15L137.42,206.48L138.07,206.7L138.83,207.59L139.59,208.59L139.92,209.14L140.14,209.92L140.9,210.36L141.77,211.03L142.42,211.58L143.18,211.91L144.48,212.36L145.46,212.91L146.11,212.58L146.65,211.36L147.41,211.58L147.85,212.13L148.28,212.69L148.83,213.24M149.04,211.47L148.07,210.8L146.65,210.36L145.57,211.14L144.48,211.03L143.72,210.8L142.85,209.92L142.2,209.03L142.09,207.7L142.31,206.59L142.53,204.93L142.64,204.38L141.22,203.49L139.81,203.38L138.51,203.49L137.2,203.6L136.99,202.16L137.2,200.61L137.64,199.39L137.97,198.28L138.51,197.17L137.42,197.17L135.79,197.39L134.82,197.72L134.71,198.83L134.16,199.94L133.08,200.38L131.45,200.61L130.36,200.83L129.28,200.27L128.41,199.61L127.86,198.28L127.32,197.17L126.78,195.84L126.89,194.4L127.1,192.74L127.32,191.63L127.32,190.41L128.19,189.63L129.28,189.08L130.36,188.3L131.45,188.08L133.08,188.19L134.16,188.64L135.25,188.75L136.01,188.53L135.9,187.64L136.88,187.31L137.97,187.42L139.05,187.31L140.14,187.75L141.22,187.86L141.98,188.3L142.85,189.3L143.18,190.52L143.72,191.63L144.26,192.41L145.02,193.07L145.68,192.96L146,191.74L145.57,189.97L145.02,188.3L144.59,187.2L144.7,186.09L145.35,185.2L146.65,184.43L147.74,183.54L149.04,182.76L150.13,182.32L150.89,181.77L150.67,180.55L150.13,179.66L150.56,179.11L151.22,178.55L151.54,177.89L152.08,177.33L152.63,176.56L152.84,176L154.26,175.67L155.02,175.23L156.43,174.89L156.97,174.67L156.32,173.78L156.21,173.23L156.97,172.57L158.06,172.01L159.14,171.79L160.23,171.46L161.32,170.9L162.62,170.79L162.95,170.13L164.03,170.57L165.66,170.35L166.53,170.79L166.2,171.12L164.57,171.57L162.95,172.23L161.53,172.68L161.1,172.01L162.4,171.35L163.27,170.9M162.95,169.79L162.62,168.91L161.86,168.24L162.84,167.36L161.86,166.58L160.23,166.47L158.6,166.8L157.19,167.58L156.43,168.58L157.52,168.02L159.14,166.69L160.77,165.81L162.95,165.36L165.66,165.25L167.83,165.25L169.46,164.47L170.77,163.81L172.18,163.03L172.39,162.04L171.31,161.15L170.01,160.82L168.38,159.82L167.29,159.16L166.2,158.49L165.66,157.6L165.12,156.94L164.03,156.16L163.49,155.39L162.95,154.5M168.59,168.24L170.01,168.24L172.18,168.24L173.26,168.8L174.78,169.24L175.76,168.35L175.22,167.47L174.68,166.47L173.81,166.03L172.72,165.58L172.39,164.14L171.31,163.92L170.55,164.92L169.46,166.47L168.59,167.36L168.59,168.24M130.04,154.5L130.69,155.83L132.53,157.27L134.71,157.71L137.42,158.49L140.14,159.71L142.85,159.82L143.72,160.6L143.61,162.26L144.48,163.15L145.57,164.03L146.87,163.81L147.41,162.81L147.2,161.15L148.5,159.49L149.8,158.38L149.59,157.27L148.83,156.16L148.28,155.05L148.5,154.5M140.79,196.73L141.77,195.95L143.4,195.51L145.02,195.4L146.11,195.62L147.74,196.28L149.15,197.06L150.46,197.61L152.41,198.61L151,198.94L148.83,198.94L148.83,198.17L147.74,197.28L146.11,196.84L144.48,196.28L143.4,196.51L142.31,196.51L140.79,196.73M152.19,200.5L153.71,199.17L155.13,199.06L156.97,199.17L158.17,199.94L158.71,200.5L157.52,200.72L156.21,200.83L155.34,201.38L154.26,200.83L152.63,200.94L152.19,200.5M147.96,200.61L149.37,200.5L150.24,201.05L149.59,201.27L148.07,200.94L147.96,200.61M160.01,200.61L161.75,200.61L161.64,201.05L160.12,201.05L160.01,200.61M148.28,191.41L149.15,191.63L148.5,193.07L148.72,194.18M59.01,196.51L59.98,196.39L61.18,197.06L62.15,197.5L63.02,197.84L63.68,198.61L64.65,199.17L64.11,199.94L63.68,199.5L63.13,198.17L62.48,197.72L61.39,197.39L59.77,196.73L59.01,196.51M149.04,211.47L149.91,211.14L150.89,210.47L151.22,209.14L152.19,208.81L153.39,208.48L154.58,207.81L155.02,207.26L155.56,207.92L154.91,208.59L155.13,209.47L155.67,208.92L156.75,208.25L156.97,207.48L157.41,208.25L158.93,208.92L161.1,209.25L162.4,209.81L163.71,209.36L165.12,209.25L165.88,209.36L165.66,210.03L166.75,210.91L167.62,211.58L168.7,212.58L169.57,213.46L170.77,214.35L172.39,214.46L174.35,214.68L175.65,215.13L176.85,216.34L177.39,217.23L178.04,218.78L178.69,219.67L178.8,221.11L180.22,221.89L181.08,221.67L183.04,222.11L184.34,222.88L184.99,223.77L186.3,223.66L187.93,224.21L189.66,224.21L191.18,225.1L192.6,226.32L194.44,226.76L194.88,228.2L195.2,229.42L194.99,230.75L194.12,231.86L192.81,233.19L191.94,234.74L190.75,235.85L190.64,237.62L190.64,239.84L190.32,240.95L189.77,242.83L188.69,244.83L187.82,245.83L186.84,246.49L185.21,246.49L183.8,247.16L182.39,247.6L181.08,248.71L180.32,249.93L180.22,251.48L179.89,252.59L178.91,253.59L178.15,254.91L176.85,256.25L175.65,257.8L174.89,258.79L173.37,259.68L172.18,259.57L170.87,259.24L169.57,258.68L169.46,259.35L170.55,260.12L171.09,261.12L171.31,261.79L170.22,263.34L168.38,263.89L166.2,264.23L165.34,264L165.44,265.89L164.03,266.55L162.4,266.44L162.4,267.55L163.27,268.22L163.71,267.88L162.84,268.77L162.08,269.88L161.86,270.88L160.77,271.1L159.69,271.98L159.9,272.76L161.1,273.54L161.43,274.2L159.69,275.64L158.93,276.53L158.06,277.3L157.84,278.3L158.49,278.97L156.43,279.63L155.67,280.74L154.26,280.3L152.63,279.08L151.54,278.08L151.11,276.42L150.89,274.87L151.98,273.76L150.89,272.76L152.08,271.76L152.63,269.99L153.5,268.99L153.06,267.44L152.84,265.89L153.28,264.56L153.17,263.12L153.5,262.01L154.15,260.35L155.02,258.68L155.34,256.91L155.34,254.8L155.56,253.14L155.99,251.59L156.32,249.82L156.43,247.6L156.65,245.38L156.75,243.72L156.65,241.39L155.45,240.51L154.26,239.62L152.63,238.73L151.32,237.96L150.46,236.74L150.13,235.74L149.26,234.41L148.61,233.19L147.74,231.31L146.65,229.64L145.57,228.2L144.7,227.65L144.92,226.65L144.7,225.77L145.79,224.77L146.33,223.88L145.46,223.44L145.13,222.22L146,220.89L146.11,220.11L146.98,219.78L147.41,219.12L148.17,218.12L148.83,217.12L149.04,216.34L148.94,214.79L148.83,213.57L148.39,213.02L148.83,213.24M158.49,279.3L159.69,280.52L160.99,281.51L162.19,281.85L160.77,282.07L158.93,282.18L157.52,282.29L155.89,281.96L154.47,281.29L155.89,280.74L156.97,279.96L157.73,279.41L158.49,279.3M166.53,278.41L167.83,277.86L169.46,277.86L170.22,278.19L169.46,278.86L168.05,278.86L166.53,278.41M191.73,280.85L193.36,281.18L194.12,281.63M226.59,181.32L226.16,181.99L225.61,183.09L224.75,183.76L223.66,184.2L222.9,184.98L222.36,186.31L222.57,187.42L222.25,188.19L221.49,188.97L220.29,189.86L218.99,190.19L217.9,191.3L217.25,192.29L216.82,193.51L215.73,194.73L215.08,196.28L214.54,197.5L214.97,198.39L215.3,199.61L215.41,200.72L215.19,202.16L214.97,203.27L214.43,204.38L213.99,204.71L214.64,205.71L214.86,207.26L216.17,208.25L216.93,209.03L218.01,209.92L218.66,211.03L219.42,212.36L220.62,213.35L221.92,214.13L223.22,215.02L224.85,216.12L225.94,215.9L227.57,215.35L228.66,215.24L229.96,215.46L231.04,215.68L232.46,215.02L234.09,214.46L235.72,214.02L237.34,214.02L238.21,214.57L238.97,215.46L239.52,216.23L240.6,216.12L241.91,215.9L242.23,216.01L242.77,216.57L243.43,217.12L243.64,218.23L243.54,219.67L243.21,220.78L242.99,221.67L243.32,222.22L244.3,223.77L245.16,224.88L245.92,226.21L246.36,227.54L246.9,228.65L247.34,229.87L247.55,231.31L248.1,232.64L247.88,233.52L247.01,235.19L246.47,236.3L246.14,237.62L245.82,239.29L245.82,240.17L246.68,242.06L247.55,244.16L248.53,245.61L248.75,247.38L249.07,249.26L249.51,250.81L250.7,252.59L251.25,253.59L252.01,255.14L252.77,256.13L252.88,257.13L252.77,258.02L252.98,258.79L253.64,259.35L254.72,259.57L255.81,259.13L257.55,258.68L259.07,258.79L261.02,258.46L262.32,258.13L263.63,257.35L264.82,256.13L266.02,255.14L267,253.59L267.97,252.92L268.41,251.59L268.73,250.04L268.41,249.48L269.17,249.04L271.01,248.15L271.56,247.27L271.45,245.49L271.34,244.5L270.69,243.39L271.12,242.72L272.43,241.84L273.62,240.51L274.92,239.95L275.9,239.29L277.1,238.07L276.99,237.07L277.1,234.85L276.88,232.86L276.34,232.19L275.79,230.53L275.68,229.2L275.25,228.2L275.58,226.65L276.01,225.77L276.66,224.32L277.42,223.44L278.18,222.88L279.27,221.55L280.35,220.22L281.77,219L283.5,217.79L284.81,216.34L285.68,215.02L286.65,213.46L287.41,211.91L288.17,210.14L288.5,208.81L288.72,207.92L287.52,208.14L286.55,208.48L285.57,208.59L284.48,208.59L282.96,209.14L281.88,209.36L280.79,209.47L280.14,208.7L279.92,207.92L279.38,207.15L278.94,206.37L278.18,206.04L277.42,205.37L276.44,204.26L275.68,203.38L275.25,202.27L274.71,201.05L274.06,200.38L273.73,199.39L273.4,197.72L273.08,196.62L272.1,195.62L271.56,194.84L271.34,193.4L270.58,192.07L270.04,191.07L269.38,190.08L268.73,189.19L268.41,187.86L268.19,188.19L268.52,189.3L269.28,189.97L269.93,190.74L269.06,189.75L268.41,187.86L268.08,186.31L266.67,185.98L265.58,186.09L264.5,186.75L262.76,186.31L260.37,185.98L259.07,185.53L257.98,184.87L256.35,184.65L254.83,185.31L254.5,186.64L253.53,187.31L252.01,186.64L250.38,186.42L249.62,185.2L248.1,184.65L246.68,184.65L245.16,184.09L244.19,183.32L244.84,182.1L244.62,181.32L244.19,180.32L243.32,179.66L242.12,180.1L240.82,179.99L239.84,179.88L238.76,180.32L236.58,180.21L234.52,180.55L233,181.21L231.7,181.43L230.61,182.1L229.09,181.88L227.57,181.43L227.13,181.21L226.59,181.32M286.55,234.3L287.2,235.96L287.74,237.85L287.41,238.62L286.87,239.84L286.55,241.5L285.68,243.72L285.02,245.83L284.48,248.49L283.61,248.93L282.31,249.37L281.22,248.93L280.46,247.6L280.03,245.94L280.25,244.61L281.11,243.28L281.11,241.84L280.68,240.29L281.22,239.07L283.29,238.51L284.16,237.51L284.81,236.85L285.13,235.96L286.11,234.85L286.55,234.3M226.59,181.32L226.92,180.99L226.27,180.55L225.94,180.1L224.96,179.77L223.88,179.99L223.33,179.99L223.44,178.66L222.79,178.11L223.12,177.22L223.44,176.33L223.55,175.23L223.33,174.45L223.01,173.45L223.88,172.9L224.85,172.57L226.48,172.68L228.11,172.9L229.74,172.9L231.04,172.9L231.48,172.12L231.7,170.57L231.7,169.79L230.83,168.91L230.28,168.58L229.42,168.13L228.22,167.91L227.9,167.36L229.2,166.91L230.5,167.13L231.48,167.13L231.26,166.47L231.59,165.92L233,166.25L233.33,166.03L234.41,165.47L234.74,164.59L235.72,164.36L236.58,164.03L237.13,163.7L237.67,163.15L238.1,162.37L238.76,161.81L240.06,161.7L241.15,161.59L242.23,161.59L242.56,160.82L242.34,160.04L241.8,159.38L241.8,158.38L242.34,157.71L243.32,157.6L244.4,157.16L244.4,157.82L244.08,158.71L244.73,158.93L244.19,159.38L243.64,159.93L243.86,160.37L244.84,160.82L245.49,161.04L246.58,160.71L247.77,160.82L248.42,161.26L249.83,160.93L251.14,160.48L252.55,160.26L253.2,160.71L254.4,160.6L255.37,160.15L256.03,159.71L255.92,158.82L255.81,157.94L256.46,157.38L257.55,157.05L258.52,157.82L259.5,157.6L259.5,156.5L258.52,156.05L258.41,155.28L259.61,155.05L261.24,154.94L263.09,155.16L264.17,154.83L265.58,154.61L265.8,154.28M238.32,154.28L238.65,155.28L239.08,155.94L240.17,156.61L241.47,156.72L242.56,156.16L243.54,155.61L244.4,155.16L244.84,155.5L245.16,155.72L245.6,156.5L246.25,157.38L246.79,158.27L247.01,159.27L247.77,159.6L248.53,159.38L248.86,158.82L250.27,158.82L250.92,157.94L251.14,156.94L251.25,156.05L252.33,155.72L252.98,155.16L253.53,154.39M246.14,158.93L246.68,159.27L246.36,159.71L245.49,159.82L244.95,159.49L245.49,159.04L246.14,158.93M226.81,165.47L228.11,165.25L229.31,165.14L230.83,164.92L231.91,164.7L233.54,164.7L234.52,164.25L233.98,163.7L234.85,162.81L234.74,162.37L233.43,162.26L233.22,161.7L232.67,161.04L231.7,160.48L231.26,159.71L230.72,159.04L229.74,158.82L230.18,158.6L230.72,157.94L231.04,157.27L230.72,157.05L229.42,157.05L228.66,157.16L229.63,156.05L228.33,156.05L227.57,156.05L227.13,156.61L226.81,157.49L227.03,158.38L226.48,158.6L227.13,159.16L227.68,159.38L227.57,160.15L228.22,160.26L229.2,160.15L229.42,160.71L229.74,161.37L229.63,161.93L228.44,161.93L228,162.48L228.55,163.03L227.35,163.59L228.44,163.81L229.42,164.03L228.44,164.25L227.46,164.47L226.81,165.47M226.37,163.15L226.48,162.26L226.27,161.26L226.92,160.48L226.37,159.82L225.07,159.71L223.99,159.82L223.66,160.48L222.25,160.93L222.36,161.7L222.03,162.04L222.9,162.7L221.92,163.37L222.36,163.81L223.77,163.81L224.75,163.37L226.05,163.15L226.37,163.15M226.92,180.99L227.57,180.55L228.22,180.32L229.74,180.21L230.72,180.32L231.26,179.66L232.24,179.33L232.57,178.44L233.22,178L232.67,177.33L233.11,176.56L233.87,175.89L234.3,175.45L235.39,175.12L236.48,174.56L236.48,173.9L236.37,173.23L237.34,172.79L238.43,172.9L239.52,173.23L240.39,172.9L241.15,172.46L242.01,172.23L242.67,171.79L243.54,172.12L244.19,172.79L244.51,173.45L245.16,174.01L246.03,174.56L246.79,175.12L247.77,175.34L248.75,176L249.29,176.44L249.94,176.67L250.27,177.44L250.49,178L250.05,178.66L250.49,178.88L251.03,178.44L251.68,177.78L251.57,177.33L250.92,176.89L251.36,176.22L252.12,176.33L253.09,176.56L252.98,176.22L252.12,175.78L251.03,175.34L250.38,175L250.27,174.56L249.18,174.34L248.31,173.78L247.77,172.79L246.68,172.12L246.36,171.35L246.47,170.68L247.23,170.35L247.88,170.46L248.1,171.35L249.18,171.01L249.62,171.9L250.38,172.79L251.46,173.12L252.33,173.56L253.09,174.01L254.07,174.56L254.07,175.56L253.96,176.22L254.72,177.11L255.48,178L255.92,178.55L256.46,179.55L256.57,180.21L257.44,180.66L257.98,180.21L257.76,179.44L258.2,178.77L259.07,178.66L258.09,177.89L257.55,177.11L257.76,176.11L258.74,176.22L259.5,176.56L258.96,175.89L260.59,175.67L261.56,175.67L261.89,176.22L261.35,176.89L261.56,177.44L262.11,177.89L261.56,178.66L262.54,179.22L262.65,179.99L263.52,180.32L264.61,180.32L265.26,180.99L266.24,180.32L267.43,180.44L268.3,180.99L269.49,180.88L270.69,180.21L271.56,180.44L272.21,180.1L271.88,180.77L271.99,181.77L271.56,182.65L271.23,183.65L271.01,184.54L270.58,185.42L270.25,186.31L269.71,186.64L268.73,186.53L268.08,186.31M263.41,174.89L264.39,175.23L265.37,175.34L266.89,175.45L268.08,174.78L269.38,174.45L271.23,174.45L273.08,175.23L274.6,175.67L275.9,175.45L276.88,175.56L278.18,175L278.18,173.78L277.42,173.23L276.44,172.9L275.03,171.9L273.73,171.46L272.86,170.9L273.62,170.68L274.49,169.79L273.95,169.35L275.47,168.91L273.62,168.91L271.88,169.35L271.01,169.68L271.01,170.46L272.43,170.9L271.56,171.01L270.14,171.68L269.28,171.57L269.38,171.12L268.3,170.79L269.49,170.13L268.41,169.91L267.43,169.68L266.67,169.35L265.91,169.91L265.15,170.79L265.15,171.35L264.28,171.24L264.06,172.23L263.41,173.01L263.09,173.78L263.41,174.45L263.41,174.89M284.59,170.57L285.68,169.57L286.76,169.35L288.39,168.91L289.48,169.02L290.56,169.13L290.78,169.79L290.56,170.79L289.69,170.79L288.72,171.68L287.63,171.79L288.17,172.23L288.72,173.23L290.02,173.56L290.24,174.45L290.46,175.56L291.54,176L290.78,176.78L290.89,177.78L291.54,177.89L291.65,179.55L290.78,179.99L288.93,180.21L287.52,179.55L286.44,179.33L286.11,178L286.44,177.33L286.65,176.56L287.52,176.22L286.76,175.89L285.78,174.67L284.92,173.56L284.59,172.79L283.83,171.9L284.37,171.35L284.59,170.57M246.47,178.77L247.88,178.77L249.4,178.55L249.94,178.55L249.4,179.66L249.4,180.44L248.64,180.21L247.23,179.44L246.47,179.33L246.47,178.77M242.12,175.56L242.99,175.34L243.54,175.67L243.54,177.55L242.77,177.78L242.12,177.78L242.12,176.22L242.12,175.56M243.21,173.56L243.43,174.34L242.99,175.12L242.34,174.56L242.45,173.78L243.21,173.56M258.52,181.88L259.28,181.77L261.02,181.88L261.56,182.1L259.94,182.32L258.52,181.88M268.08,182.1L269.82,181.88L270.58,181.43L269.82,182.32L268.84,182.65L268.08,182.1M270.91,188.3L270.58,189.86L271.34,189.97L272.32,191.52L273.19,193.18L274.16,194.29L275.14,195.62L275.47,197.39L276.23,198.5L277.31,199.83L278.07,201.27L278.94,202.82L279.49,204.04L279.81,205.37L280.03,206.92L281.01,207.03L281.98,206.7L283.29,206.15L284.48,205.93L285.89,205.48L286.87,204.71L288.17,204.26L289.37,203.82L290.13,202.82L291.11,202.49L292.74,201.72L293.28,200.72L294.37,200.38L295.56,200.05L295.78,199.06L296.65,198.39L297.51,197.28L297.95,196.06L297.3,195.51L296.65,194.84L295.34,194.51L294.37,193.85L294.26,191.96L293.82,192.41L293.28,192.85L292.3,193.74L291,194.18L289.69,194.4L289.04,194.18L288.72,193.74L289.04,192.41L288.5,192.07L288.07,192.85L287.63,192.41L287.41,191.41L286.55,190.74L285.78,189.97L285.57,189.3L285.13,188.53L285.02,187.75L285.68,187.86L286.76,187.75L287.52,187.64L288.17,188.75L288.93,190.08L290.02,190.41L291.11,191.3L292.41,191.63L293.5,191.19L294.26,190.96L295.02,191.52L295.34,192.52L296.54,192.63L297.73,192.85L299.8,193.18L301.32,193.07L303.05,193.07L305.12,192.85L305.88,193.62L306.31,194.51L307.07,194.73L307.72,195.62L309.03,196.06L309.57,197.39L310.33,197.95L311.96,197.28L311.85,198.39L312.07,199.83L312.29,201.16L312.72,202.71L313.37,204.15L313.92,205.48L314.02,206.59L314.57,207.48L315.22,208.48L315.76,209.58L316.2,210.69L316.63,211.58L317.17,212.13L318.04,211.14L319.02,210.8L318.69,210.36L319.24,209.58L319.78,209.47L319.78,208.25L320.21,206.59L320,205.71L320.11,204.38L320.97,203.49L321.74,202.93L322.28,202.6L322.28,202.16L324.12,200.72L325.21,199.61L326.41,198.83L326.95,198.61L327.49,197.17L328.58,196.73L329.56,196.95L330.42,196.62L331.29,196.17L332.27,195.73L332.7,196.17L332.92,197.5L333.36,198.06L334.12,198.94L334.77,199.17L335.42,200.83L335.64,201.83L335.31,203.27L335.75,203.27L336.61,203.6L337.81,202.82L338.57,202.27L339,203.16L339.22,204.38L339.66,205.82L339.87,207.7L340.09,209.36L339.98,210.03L339.76,211.69L339.66,212.24L340.74,213.24L341.72,213.8L341.94,215.13L342.26,216.34L343.02,217.79L343.67,218.56L345.2,219.45L345.41,219.67L346.17,219.56L345.85,218.23L345.3,216.68L345.3,215.57L344.76,214.9L343.89,214.13L343.35,213.57L341.94,212.69L341.61,211.8L341.5,210.8L340.74,210.8L340.74,209.47L341.07,208.59L341.5,207.48L341.61,206.15L342.26,206.04L342.48,207.03L343.46,207.03L344.44,207.48L344.44,208.25L344.98,208.59L345.41,209.25L346.28,209.36L347.26,208.92L347.04,209.92L346.82,211.25L347.26,211.47L348.56,210.47L348.89,209.36L349.54,209.36L350.73,208.81L351.6,208.14L351.6,207.15L351.82,206.15L351.6,204.6L350.73,203.93L350.63,203.16L349.65,202.49L348.56,201.49L347.8,200.38L347.8,199.83L348.56,198.94L348.89,198.06L349.76,197.28L350.41,197.06L351.39,197.17L352.04,197.39L352.91,198.39L353.34,197.72L354.32,197.06L355.4,196.73L356.27,196.28L357.03,196.28L358.23,195.84L359.21,195.62L360.4,194.84L361.38,193.96L361.92,193.85L362.9,192.96L362.9,192.07L363.66,191.19L364.2,190.08L364.96,189.52L365.18,188.86L365.4,187.86L364.75,187.42L365.18,186.86L364.96,186.09L365.4,185.87L364.75,185.2L364.2,184.87L363.99,183.98L363.55,182.98L362.46,182.32L363.12,181.54L363.99,180.99L364.53,180.32L366.05,180.1L365.94,179.44L364.53,179.33L363.44,179.66L362.25,179.77L362.14,178.99L360.73,178.22L360.84,177.55L361.92,177.55L362.9,176.78L364.09,176L365.07,175.67L365.72,176.11L364.85,176.89L365.07,177.55L364.53,177.89L365.4,177.89L366.05,177.22L366.92,177.11L368,176.78L368.87,177.11L369.2,178L368.98,178.66L369.74,178.99L370.61,179.55L370.18,180.44L370.39,181.54L370.18,182.43L370.83,182.54L371.59,182.54L372.57,182.21L373.22,181.99L373.65,181.54L373.54,180.32L373.33,179.22L372.67,178.44L371.81,177.66L371.48,176.89L372.67,176.44L373.87,175.67L373.98,174.89L374.85,174.12L375.5,173.67L376.69,173.01L378,173.56L379.52,172.9L381.25,171.57L382.45,170.35L383.54,168.91L384.08,168.02L385.16,167.36L385.6,165.81L385.71,164.59L385.92,163.7L386.58,162.7L386.58,161.93L385.27,161.37L383.86,161.04L382.34,161.59L381.47,160.48L382.23,159.71L383.1,158.82L384.62,157.6L386.68,155.94L387.88,155.28L389.94,155.16L391.57,155.28L393.2,155.28L395.05,154.83L397.33,155.05L398.96,155.5L400.48,155.16L401.35,154.61L401.89,154.28M410.58,154.28L410.25,154.94L409.06,155.94L408.84,156.94L409.93,158.16L409.17,158.71L408.52,159.71L407.21,160.82L406.56,162.04L405.26,162.37L404.82,163.48L403.3,164.47L402.98,162.81L402.54,160.82L402.11,159.38L402.65,157.94L403.52,156.94L404.93,156.61L406.45,155.39L408.52,154.28M387.23,170.02L387.77,169.24L388.86,169.91L388.53,168.58L387.88,167.91L388.42,166.36L390.05,166.8L389.07,164.92L388.53,163.59L388.64,161.93L387.88,160.71L387.44,161.48L387.01,162.59L387.23,163.92L387.34,165.47L387.23,166.8L387.12,168.02L387.23,170.02M385.06,174.89L385.38,173.78L384.95,173.45L385.6,173.01L386.58,173.01L387.01,171.57L386.9,170.68L387.88,171.12L389.29,172.01L390.81,171.9L391.03,173.01L389.4,173.45L388.53,174.45L387.12,173.78L386.25,174.67L385.06,174.89M386.25,175.34L386.68,176L387.23,177.11L386.79,177.89L386.14,178.55L386.03,179.88L385.71,180.77L385.92,181.32L385.49,181.99L384.95,182.32L384.19,181.88L383.86,182.54L383.1,182.65L382.12,182.65L381.58,182.32L381.58,182.98L380.49,183.87L379.73,183.32L379.73,182.65L378.76,182.65L377.78,182.87L376.58,183.43L375.28,183.43L375.93,182.54L377.02,181.77L379.19,181.54L380.39,181.65L380.71,181.21L381.47,180.1L382.01,180.21L382.34,179.33L383.54,179.11L384.4,178.66L385.06,177.33L384.95,176L385.38,175.34L386.25,175.34M375.28,183.43L375.93,183.87L376.26,184.87L375.71,186.2L374.95,186.64L374.41,186.2L374.63,185.2L373.98,184.76L373.76,184.09L374.74,183.54L375.28,183.43M377.02,183.76L377.67,184.43L379.19,183.65L379.3,183.09L378.43,182.87L377.02,183.09L377.02,183.76M363.44,195.51L364.09,193.85L365.07,192.96L365.51,193.29L364.96,194.4L364.42,196.17L364.09,196.62L363.44,195.51M350.95,199.61L351.93,198.72L353.12,198.72L353.56,199.28L352.58,200.61L351.6,200.61L350.95,199.61M319.67,212.13L319.78,210.36L320.32,210.14L321.19,211.47L321.84,212.69L321.63,213.8L320.54,214.46L319.89,213.8L319.67,212.13M336.51,214.9L337.59,215.13L338.9,215.24L339.87,216.23L341.29,217.45L342.26,218.67L343.13,219.12L344.33,219.89L344.98,220.89L345.74,222.11L346.93,223.55L347.91,224.44L348.13,225.43L347.91,227.43L346.72,227.54L345.85,226.54L344.44,225.66L343.13,224.1L342.59,223.22L341.72,221.67L340.85,220.78L340.09,219L339.11,218.23L338.14,216.9L337.16,216.12L336.51,214.9M347.26,228.54L348.24,227.54L349.54,227.54L350.84,228.09L352.25,228.65L353.34,228.2L355.3,228.65L356.27,228.98L357.47,229.53L357.36,230.53L355.3,230.31L354.1,230.2L353.12,229.98L351.28,229.64L349.54,229.2L348.56,229.2L347.48,228.65L347.26,228.54M358.45,230.31L360.62,230.42L362.25,230.64L364.09,230.2L366.37,230.42L367.68,230.2M368.66,230.86L370.5,230.31L370.94,230.53L368.76,231.97L367.24,232.42L368.66,230.86M351.39,219.34L352.15,218.78L352.91,219.12L353.78,218.01L355.73,217.56L356.6,216.23L357.9,215.57L358.45,215.02L359.21,214.24L359.75,213.35L360.73,213.91L361.81,214.68L362.46,215.02L361.6,215.57L361.16,216.23L361.05,217.56L361.38,218.45L362.14,219.89L361.16,220.11L360.62,221L360.62,221.89L359.64,222.66L359.53,223.77L359.1,225.32L357.9,225.43L357.36,224.88L356.6,224.77L354.75,224.88L353.78,224.32L352.69,224.21L352.58,222.77L352.04,222.44L351.49,221.55L351.39,220.56L351.39,219.34M362.68,227.1L363.77,227.1L363.77,225.77L364.31,224.99L365.07,226.1L366.27,226.54L366.81,226.21L365.94,224.77L365.4,224.21L364.85,223.11L366.05,222L366.92,222.11L366.48,221.33L364.96,220.45L364.2,219.56L365.07,219.89L366.81,220L368.11,220.56L368.98,219.45L368.11,220.45L366.27,220.56L364.31,220.45L363.55,220.78L363.33,221.55L363.12,222.44L362.57,223.33L362.25,224.77L362.79,225.43L362.68,227.1M371.91,218.56L372.13,219.89L371.59,221L372.57,221.67M372.02,224.66L373.65,224.1L375.06,224.66L374.09,224.77L372.46,224.99L372.02,224.66M375.28,222.33L376.26,221.78L376.8,221.44L378.43,221.78L378.86,222.55L378.97,223.88L380.17,224.77L381.8,223.44L383.21,222.88L384.19,223.33L385.92,223.88L387.12,224.21L388.42,224.66L389.94,225.21L391.35,226.43L391.46,227.1L393.2,227.76L393.64,228.31L392.55,228.43L392.98,229.76L393.96,229.98L395.16,231.09L395.81,232.08L396.89,232.42L395.92,232.86L394.72,232.42L393.31,232.19L392.12,230.86L390.16,229.42L388.64,230.09L388.75,230.98L387.88,231.31L386.14,231.09L384.08,229.98L382.88,230.31L383.64,229.09L383.32,227.87L382.77,226.99L380.6,225.99L378.21,224.88L377.45,225.54L376.37,224.1L377.56,223.77L376.69,223.44L375.71,222.66L375.28,222.33M394.07,227.21L395.7,227.1L396.79,227.1L397.65,225.66L398.41,225.77L397.98,226.99L396.13,227.98L394.72,227.76L394.07,227.21M396.79,223.88L398.31,224.55L399.17,225.77L398.85,226.1L397.65,225.1L396.79,223.88M401.35,226.76L402.32,228.2L402.98,228.54M403.52,229.09L404.93,229.87L406.02,230.31L407.32,231.31L408.41,231.86L409.28,232.75M414.16,237.96L414.6,238.62L415.68,239.62M411.12,243.39L412.43,244.5L413.95,245.61L414.38,245.72M425.68,240.51L426.87,240.62L426.65,241.17L425.68,241.06M427.2,239.73L428.07,239.18L428.5,238.96M363.99,200.5L364.75,200.5L365.72,200.5L365.83,202.05L365.61,202.93L365.07,203.38L365.18,205.15L365.72,205.26L366.59,205.71L367.68,206.59L367.79,207.15L366.92,206.59L366.16,206.37L365.4,205.93L364.53,205.93L363.99,205.26L364.31,204.82L363.99,204.38L363.22,203.93L363.22,202.82L363.66,202.38L363.77,201.49L363.99,200.5M369.2,210.14L370.07,210.69L370.28,211.69L370.39,213.02L370.07,214.02L369.63,212.91L369.2,213.46L369.2,214.79L367.89,214.13L367.57,213.35L367.89,212.8L367.24,212.36L366.59,212.69L365.83,213.24L365.4,213.02L365.83,212.13L367.13,211.36L368.33,211.58L369.2,210.14M365.51,207.81L366.05,209.14L366.7,210.14L367.24,210.36L366.92,209.58L367.68,208.7L368.33,209.36L368.76,208.59L369.31,207.48L368.33,207.03M360.29,211.69L361.6,210.69L362.79,209.36L362.57,208.81M356.27,245.38L357.03,245.16L357.47,245.05L358.34,244.83L359.75,243.83L360.51,243.94L362.03,243.5L362.79,243.17L364.31,242.83L365.07,241.73L365.72,240.95L365.83,240.17L367.03,240.17L367.46,238.96L368,239.07L368.66,237.74L369.52,237.07L369.96,236.63L371.04,236.3L372.02,237.51L373,237.74L373.76,237.51L374.85,235.52L375.06,234.74L377.02,234.41L377.02,233.86L376.15,233.52L377.45,233.63L378.97,234.3L379.95,234.52L381.04,234.19L381.69,234.74L381.15,235.74L380.6,235.74L380.06,237.29L381.04,238.29L381.91,238.73L383.21,239.62L384.3,240.29L385.27,240.62L386.25,239.62L386.9,237.62L386.68,236.18L386.9,234.74L387.77,232.86L388.1,233.41L388.42,234.19L388.86,235.19L388.97,236.52L390.05,236.74L390.92,237.62L390.81,238.62L391.79,240.73L391.68,241.95L393.2,242.61L394.61,243.61L395.59,245.72L396.68,245.83L397.55,247.71L399.07,249.04L399.28,249.93L399.83,252.25L399.28,254.25L399.17,255.69L398.63,257.13L397.76,257.57L397.22,258.57L396.68,260.01L396.03,261.34L395.81,262.12L395.26,262.89L394.07,262.89L393.09,263.34L392.01,264.11L390.92,263.56L390.38,263.01L389.94,263.23L388.97,264L387.44,263.56L386.79,263.45L385.71,263.12L384.62,262.45L384.62,261.01L383.86,260.46L382.99,260.46L383.32,259.13L382.77,258.24L382.67,257.13L382.23,257.91L381.15,258.79L380.6,259.68L379.84,259.24L379.84,258.57L379.19,257.8L378.86,257.13L377.45,256.47L376.37,256.47L375.61,255.91L373.65,256.02L372.24,256.47L371.04,256.8L369.96,256.69L368.87,257.24L367.89,257.46L367.68,258.13L367.35,258.57L365.72,258.68L364.75,258.46L363.33,258.57L363.22,258.68L362.57,259.24L361.7,259.46L361.16,259.9L360.4,259.79L359.64,259.79L358.55,259.13L357.9,258.91L358.01,258.24L358.66,257.91L358.66,257.46L358.77,256.69L358.66,256.02L358.12,254.91L357.9,253.7L357.47,252.92L357.47,252.59L357.03,251.92L356.82,251.26L356.27,250.37L356.06,249.93L356.6,250.37L356.16,249.37L356.71,249.71L357.03,250.15L357.03,249.59L356.49,248.71L356.38,248.38L356.16,248.04L356.6,246.6L356.49,245.94L356.27,245.38M390.16,266.11L390.92,266.22L392.01,266.55L393.42,266.22L394.07,266.33L394.18,267.66L393.74,267.99L393.64,268.88L393.31,268.66L392.55,269.32L392.33,269.32L391.57,269.21L390.92,268.33L390.81,267.55L390.16,266.66L390.16,266.11M420.46,259.24L420.9,260.01L422.31,260.12L422.63,261.12L423.4,262.23L423.5,261.45L423.94,261.79L424.16,262.67L425.68,263.12L426.33,262.67L426.87,262.78L426.65,263.78L426.22,264.45L425.46,264.34L425.13,264.67L425.24,265.22L424.16,266.77L423.29,267.22L423.18,266.88L422.74,266.77L423.29,265.89L422.96,265.22L421.77,264.78L422.63,264L422.74,263.12L422.74,262.45L422.31,261.45L422.31,261.68L421.77,261.01L421.01,260.01L420.46,259.24M420.9,266.33L421.77,266.77L422.2,266.77L422.2,267.33L421.87,267.77L421.11,268.66L420.57,269.1L421.01,269.66L420.14,269.66L419.27,269.99L418.94,270.76L418.29,271.87L417.42,272.43L416.88,272.65L415.9,272.65L415.25,272.32L414.05,272.21L413.84,271.87L414.38,270.99L415.79,269.88L416.44,269.66L417.31,269.32L418.18,268.66L418.83,268.1L419.38,267.33L419.7,267L419.92,266.33L420.68,265.89L420.9,266.33M307.72,274.87L308.59,275.2L309.57,275.42L309.24,275.97L308.48,275.64L307.72,274.87" stroke="#000" stroke-width="1.25" fill="none" stroke-linejoin="round"/></g><rect x="37.5" y="154.5" width="391" height="133" fill="none" stroke="#333" stroke-width="1"/><rect x="43" y="8.5" width="123" height="17.2" fill="#fff" fill-opacity="0.8"/><text x="46.3" y="21" font-size="12.5" textLength="116.3" lengthAdjust="spacingAndGlyphs">(a) Probability dry</text><rect x="43" y="156.4" width="173" height="17.1" fill="#fff" fill-opacity="0.8"/><text x="46.3" y="168.9" font-size="12.5" textLength="166" lengthAdjust="spacingAndGlyphs">(b) Light/Heavy threshold</text><text x="32.8" y="31.57" font-size="11.5" text-anchor="end" textLength="28.6" lengthAdjust="spacingAndGlyphs">40°N</text><text x="32.8" y="53.73" font-size="11.5" text-anchor="end" textLength="28.6" lengthAdjust="spacingAndGlyphs">20°N</text><text x="32.8" y="75.9" font-size="11.5" text-anchor="end" textLength="12.6" lengthAdjust="spacingAndGlyphs">0°</text><text x="32.8" y="98.07" font-size="11.5" text-anchor="end" textLength="27.8" lengthAdjust="spacingAndGlyphs">20°S</text><text x="32.8" y="120.23" font-size="11.5" text-anchor="end" textLength="27.8" lengthAdjust="spacingAndGlyphs">40°S</text><text x="32.8" y="180.57" font-size="11.5" text-anchor="end" textLength="28.6" lengthAdjust="spacingAndGlyphs">40°N</text><text x="32.8" y="202.73" font-size="11.5" text-anchor="end" textLength="28.6" lengthAdjust="spacingAndGlyphs">20°N</text><text x="32.8" y="224.9" font-size="11.5" text-anchor="end" textLength="12.6" lengthAdjust="spacingAndGlyphs">0°</text><text x="32.8" y="247.07" font-size="11.5" text-anchor="end" textLength="27.8" lengthAdjust="spacingAndGlyphs">20°S</text><text x="32.8" y="269.23" font-size="11.5" text-anchor="end" textLength="27.8" lengthAdjust="spacingAndGlyphs">40°S</text><text x="37.5" y="302.0" font-size="11.5" text-anchor="middle" textLength="27.6" lengthAdjust="spacingAndGlyphs">180°</text><text x="102.67" y="302.0" font-size="11.5" text-anchor="middle" textLength="38.2" lengthAdjust="spacingAndGlyphs">120°W</text><text x="167.83" y="302.0" font-size="11.5" text-anchor="middle" textLength="31.6" lengthAdjust="spacingAndGlyphs">60°W</text><text x="233" y="302.0" font-size="11.5" text-anchor="middle" textLength="12.2" lengthAdjust="spacingAndGlyphs">0°</text><text x="298.17" y="302.0" font-size="11.5" text-anchor="middle" textLength="28.4" lengthAdjust="spacingAndGlyphs">60°E</text><text x="363.33" y="302.0" font-size="11.5" text-anchor="middle" textLength="35.2" lengthAdjust="spacingAndGlyphs">120°E</text><text x="428.5" y="302.0" font-size="11.5" text-anchor="middle" textLength="27.8" lengthAdjust="spacingAndGlyphs">180°</text><defs><linearGradient id="cbv" x1="0" y1="0" x2="0" y2="1"><stop offset="0" stop-color="#fde725"/><stop offset="0.06" stop-color="#d8e219"/><stop offset="0.12" stop-color="#addc30"/><stop offset="0.19" stop-color="#84d44b"/><stop offset="0.25" stop-color="#5ec962"/><stop offset="0.31" stop-color="#3fbc73"/><stop offset="0.38" stop-color="#28ae80"/><stop offset="0.44" stop-color="#1fa088"/><stop offset="0.5" stop-color="#21918c"/><stop offset="0.56" stop-color="#26828e"/><stop offset="0.62" stop-color="#2c728e"/><stop offset="0.69" stop-color="#33638d"/><stop offset="0.75" stop-color="#3b528b"/><stop offset="0.81" stop-color="#424086"/><stop offset="0.88" stop-color="#472d7b"/><stop offset="0.94" stop-color="#48186a"/><stop offset="1" stop-color="#440154"/></linearGradient></defs><rect x="444.5" y="5.5" width="6.5" height="133" fill="url(#cbv)" stroke="#333" stroke-width="1"/><path d="M451,13h3.5" stroke="#333" stroke-width="0.9"/><text x="458.6" y="17.5" font-size="11.5" textLength="17.6" lengthAdjust="spacingAndGlyphs">0.8</text><path d="M451,44.7h3.5" stroke="#333" stroke-width="0.9"/><text x="458.6" y="49.2" font-size="11.5" textLength="17.6" lengthAdjust="spacingAndGlyphs">0.6</text><path d="M451,76.4h3.5" stroke="#333" stroke-width="0.9"/><text x="458.6" y="80.9" font-size="11.5" textLength="17.6" lengthAdjust="spacingAndGlyphs">0.4</text><path d="M451,108h3.5" stroke="#333" stroke-width="0.9"/><text x="458.6" y="112.5" font-size="11.5" textLength="17.6" lengthAdjust="spacingAndGlyphs">0.2</text><rect x="444.5" y="154.5" width="6.5" height="14.98" fill="#081d58"/><rect x="444.5" y="169.28" width="6.5" height="14.98" fill="#253494"/><rect x="444.5" y="184.06" width="6.5" height="14.98" fill="#225ea8"/><rect x="444.5" y="198.83" width="6.5" height="14.98" fill="#1d91c0"/><rect x="444.5" y="213.61" width="6.5" height="14.98" fill="#41b6c4"/><rect x="444.5" y="228.39" width="6.5" height="14.98" fill="#7fcdbb"/><rect x="444.5" y="243.17" width="6.5" height="14.98" fill="#c7e9b4"/><rect x="444.5" y="257.94" width="6.5" height="14.98" fill="#edf8b1"/><rect x="444.5" y="272.72" width="6.5" height="14.98" fill="#ffffd9"/><rect x="444.5" y="154.5" width="6.5" height="133" fill="none" stroke="#333" stroke-width="1"/><path d="M451,154.5h3.5" stroke="#333" stroke-width="0.9"/><text x="458.6" y="159.1" font-size="11.5" textLength="21.6" lengthAdjust="spacingAndGlyphs">128</text><path d="M451,169.28h3.5" stroke="#333" stroke-width="0.9"/><text x="458.6" y="173.88" font-size="11.5" textLength="14.2" lengthAdjust="spacingAndGlyphs">64</text><path d="M451,184.06h3.5" stroke="#333" stroke-width="0.9"/><text x="458.6" y="188.66" font-size="11.5" textLength="14.2" lengthAdjust="spacingAndGlyphs">32</text><path d="M451,198.83h3.5" stroke="#333" stroke-width="0.9"/><text x="458.6" y="203.43" font-size="11.5" textLength="14.2" lengthAdjust="spacingAndGlyphs">16</text><path d="M451,213.61h3.5" stroke="#333" stroke-width="0.9"/><text x="458.6" y="218.21" font-size="11.5" textLength="7.1" lengthAdjust="spacingAndGlyphs">8</text><path d="M451,228.39h3.5" stroke="#333" stroke-width="0.9"/><text x="458.6" y="232.99" font-size="11.5" textLength="7.1" lengthAdjust="spacingAndGlyphs">4</text><path d="M451,243.17h3.5" stroke="#333" stroke-width="0.9"/><text x="458.6" y="247.77" font-size="11.5" textLength="7.1" lengthAdjust="spacingAndGlyphs">2</text><path d="M451,257.94h3.5" stroke="#333" stroke-width="0.9"/><text x="458.6" y="262.54" font-size="11.5" textLength="7.1" lengthAdjust="spacingAndGlyphs">1</text><path d="M451,272.72h3.5" stroke="#333" stroke-width="0.9"/><text x="458.6" y="277.32" font-size="11.5" textLength="7.1" lengthAdjust="spacingAndGlyphs">0</text><path d="M451,287.5h3.5" stroke="#333" stroke-width="0.9"/><text x="458.6" y="292.1" font-size="11.5" textLength="7.1" lengthAdjust="spacingAndGlyphs">0</text><text transform="translate(493.3,223) rotate(-90)" font-size="11.5" text-anchor="middle" textLength="46" lengthAdjust="spacingAndGlyphs">mm/day</text></svg></body></html>
